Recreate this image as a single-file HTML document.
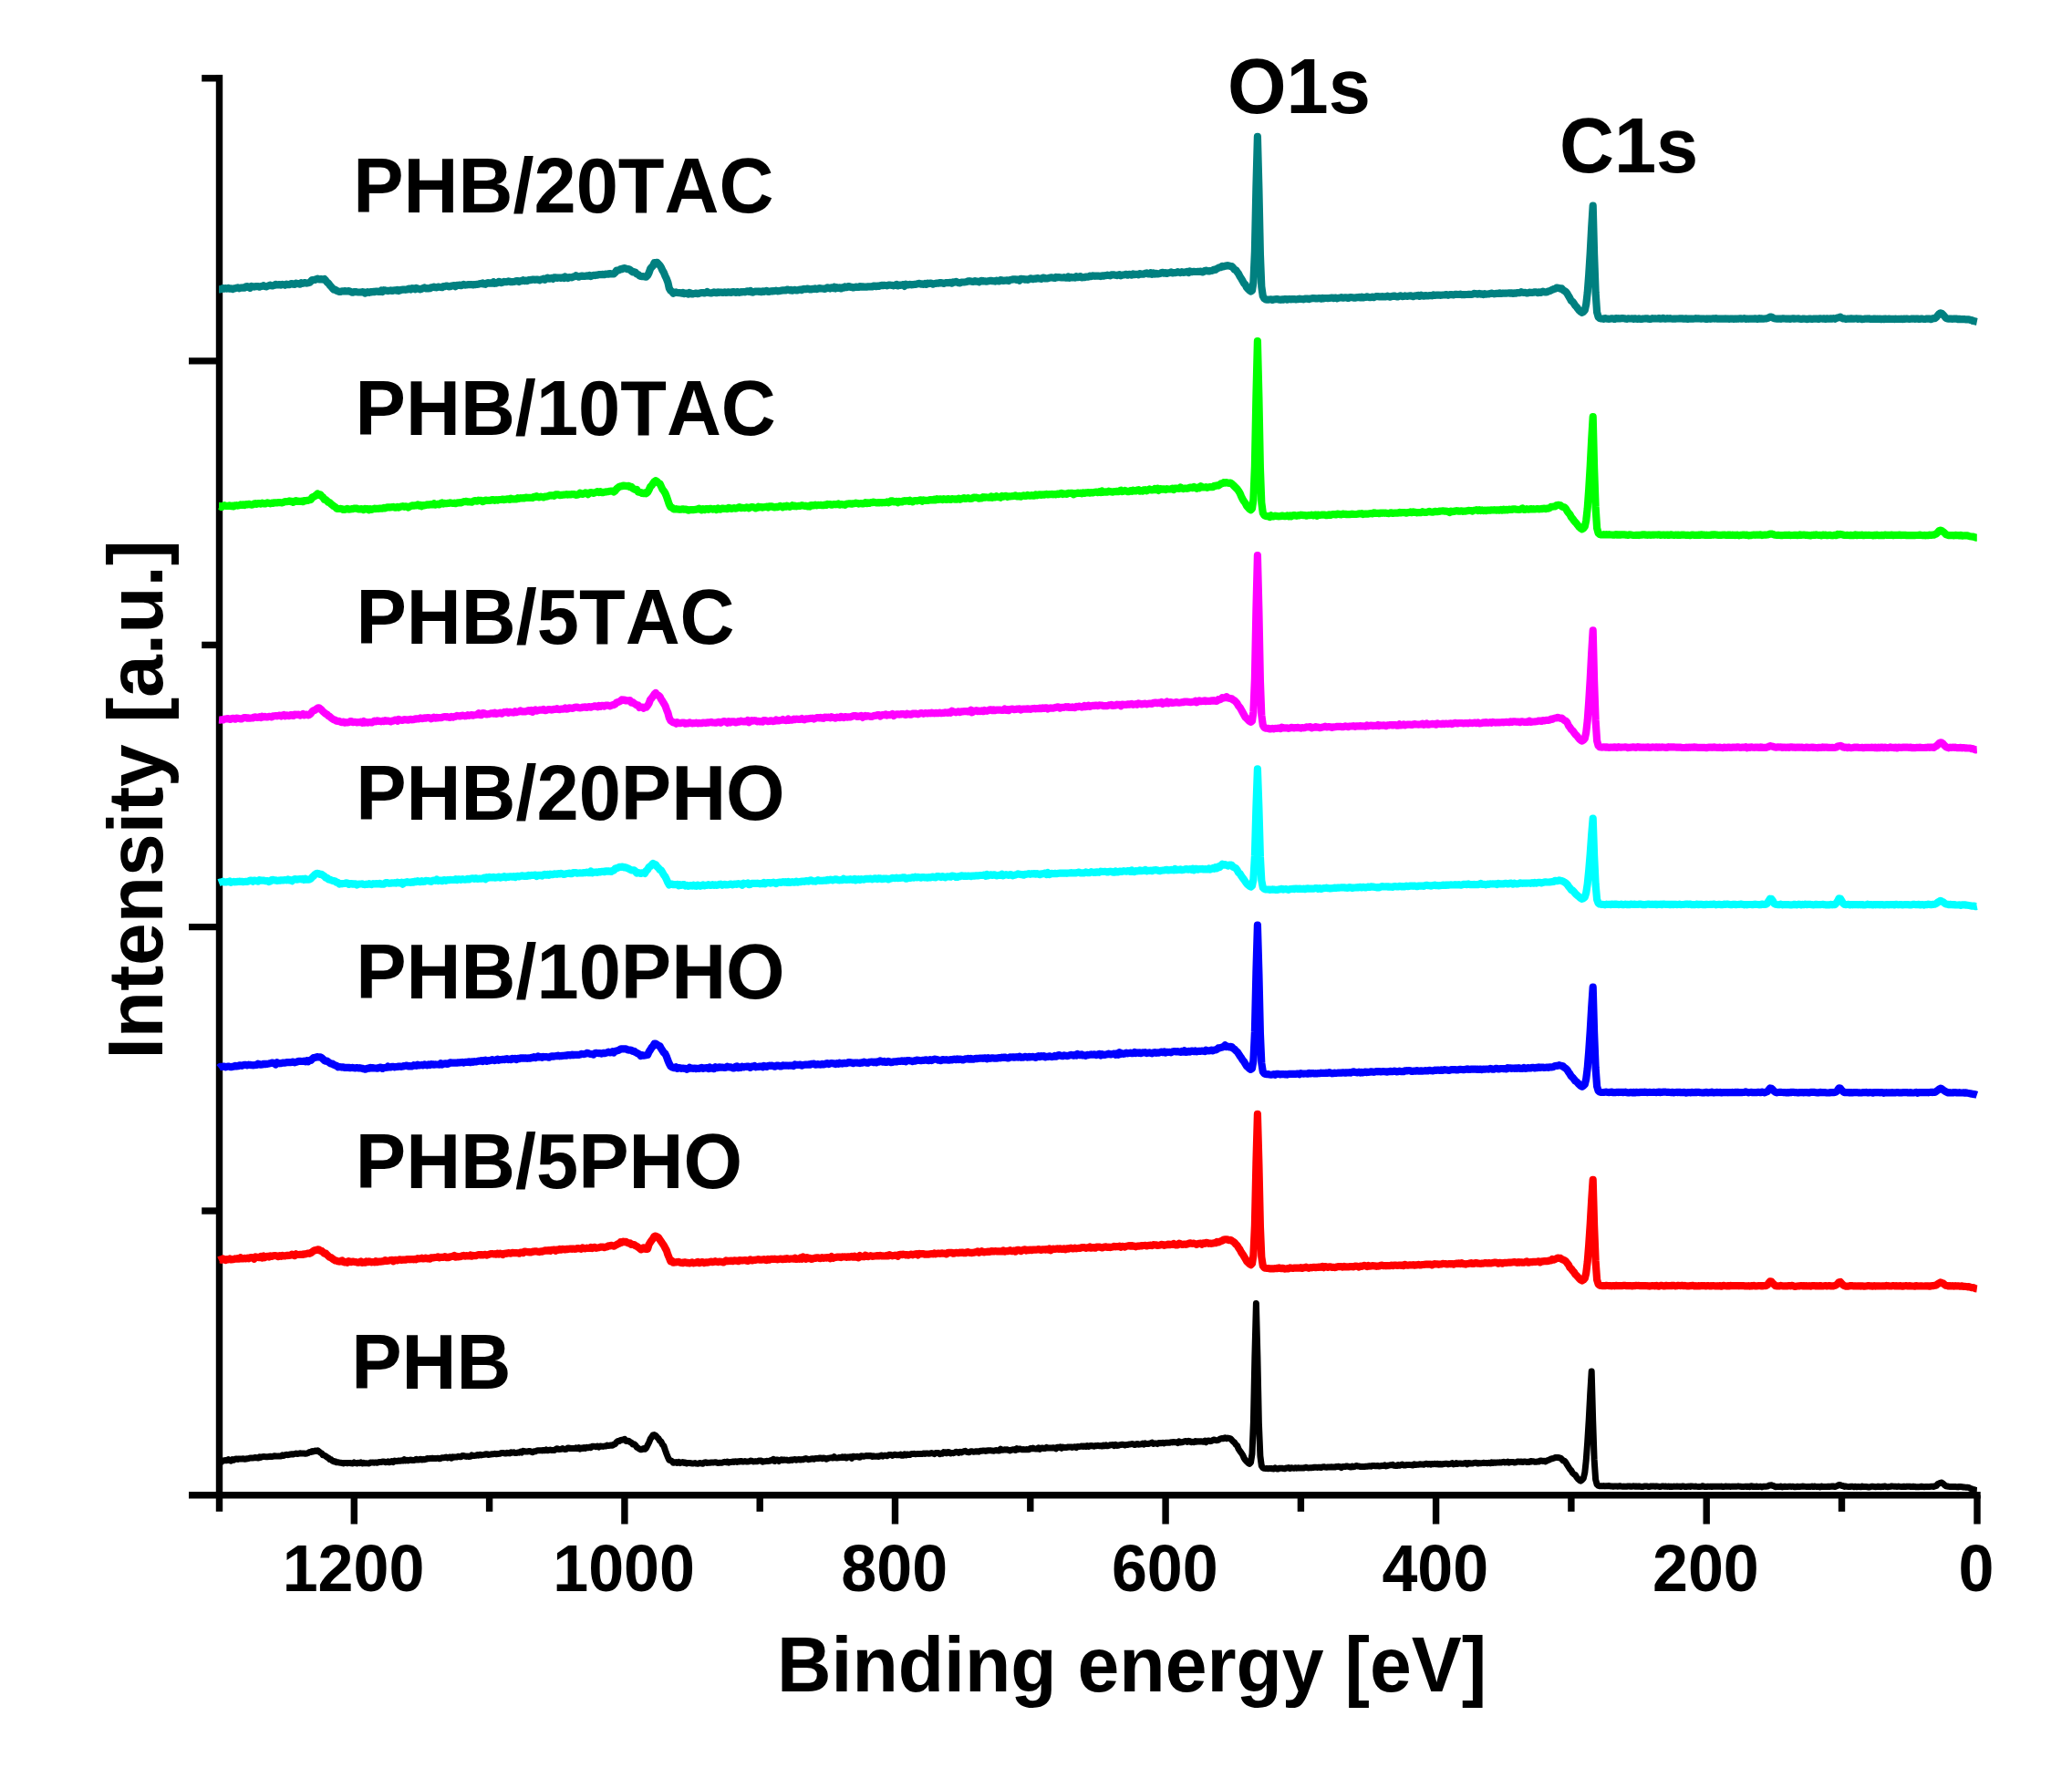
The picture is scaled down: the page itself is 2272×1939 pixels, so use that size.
<!DOCTYPE html>
<html lang="en"><head><meta charset="utf-8"><title>XPS survey spectra</title>
<style>
html,body{margin:0;padding:0;background:#fff;}
body{width:2272px;height:1939px;overflow:hidden;}
svg{display:block;}
text{font-family:"Liberation Sans",Arial,Helvetica,sans-serif;font-weight:bold;fill:#000;font-kerning:none;}
.lab{font-size:83px;}
.tick{font-size:70px;text-anchor:middle;}
.ax{stroke:#000;stroke-width:7.4;stroke-linecap:butt;fill:none;}
.cv{fill:none;stroke-width:8.2;stroke-linejoin:round;stroke-linecap:butt;}
</style></head>
<body>
<svg width="2272" height="1939" viewBox="0 0 2272 1939">
<rect width="2272" height="1939" fill="#fff"/>
<g class="ax">
<path d="M240.5 82.1V1657.8"/>
<path d="M207 1639.8H2171.7"/>
<path d="M221.2 85.8H240.5"/>
<path d="M207 395.9H240.5"/>
<path d="M221.2 707.4H240.5"/>
<path d="M207 1016.6H240.5"/>
<path d="M221.2 1328.0H240.5"/>
<path d="M2168.0 1639.8V1671.5"/>
<path d="M2019.5 1639.8V1657.8"/>
<path d="M1871.2 1639.8V1671.5"/>
<path d="M1722.9 1639.8V1657.8"/>
<path d="M1574.6 1639.8V1671.5"/>
<path d="M1426.4 1639.8V1657.8"/>
<path d="M1278.1 1639.8V1671.5"/>
<path d="M1129.8 1639.8V1657.8"/>
<path d="M981.5 1639.8V1671.5"/>
<path d="M833.2 1639.8V1657.8"/>
<path d="M684.9 1639.8V1671.5"/>
<path d="M536.6 1639.8V1657.8"/>
<path d="M388.3 1639.8V1671.5"/>
</g>
<path class="cv" stroke="#008080" d="M240.0 317.4L241.5 317.4L243.0 317.0L244.5 316.1L246.0 316.6L247.4 316.1L248.9 316.6L250.4 315.8L251.9 316.7L253.4 316.4L254.9 317.1L256.3 316.3L257.8 316.3L259.3 315.7L260.8 315.4L262.3 316.3L263.8 315.6L265.2 315.7L266.7 315.4L268.2 315.6L269.7 314.3L271.2 314.2L272.7 315.2L274.1 315.9L275.6 313.8L277.1 314.3L278.6 314.6L280.1 314.2L281.6 314.2L283.0 314.0L284.5 314.6L286.0 314.0L287.5 314.0L289.0 313.2L290.4 314.0L291.9 314.4L293.4 313.8L294.9 313.2L296.4 312.7L297.9 313.4L299.3 313.3L300.8 312.9L302.3 311.8L303.8 312.4L305.3 312.2L306.8 312.2L308.2 312.6L309.7 311.9L311.2 312.2L312.7 312.8L314.2 311.7L315.7 312.0L317.1 312.2L318.6 311.5L320.1 311.0L321.6 311.7L323.1 311.9L324.6 310.6L326.0 311.1L327.5 311.0L329.0 311.7L330.5 310.2L332.0 310.8L333.5 310.1L334.9 310.2L336.4 310.6L337.9 310.3L339.4 309.9L340.9 308.5L342.4 307.0L343.8 307.0L345.3 307.0L346.8 306.1L348.3 305.7L349.8 306.5L351.2 306.2L352.7 306.2L354.2 306.6L355.7 306.0L357.2 307.6L358.7 309.6L360.1 310.6L361.6 312.7L363.1 314.4L364.6 316.1L366.1 317.7L367.6 317.6L369.0 318.7L370.5 319.4L372.0 319.9L373.5 319.9L375.0 319.4L376.5 319.5L377.9 319.1L379.4 319.4L380.9 319.3L382.4 319.2L383.9 319.7L385.4 320.4L386.8 320.7L388.3 320.1L389.8 320.0L391.3 320.3L392.8 320.5L394.3 320.5L395.7 320.5L397.2 320.2L398.7 320.3L400.2 321.5L401.7 321.0L403.1 320.1L404.6 320.8L406.1 320.0L407.6 320.3L409.1 319.9L410.6 320.1L412.0 319.6L413.5 319.6L415.0 319.9L416.5 319.8L418.0 318.6L419.5 319.9L420.9 318.2L422.4 318.4L423.9 318.7L425.4 319.1L426.9 318.7L428.4 318.4L429.8 319.0L431.3 318.5L432.8 318.3L434.3 318.6L435.8 317.8L437.3 319.0L438.7 318.5L440.2 317.8L441.7 317.7L443.2 317.6L444.7 317.8L446.2 317.5L447.6 316.8L449.1 316.6L450.6 317.5L452.1 316.2L453.6 316.4L455.1 317.2L456.5 315.9L458.0 316.7L459.5 316.8L461.0 317.4L462.5 316.7L463.9 316.1L465.4 315.4L466.9 316.4L468.4 316.2L469.9 316.3L471.4 316.2L472.8 315.3L474.3 315.1L475.8 314.6L477.3 315.2L478.8 315.3L480.3 314.5L481.7 314.8L483.2 315.0L484.7 315.2L486.2 314.0L487.7 314.1L489.2 313.6L490.6 313.5L492.1 314.3L493.6 314.2L495.1 313.5L496.6 313.4L498.1 313.1L499.5 314.2L501.0 312.9L502.5 312.9L504.0 312.6L505.5 313.2L507.0 312.5L508.4 311.8L509.9 312.6L511.4 312.5L512.9 312.2L514.4 312.2L515.8 312.2L517.3 312.1L518.8 312.4L520.3 312.1L521.8 312.1L523.3 311.8L524.7 311.7L526.2 311.2L527.7 311.2L529.2 310.5L530.7 311.5L532.2 311.8L533.6 310.7L535.1 310.2L536.6 310.7L538.1 310.3L539.6 310.7L541.1 309.4L542.5 310.8L544.0 310.6L545.5 310.1L547.0 308.8L548.5 309.5L550.0 310.2L551.4 309.5L552.9 308.9L554.4 309.2L555.9 309.1L557.4 308.4L558.9 308.8L560.3 309.2L561.8 309.1L563.3 309.0L564.8 308.6L566.3 308.0L567.8 308.1L569.2 309.0L570.7 308.2L572.2 308.2L573.7 307.2L575.2 308.1L576.6 307.6L578.1 308.1L579.6 307.1L581.1 307.1L582.6 306.9L584.1 306.6L585.5 306.7L587.0 306.8L588.5 306.6L590.0 306.6L591.5 307.3L593.0 306.5L594.4 306.4L595.9 305.7L597.4 306.8L598.9 305.5L600.4 304.7L601.9 305.7L603.3 305.7L604.8 304.9L606.3 305.9L607.8 304.4L609.3 304.3L610.8 304.9L612.2 304.6L613.7 304.6L615.2 304.9L616.7 304.4L618.2 305.0L619.7 303.5L621.1 304.4L622.6 305.0L624.1 304.0L625.6 304.2L627.1 304.3L628.5 303.6L630.0 303.3L631.5 302.2L633.0 302.9L634.5 303.7L636.0 303.0L637.4 302.5L638.9 303.0L640.4 302.8L641.9 302.8L643.4 302.4L644.9 302.7L646.3 302.0L647.8 303.0L649.3 302.3L650.8 301.8L652.3 302.1L653.8 301.7L655.2 301.7L656.7 301.2L658.2 301.2L659.7 301.1L661.2 300.9L662.7 301.2L664.1 300.6L665.6 300.5L667.1 300.7L668.6 300.0L670.1 300.4L671.6 300.4L673.0 300.3L674.5 299.0L676.0 296.6L677.5 296.7L679.0 296.2L680.5 295.1L681.9 295.2L683.4 294.3L684.9 294.2L686.4 294.7L687.9 295.2L689.3 295.1L690.8 295.9L692.3 297.2L693.8 298.4L695.3 298.1L696.8 298.8L698.2 300.6L699.7 300.9L701.2 302.4L702.7 303.0L704.2 303.2L705.7 303.2L707.1 303.4L708.6 303.7L710.1 302.2L711.6 299.1L713.1 294.8L714.6 292.9L716.0 291.6L717.5 288.1L719.0 288.1L720.5 287.9L722.0 289.5L723.5 290.9L724.9 293.1L726.4 296.5L727.9 298.9L729.4 302.7L730.9 305.8L732.4 309.9L733.8 316.1L735.3 318.7L736.8 319.8L738.3 321.7L739.8 320.8L741.3 320.4L742.7 321.0L744.2 321.2L745.7 321.2L747.2 321.6L748.7 320.9L750.1 322.1L751.6 321.6L753.1 321.6L754.6 322.6L756.1 321.0L757.6 321.6L759.0 322.5L760.5 322.0L762.0 322.0L763.5 321.5L765.0 322.1L766.5 321.9L767.9 321.2L769.4 321.0L770.9 321.1L772.4 321.4L773.9 321.1L775.4 320.0L776.8 320.9L778.3 321.2L779.8 321.5L781.3 321.1L782.8 320.3L784.3 320.8L785.7 321.2L787.2 320.3L788.7 320.8L790.2 320.5L791.7 320.9L793.2 320.8L794.6 320.4L796.1 321.0L797.6 320.6L799.1 320.3L800.6 320.8L802.0 321.0L803.5 320.2L805.0 320.1L806.5 320.8L808.0 320.0L809.5 320.5L810.9 320.9L812.4 320.2L813.9 320.3L815.4 320.0L816.9 320.3L818.4 319.5L819.8 319.3L821.3 319.9L822.8 318.9L824.3 320.5L825.8 320.6L827.3 319.9L828.7 319.5L830.2 319.5L831.7 319.8L833.2 319.5L834.7 320.2L836.2 319.3L837.6 319.8L839.1 319.3L840.6 318.8L842.1 319.9L843.6 319.8L845.1 319.4L846.5 319.2L848.0 319.3L849.5 319.1L851.0 318.7L852.5 319.3L854.0 319.2L855.4 318.9L856.9 318.6L858.4 318.4L859.9 318.4L861.4 318.5L862.8 317.7L864.3 317.7L865.8 318.3L867.3 317.8L868.8 318.6L870.3 318.0L871.7 317.9L873.2 318.4L874.7 318.3L876.2 317.7L877.7 317.5L879.2 318.1L880.6 317.0L882.1 316.9L883.6 317.2L885.1 316.6L886.6 316.8L888.1 317.4L889.5 317.5L891.0 316.9L892.5 316.9L894.0 316.4L895.5 317.1L897.0 316.6L898.4 316.1L899.9 316.4L901.4 316.5L902.9 316.6L904.4 316.9L905.9 316.4L907.3 315.3L908.8 315.9L910.3 316.5L911.8 315.4L913.3 316.1L914.7 314.9L916.2 316.4L917.7 315.2L919.2 315.9L920.7 315.3L922.2 316.4L923.6 315.4L925.1 315.7L926.6 314.4L928.1 315.2L929.6 314.5L931.1 314.0L932.5 314.9L934.0 314.8L935.5 315.5L937.0 315.1L938.5 314.6L940.0 314.9L941.4 314.9L942.9 314.0L944.4 314.6L945.9 314.4L947.4 314.6L948.9 314.5L950.3 314.6L951.8 314.4L953.3 314.4L954.8 314.3L956.3 314.5L957.8 313.6L959.2 313.5L960.7 314.1L962.2 313.6L963.7 313.9L965.2 313.3L966.7 312.9L968.1 313.1L969.6 312.9L971.1 313.0L972.6 313.3L974.1 312.5L975.5 312.6L977.0 312.8L978.5 312.8L980.0 313.3L981.5 312.7L983.0 312.0L984.4 313.4L985.9 312.5L987.4 312.9L988.9 312.4L990.4 312.1L991.9 313.8L993.3 311.7L994.8 312.4L996.3 312.3L997.8 311.9L999.3 312.3L1000.8 312.2L1002.2 311.9L1003.7 311.9L1005.2 311.6L1006.7 311.1L1008.2 310.9L1009.7 311.7L1011.1 311.3L1012.6 311.8L1014.1 311.0L1015.6 311.8L1017.1 310.6L1018.6 311.2L1020.0 310.5L1021.5 310.8L1023.0 311.6L1024.5 311.0L1026.0 310.9L1027.4 310.6L1028.9 310.6L1030.4 310.0L1031.9 310.5L1033.4 310.3L1034.9 310.9L1036.3 310.4L1037.8 310.0L1039.3 310.1L1040.8 310.1L1042.3 309.8L1043.8 310.6L1045.2 309.4L1046.7 309.7L1048.2 308.9L1049.7 309.5L1051.2 310.2L1052.7 310.3L1054.1 309.6L1055.6 309.5L1057.1 309.5L1058.6 309.3L1060.1 309.0L1061.6 308.4L1063.0 308.2L1064.5 308.5L1066.0 308.8L1067.5 308.9L1069.0 308.1L1070.5 308.6L1071.9 308.7L1073.4 309.3L1074.9 308.5L1076.4 307.8L1077.9 308.5L1079.4 308.3L1080.8 308.6L1082.3 308.6L1083.8 308.2L1085.3 307.9L1086.8 307.9L1088.2 308.1L1089.7 308.3L1091.2 308.6L1092.7 307.7L1094.2 308.2L1095.7 308.4L1097.1 307.2L1098.6 307.3L1100.1 308.0L1101.6 307.6L1103.1 307.6L1104.6 307.3L1106.0 308.0L1107.5 307.0L1109.0 306.8L1110.5 306.3L1112.0 306.3L1113.5 306.3L1114.9 306.9L1116.4 306.5L1117.9 307.6L1119.4 305.8L1120.9 306.1L1122.4 306.2L1123.8 306.7L1125.3 306.4L1126.8 306.8L1128.3 306.3L1129.8 305.4L1131.3 305.6L1132.7 306.2L1134.2 305.6L1135.7 305.8L1137.2 305.0L1138.7 305.5L1140.2 305.5L1141.6 305.9L1143.1 305.0L1144.6 304.5L1146.1 305.5L1147.6 305.3L1149.0 305.3L1150.5 304.7L1152.0 304.4L1153.5 304.4L1155.0 304.8L1156.5 305.0L1157.9 303.9L1159.4 304.3L1160.9 304.1L1162.4 304.3L1163.9 304.5L1165.4 304.5L1166.8 304.2L1168.3 304.6L1169.8 304.7L1171.3 303.5L1172.8 304.8L1174.3 303.9L1175.7 304.5L1177.2 304.2L1178.7 304.6L1180.2 303.3L1181.7 304.2L1183.2 303.6L1184.6 303.1L1186.1 304.4L1187.6 304.2L1189.1 304.2L1190.6 303.5L1192.1 303.5L1193.5 303.6L1195.0 302.7L1196.5 303.2L1198.0 302.4L1199.5 302.5L1200.9 302.8L1202.4 302.6L1203.9 302.5L1205.4 302.8L1206.9 303.1L1208.4 302.4L1209.8 302.7L1211.3 302.3L1212.8 302.1L1214.3 301.7L1215.8 302.0L1217.3 302.3L1218.7 301.3L1220.2 301.4L1221.7 301.3L1223.2 301.8L1224.7 302.1L1226.2 301.6L1227.6 301.1L1229.1 302.3L1230.6 301.6L1232.1 301.5L1233.6 301.1L1235.1 300.8L1236.5 301.7L1238.0 300.8L1239.5 301.0L1241.0 301.7L1242.5 300.4L1244.0 301.1L1245.4 300.9L1246.9 300.9L1248.4 301.4L1249.9 300.1L1251.4 300.7L1252.9 300.6L1254.3 300.7L1255.8 299.7L1257.3 299.4L1258.8 300.5L1260.3 300.5L1261.7 299.3L1263.2 300.7L1264.7 299.5L1266.2 300.5L1267.7 299.8L1269.2 300.5L1270.6 300.2L1272.1 299.9L1273.6 299.0L1275.1 298.8L1276.6 299.7L1278.1 299.1L1279.5 299.9L1281.0 299.3L1282.5 299.1L1284.0 298.4L1285.5 299.5L1287.0 299.1L1288.4 299.2L1289.9 299.0L1291.4 298.2L1292.9 298.6L1294.4 299.1L1295.9 298.2L1297.3 298.9L1298.8 298.7L1300.3 298.3L1301.8 297.8L1303.3 299.0L1304.8 297.5L1306.2 298.1L1307.7 298.1L1309.2 297.8L1310.7 298.0L1312.2 298.0L1313.6 297.8L1315.1 297.8L1316.6 297.7L1318.1 298.5L1319.6 298.0L1321.1 297.0L1322.5 296.6L1324.0 297.2L1325.5 297.5L1327.0 297.0L1328.5 297.0L1330.0 296.4L1331.4 295.6L1332.9 295.8L1334.4 294.6L1335.9 293.9L1337.4 293.3L1338.9 293.1L1340.3 291.8L1341.8 292.3L1343.3 291.5L1344.8 291.7L1346.3 291.2L1347.8 291.5L1349.2 292.2L1350.7 292.2L1352.2 293.7L1353.7 295.6L1355.2 296.2L1356.7 298.3L1358.1 300.2L1359.6 303.3L1361.1 305.5L1362.6 308.1L1364.1 310.9L1365.6 312.2L1367.0 315.3L1368.5 316.9L1370.0 318.4L1371.5 319.5L1373.0 318.5L1374.4 309.5L1375.9 275.8L1377.4 205.7L1378.9 149.9L1380.4 207.2L1381.9 279.0L1383.3 314.3L1384.8 324.8L1386.3 327.4L1387.8 328.4L1389.3 328.6L1390.8 328.6L1392.2 328.5L1393.7 328.3L1395.2 328.9L1396.7 328.6L1398.2 328.3L1399.7 328.1L1401.1 328.2L1402.6 328.6L1404.1 328.8L1405.6 328.4L1407.1 328.6L1408.6 328.0L1410.0 328.1L1411.5 328.7L1413.0 328.2L1414.5 328.2L1416.0 328.3L1417.5 328.0L1418.9 328.0L1420.4 328.3L1421.9 328.3L1423.4 328.1L1424.9 327.7L1426.4 327.9L1427.8 328.0L1429.3 328.4L1430.8 327.6L1432.3 327.6L1433.8 327.7L1435.2 328.1L1436.7 327.5L1438.2 327.4L1439.7 327.0L1441.2 327.2L1442.7 327.3L1444.1 327.4L1445.6 327.2L1447.1 327.2L1448.6 327.7L1450.1 326.8L1451.6 327.3L1453.0 327.0L1454.5 327.0L1456.0 327.1L1457.5 327.0L1459.0 326.7L1460.5 326.5L1461.9 327.1L1463.4 326.9L1464.9 326.5L1466.4 327.3L1467.9 326.7L1469.4 326.5L1470.8 326.2L1472.3 326.7L1473.8 326.6L1475.3 326.3L1476.8 326.6L1478.3 327.0L1479.7 326.3L1481.2 326.1L1482.7 326.3L1484.2 326.6L1485.7 326.7L1487.1 326.3L1488.6 326.2L1490.1 325.9L1491.6 326.5L1493.1 325.6L1494.6 326.5L1496.0 326.1L1497.5 326.0L1499.0 325.4L1500.5 325.9L1502.0 326.1L1503.5 326.1L1504.9 325.5L1506.4 326.2L1507.9 325.4L1509.4 325.1L1510.9 325.2L1512.4 325.3L1513.8 325.5L1515.3 325.2L1516.8 325.3L1518.3 325.3L1519.8 325.4L1521.3 324.7L1522.7 325.1L1524.2 325.7L1525.7 325.1L1527.2 324.9L1528.7 324.5L1530.2 325.0L1531.6 325.4L1533.1 325.3L1534.6 324.6L1536.1 324.4L1537.6 325.1L1539.1 325.0L1540.5 324.4L1542.0 324.7L1543.5 324.9L1545.0 324.5L1546.5 324.3L1547.9 324.7L1549.4 325.2L1550.9 324.5L1552.4 324.4L1553.9 324.5L1555.4 323.8L1556.8 324.8L1558.3 323.7L1559.8 324.4L1561.3 324.6L1562.8 324.0L1564.3 324.5L1565.7 324.5L1567.2 324.1L1568.7 324.0L1570.2 324.3L1571.7 323.3L1573.2 323.9L1574.6 323.7L1576.1 323.7L1577.6 323.6L1579.1 323.8L1580.6 323.7L1582.1 323.5L1583.5 323.5L1585.0 323.2L1586.5 323.1L1588.0 323.8L1589.5 323.2L1591.0 323.2L1592.4 323.2L1593.9 323.4L1595.4 322.9L1596.9 322.8L1598.4 323.0L1599.8 323.0L1601.3 322.6L1602.8 323.1L1604.3 323.1L1605.8 323.2L1607.3 323.0L1608.7 323.0L1610.2 322.9L1611.7 322.9L1613.2 323.0L1614.7 322.8L1616.2 321.9L1617.6 322.0L1619.1 322.4L1620.6 322.6L1622.1 321.9L1623.6 322.6L1625.1 322.4L1626.5 323.1L1628.0 322.2L1629.5 322.6L1631.0 322.5L1632.5 322.4L1634.0 322.1L1635.4 321.6L1636.9 321.9L1638.4 322.3L1639.9 322.1L1641.4 321.8L1642.9 321.8L1644.3 321.3L1645.8 322.0L1647.3 321.7L1648.8 321.7L1650.3 321.5L1651.8 321.6L1653.2 321.5L1654.7 321.4L1656.2 321.6L1657.7 321.3L1659.2 322.0L1660.6 321.4L1662.1 321.7L1663.6 321.1L1665.1 321.1L1666.6 321.2L1668.1 320.2L1669.5 320.8L1671.0 321.0L1672.5 320.8L1674.0 321.3L1675.5 321.4L1677.0 320.7L1678.4 320.8L1679.9 320.9L1681.4 320.7L1682.9 320.3L1684.4 320.4L1685.9 321.1L1687.3 320.3L1688.8 321.0L1690.3 320.5L1691.8 319.7L1693.3 320.2L1694.8 320.5L1696.2 320.2L1697.7 319.5L1699.2 319.1L1700.7 318.5L1702.2 317.7L1703.7 317.1L1705.1 316.8L1706.6 315.7L1708.1 315.7L1709.6 316.0L1711.1 316.6L1712.5 316.4L1714.0 318.1L1715.5 319.1L1717.0 320.0L1718.5 322.0L1720.0 324.7L1721.4 327.0L1722.9 330.0L1724.4 330.8L1725.9 332.9L1727.4 335.2L1728.9 336.8L1730.3 338.7L1731.8 340.6L1733.3 342.0L1734.8 342.8L1736.3 341.9L1737.8 340.1L1739.2 333.9L1740.7 321.1L1742.2 301.2L1743.7 277.4L1745.2 249.5L1746.7 225.5L1748.1 279.1L1749.6 320.3L1751.1 342.4L1752.6 347.7L1754.1 349.1L1755.6 349.4L1757.0 349.5L1758.5 349.9L1760.0 349.1L1761.5 349.4L1763.0 349.7L1764.5 349.8L1765.9 349.6L1767.4 349.3L1768.9 349.6L1770.4 350.0L1771.9 349.0L1773.3 349.4L1774.8 349.2L1776.3 349.4L1777.8 349.2L1779.3 349.1L1780.8 349.3L1782.2 349.6L1783.7 349.8L1785.2 349.3L1786.7 349.5L1788.2 349.5L1789.7 349.4L1791.1 349.8L1792.6 349.3L1794.1 349.7L1795.6 349.8L1797.1 349.3L1798.6 349.8L1800.0 349.9L1801.5 349.6L1803.0 349.5L1804.5 349.3L1806.0 349.3L1807.5 349.7L1808.9 349.9L1810.4 349.9L1811.9 349.2L1813.4 349.5L1814.9 349.4L1816.4 349.5L1817.8 349.4L1819.3 349.0L1820.8 349.7L1822.3 349.5L1823.8 348.9L1825.3 349.7L1826.7 349.6L1828.2 349.2L1829.7 349.4L1831.2 349.2L1832.7 349.5L1834.1 349.7L1835.6 349.5L1837.1 349.6L1838.6 349.5L1840.1 349.5L1841.6 349.4L1843.0 349.4L1844.5 349.4L1846.0 349.6L1847.5 349.6L1849.0 349.4L1850.5 349.9L1851.9 349.6L1853.4 349.7L1854.9 349.6L1856.4 349.7L1857.9 349.5L1859.4 349.2L1860.8 349.5L1862.3 349.3L1863.8 349.5L1865.3 349.6L1866.8 349.5L1868.3 349.5L1869.7 349.7L1871.2 350.0L1872.7 349.5L1874.2 349.6L1875.7 349.8L1877.2 349.5L1878.6 349.3L1880.1 349.6L1881.6 349.2L1883.1 349.7L1884.6 349.6L1886.0 349.6L1887.5 349.7L1889.0 349.7L1890.5 349.7L1892.0 349.4L1893.5 349.7L1894.9 349.7L1896.4 349.8L1897.9 349.5L1899.4 349.5L1900.9 349.9L1902.4 349.6L1903.8 349.8L1905.3 349.5L1906.8 349.6L1908.3 349.3L1909.8 349.7L1911.3 349.5L1912.7 349.2L1914.2 349.9L1915.7 349.6L1917.2 349.8L1918.7 349.6L1920.2 349.7L1921.6 349.6L1923.1 349.6L1924.6 349.4L1926.1 349.5L1927.6 350.0L1929.1 349.2L1930.5 349.6L1932.0 349.4L1933.5 349.7L1935.0 349.5L1936.5 349.4L1938.0 349.1L1939.4 348.5L1940.9 347.7L1942.4 347.6L1943.9 348.4L1945.4 349.3L1946.8 349.5L1948.3 349.6L1949.8 349.6L1951.3 349.6L1952.8 349.8L1954.3 349.4L1955.7 349.4L1957.2 349.5L1958.7 349.7L1960.2 349.6L1961.7 349.7L1963.2 349.8L1964.6 349.5L1966.1 349.3L1967.6 349.7L1969.1 349.5L1970.6 349.5L1972.1 349.4L1973.5 349.8L1975.0 350.0L1976.5 349.7L1978.0 349.6L1979.5 349.8L1981.0 350.1L1982.4 349.9L1983.9 349.6L1985.4 349.7L1986.9 350.0L1988.4 349.6L1989.9 349.7L1991.3 349.6L1992.8 349.7L1994.3 350.0L1995.8 349.4L1997.3 349.5L1998.7 349.6L2000.2 349.4L2001.7 350.0L2003.2 349.4L2004.7 349.6L2006.2 349.6L2007.6 349.4L2009.1 349.6L2010.6 349.2L2012.1 349.8L2013.6 348.9L2015.1 348.5L2016.5 348.1L2018.0 347.6L2019.5 348.8L2021.0 349.4L2022.5 349.4L2024.0 349.9L2025.4 349.7L2026.9 349.7L2028.4 349.6L2029.9 349.4L2031.4 349.6L2032.9 349.6L2034.3 349.5L2035.8 349.4L2037.3 349.9L2038.8 349.5L2040.3 349.5L2041.8 350.1L2043.2 350.0L2044.7 349.6L2046.2 349.6L2047.7 349.7L2049.2 349.4L2050.7 349.9L2052.1 349.8L2053.6 349.9L2055.1 349.5L2056.6 350.0L2058.1 349.6L2059.5 350.0L2061.0 349.7L2062.5 350.2L2064.0 349.8L2065.5 350.1L2067.0 349.5L2068.4 349.9L2069.9 349.8L2071.4 349.7L2072.9 349.8L2074.4 349.9L2075.9 349.8L2077.3 350.1L2078.8 349.7L2080.3 350.0L2081.8 349.9L2083.3 349.9L2084.8 349.7L2086.2 350.1L2087.7 349.7L2089.2 349.8L2090.7 349.6L2092.2 349.8L2093.7 350.0L2095.1 349.8L2096.6 349.5L2098.1 349.5L2099.6 349.8L2101.1 349.7L2102.6 349.6L2104.0 349.9L2105.5 349.9L2107.0 349.5L2108.5 349.8L2110.0 350.0L2111.4 349.9L2112.9 349.5L2114.4 349.6L2115.9 349.6L2117.4 350.2L2118.9 349.7L2120.3 349.0L2121.8 349.1L2123.3 347.9L2124.8 345.9L2126.3 344.2L2127.8 343.3L2129.2 343.8L2130.7 345.2L2132.2 346.9L2133.7 348.9L2135.2 349.4L2136.7 349.6L2138.1 349.6L2139.6 349.7L2141.1 349.8L2142.6 349.6L2144.1 349.7L2145.6 349.6L2147.0 350.1L2148.5 349.9L2150.0 350.1L2151.5 350.0L2153.0 350.1L2154.5 350.2L2155.9 350.4L2157.4 350.4L2158.9 350.4L2160.4 350.9L2161.9 351.0L2163.4 352.0L2164.8 352.1L2166.3 352.6L2167.8 352.9"/>
<path class="cv" stroke="#00ff00" d="M240.0 555.0L241.5 555.0L243.0 556.1L244.5 554.8L246.0 554.2L247.4 554.9L248.9 554.8L250.4 554.9L251.9 554.3L253.4 555.1L254.9 554.6L256.3 555.4L257.8 554.4L259.3 554.2L260.8 554.6L262.3 554.3L263.8 553.4L265.2 554.0L266.7 553.3L268.2 554.0L269.7 553.1L271.2 553.4L272.7 552.8L274.1 553.2L275.6 553.6L277.1 553.4L278.6 552.5L280.1 552.1L281.6 552.9L283.0 552.2L284.5 552.1L286.0 552.6L287.5 551.7L289.0 552.5L290.4 552.5L291.9 552.0L293.4 551.4L294.9 551.7L296.4 552.4L297.9 551.7L299.3 552.0L300.8 551.4L302.3 551.3L303.8 551.3L305.3 551.2L306.8 551.1L308.2 551.3L309.7 551.4L311.2 550.7L312.7 550.2L314.2 550.2L315.7 550.0L317.1 549.4L318.6 550.2L320.1 549.8L321.6 550.9L323.1 549.7L324.6 549.2L326.0 550.0L327.5 549.7L329.0 550.0L330.5 549.6L332.0 550.2L333.5 549.0L334.9 549.3L336.4 548.9L337.9 548.8L339.4 548.2L340.9 547.9L342.4 545.4L343.8 544.9L345.3 544.0L346.8 543.0L348.3 541.5L349.8 542.8L351.2 542.4L352.7 544.3L354.2 545.4L355.7 547.9L357.2 548.0L358.7 549.4L360.1 550.9L361.6 551.3L363.1 552.9L364.6 554.0L366.1 555.2L367.6 556.0L369.0 557.5L370.5 558.0L372.0 558.0L373.5 557.9L375.0 558.3L376.5 559.0L377.9 558.9L379.4 558.4L380.9 557.9L382.4 558.7L383.9 558.5L385.4 558.2L386.8 558.2L388.3 557.7L389.8 557.6L391.3 557.7L392.8 558.5L394.3 558.5L395.7 558.1L397.2 558.3L398.7 559.1L400.2 557.9L401.7 558.3L403.1 558.0L404.6 559.3L406.1 558.1L407.6 558.8L409.1 558.4L410.6 557.7L412.0 558.1L413.5 557.8L415.0 557.9L416.5 557.6L418.0 557.7L419.5 557.6L420.9 556.9L422.4 557.4L423.9 556.6L425.4 556.3L426.9 556.6L428.4 556.3L429.8 556.2L431.3 555.9L432.8 556.7L434.3 556.6L435.8 555.8L437.3 556.6L438.7 555.9L440.2 555.5L441.7 555.2L443.2 555.8L444.7 555.4L446.2 555.5L447.6 556.6L449.1 555.6L450.6 555.0L452.1 554.4L453.6 554.6L455.1 554.4L456.5 554.3L458.0 553.4L459.5 554.5L461.0 553.8L462.5 555.2L463.9 554.0L465.4 554.4L466.9 554.0L468.4 553.4L469.9 553.7L471.4 553.3L472.8 553.2L474.3 553.3L475.8 552.3L477.3 553.7L478.8 553.2L480.3 552.8L481.7 553.4L483.2 552.2L484.7 551.4L486.2 552.6L487.7 551.9L489.2 552.2L490.6 551.9L492.1 551.9L493.6 551.4L495.1 551.8L496.6 552.0L498.1 551.7L499.5 552.2L501.0 551.6L502.5 551.4L504.0 551.2L505.5 551.3L507.0 550.8L508.4 550.2L509.9 550.2L511.4 549.8L512.9 550.4L514.4 550.4L515.8 550.5L517.3 550.7L518.8 549.8L520.3 549.0L521.8 549.5L523.3 549.7L524.7 548.7L526.2 548.9L527.7 548.9L529.2 550.2L530.7 549.7L532.2 548.7L533.6 548.7L535.1 548.9L536.6 548.9L538.1 548.7L539.6 548.0L541.1 548.0L542.5 548.9L544.0 548.2L545.5 548.6L547.0 548.0L548.5 548.0L550.0 547.9L551.4 547.5L552.9 548.1L554.4 547.8L555.9 547.3L557.4 547.3L558.9 547.9L560.3 546.6L561.8 547.3L563.3 547.3L564.8 547.4L566.3 547.3L567.8 546.1L569.2 546.8L570.7 546.1L572.2 546.5L573.7 546.1L575.2 546.4L576.6 545.5L578.1 545.8L579.6 545.9L581.1 545.8L582.6 545.8L584.1 546.1L585.5 544.8L587.0 545.1L588.5 544.2L590.0 545.1L591.5 545.5L593.0 544.7L594.4 545.1L595.9 545.4L597.4 544.5L598.9 544.6L600.4 544.5L601.9 543.7L603.3 543.3L604.8 543.6L606.3 543.3L607.8 543.8L609.3 542.4L610.8 542.4L612.2 542.4L613.7 543.2L615.2 542.9L616.7 542.8L618.2 542.6L619.7 542.5L621.1 542.2L622.6 542.6L624.1 542.3L625.6 542.4L627.1 542.1L628.5 542.1L630.0 542.0L631.5 542.8L633.0 542.7L634.5 542.1L636.0 540.7L637.4 541.7L638.9 541.9L640.4 541.4L641.9 540.4L643.4 540.8L644.9 542.1L646.3 540.7L647.8 540.0L649.3 540.4L650.8 540.9L652.3 540.4L653.8 539.7L655.2 539.1L656.7 540.1L658.2 539.1L659.7 540.2L661.2 540.2L662.7 539.7L664.1 539.4L665.6 539.3L667.1 539.1L668.6 538.8L670.1 538.6L671.6 538.5L673.0 539.5L674.5 538.4L676.0 536.2L677.5 535.0L679.0 533.9L680.5 533.4L681.9 533.2L683.4 532.5L684.9 532.8L686.4 532.9L687.9 533.2L689.3 532.8L690.8 534.2L692.3 533.9L693.8 535.5L695.3 536.4L696.8 537.2L698.2 536.9L699.7 539.5L701.2 539.9L702.7 540.0L704.2 541.0L705.7 541.1L707.1 540.3L708.6 541.2L710.1 539.9L711.6 537.2L713.1 533.9L714.6 532.4L716.0 530.3L717.5 528.3L719.0 527.1L720.5 528.1L722.0 529.7L723.5 530.4L724.9 533.3L726.4 536.7L727.9 538.5L729.4 540.9L730.9 544.5L732.4 549.1L733.8 553.2L735.3 556.2L736.8 556.7L738.3 558.0L739.8 558.5L741.3 558.1L742.7 558.5L744.2 558.6L745.7 558.8L747.2 558.6L748.7 558.3L750.1 558.7L751.6 558.6L753.1 558.8L754.6 559.6L756.1 559.4L757.6 559.0L759.0 559.1L760.5 559.1L762.0 559.0L763.5 558.6L765.0 558.5L766.5 557.7L767.9 558.6L769.4 559.4L770.9 558.1L772.4 559.1L773.9 558.0L775.4 558.1L776.8 558.8L778.3 557.8L779.8 557.9L781.3 558.6L782.8 558.0L784.3 558.4L785.7 559.1L787.2 557.4L788.7 558.4L790.2 558.6L791.7 557.7L793.2 557.6L794.6 558.0L796.1 557.9L797.6 558.2L799.1 556.9L800.6 557.4L802.0 557.9L803.5 557.6L805.0 557.1L806.5 557.6L808.0 557.5L809.5 556.7L810.9 556.2L812.4 557.1L813.9 556.9L815.4 557.0L816.9 557.1L818.4 556.4L819.8 556.5L821.3 557.3L822.8 556.4L824.3 556.1L825.8 556.1L827.3 556.8L828.7 557.4L830.2 556.9L831.7 555.7L833.2 556.3L834.7 556.0L836.2 556.6L837.6 556.3L839.1 556.0L840.6 555.7L842.1 556.6L843.6 555.3L845.1 555.7L846.5 555.3L848.0 556.2L849.5 556.4L851.0 555.9L852.5 556.1L854.0 555.6L855.4 554.9L856.9 555.5L858.4 556.3L859.9 555.2L861.4 555.7L862.8 554.6L864.3 555.5L865.8 555.8L867.3 555.3L868.8 554.2L870.3 555.1L871.7 554.6L873.2 555.3L874.7 555.0L876.2 554.8L877.7 554.9L879.2 554.2L880.6 554.5L882.1 554.9L883.6 554.7L885.1 555.3L886.6 554.8L888.1 555.5L889.5 554.0L891.0 554.2L892.5 554.3L894.0 553.6L895.5 554.3L897.0 553.9L898.4 554.0L899.9 553.9L901.4 554.1L902.9 554.2L904.4 553.6L905.9 554.0L907.3 552.9L908.8 553.2L910.3 553.0L911.8 553.7L913.3 553.4L914.7 553.0L916.2 553.3L917.7 553.1L919.2 552.5L920.7 553.6L922.2 553.0L923.6 553.3L925.1 553.4L926.6 553.8L928.1 552.8L929.6 552.5L931.1 552.3L932.5 552.4L934.0 552.7L935.5 552.3L937.0 552.1L938.5 551.6L940.0 552.0L941.4 552.6L942.9 552.3L944.4 552.1L945.9 552.5L947.4 552.2L948.9 551.2L950.3 552.1L951.8 551.3L953.3 551.9L954.8 551.1L956.3 551.2L957.8 550.5L959.2 551.0L960.7 551.4L962.2 551.2L963.7 551.5L965.2 551.0L966.7 551.3L968.1 551.2L969.6 551.0L971.1 551.1L972.6 550.4L974.1 551.3L975.5 550.9L977.0 549.3L978.5 549.4L980.0 550.5L981.5 550.5L983.0 549.8L984.4 551.2L985.9 549.8L987.4 550.3L988.9 550.5L990.4 549.5L991.9 549.1L993.3 549.6L994.8 549.2L996.3 549.9L997.8 548.8L999.3 549.8L1000.8 550.4L1002.2 549.2L1003.7 549.0L1005.2 549.4L1006.7 549.1L1008.2 548.6L1009.7 548.3L1011.1 549.7L1012.6 548.4L1014.1 548.8L1015.6 548.9L1017.1 548.9L1018.6 548.7L1020.0 548.0L1021.5 548.5L1023.0 548.5L1024.5 547.6L1026.0 548.4L1027.4 547.2L1028.9 548.0L1030.4 547.4L1031.9 547.4L1033.4 548.1L1034.9 547.1L1036.3 547.8L1037.8 548.0L1039.3 547.0L1040.8 547.4L1042.3 548.0L1043.8 547.1L1045.2 547.3L1046.7 547.6L1048.2 547.4L1049.7 547.7L1051.2 546.7L1052.7 547.8L1054.1 547.2L1055.6 546.7L1057.1 546.1L1058.6 547.0L1060.1 546.6L1061.6 546.2L1063.0 546.9L1064.5 546.8L1066.0 546.7L1067.5 545.7L1069.0 545.7L1070.5 545.5L1071.9 546.0L1073.4 546.6L1074.9 546.4L1076.4 546.4L1077.9 545.1L1079.4 545.7L1080.8 545.3L1082.3 545.5L1083.8 545.6L1085.3 545.6L1086.8 544.5L1088.2 545.8L1089.7 544.9L1091.2 545.4L1092.7 544.2L1094.2 545.1L1095.7 545.0L1097.1 545.7L1098.6 543.9L1100.1 544.6L1101.6 544.0L1103.1 543.9L1104.6 545.0L1106.0 544.4L1107.5 544.5L1109.0 544.3L1110.5 544.1L1112.0 544.0L1113.5 543.4L1114.9 544.4L1116.4 544.3L1117.9 543.8L1119.4 544.6L1120.9 543.8L1122.4 543.3L1123.8 543.8L1125.3 543.9L1126.8 542.9L1128.3 543.6L1129.8 543.7L1131.3 543.1L1132.7 543.6L1134.2 543.6L1135.7 542.4L1137.2 543.3L1138.7 542.6L1140.2 542.4L1141.6 542.9L1143.1 542.4L1144.6 542.7L1146.1 542.3L1147.6 541.9L1149.0 542.5L1150.5 542.2L1152.0 542.2L1153.5 541.9L1155.0 542.3L1156.5 542.0L1157.9 542.5L1159.4 541.7L1160.9 542.1L1162.4 541.4L1163.9 540.8L1165.4 542.0L1166.8 541.5L1168.3 541.6L1169.8 541.9L1171.3 540.8L1172.8 541.0L1174.3 540.8L1175.7 540.9L1177.2 542.3L1178.7 541.1L1180.2 541.1L1181.7 540.6L1183.2 540.9L1184.6 540.7L1186.1 541.4L1187.6 540.4L1189.1 541.0L1190.6 540.3L1192.1 540.4L1193.5 540.1L1195.0 540.6L1196.5 540.1L1198.0 540.5L1199.5 540.1L1200.9 539.8L1202.4 539.5L1203.9 540.1L1205.4 539.2L1206.9 540.0L1208.4 538.6L1209.8 539.8L1211.3 539.6L1212.8 539.4L1214.3 539.7L1215.8 538.7L1217.3 539.1L1218.7 539.4L1220.2 539.6L1221.7 539.1L1223.2 539.1L1224.7 538.9L1226.2 539.2L1227.6 538.4L1229.1 537.6L1230.6 539.1L1232.1 538.8L1233.6 537.9L1235.1 538.6L1236.5 539.1L1238.0 539.2L1239.5 538.2L1241.0 538.8L1242.5 537.6L1244.0 538.4L1245.4 538.4L1246.9 537.5L1248.4 537.2L1249.9 538.7L1251.4 538.2L1252.9 538.7L1254.3 537.4L1255.8 537.2L1257.3 538.3L1258.8 537.3L1260.3 536.5L1261.7 537.2L1263.2 537.5L1264.7 537.3L1266.2 536.0L1267.7 537.1L1269.2 535.9L1270.6 537.8L1272.1 536.1L1273.6 536.3L1275.1 536.7L1276.6 536.3L1278.1 537.0L1279.5 536.1L1281.0 536.5L1282.5 536.5L1284.0 536.4L1285.5 535.6L1287.0 536.9L1288.4 535.6L1289.9 535.5L1291.4 535.7L1292.9 535.9L1294.4 534.5L1295.9 535.5L1297.3 536.1L1298.8 535.6L1300.3 535.5L1301.8 535.8L1303.3 535.5L1304.8 534.6L1306.2 534.6L1307.7 535.1L1309.2 533.9L1310.7 534.9L1312.2 535.8L1313.6 534.6L1315.1 535.2L1316.6 533.2L1318.1 534.2L1319.6 534.4L1321.1 534.5L1322.5 534.0L1324.0 534.8L1325.5 534.2L1327.0 534.0L1328.5 534.1L1330.0 534.1L1331.4 532.9L1332.9 532.9L1334.4 532.3L1335.9 532.6L1337.4 531.6L1338.9 530.3L1340.3 530.3L1341.8 529.2L1343.3 529.7L1344.8 529.2L1346.3 529.7L1347.8 529.8L1349.2 529.5L1350.7 530.6L1352.2 532.0L1353.7 533.5L1355.2 535.0L1356.7 536.5L1358.1 538.4L1359.6 540.9L1361.1 544.4L1362.6 547.6L1364.1 549.9L1365.6 551.9L1367.0 554.8L1368.5 556.5L1370.0 558.1L1371.5 559.2L1373.0 557.8L1374.4 547.9L1375.9 511.1L1377.4 434.8L1378.9 374.1L1380.4 436.0L1381.9 513.5L1383.3 551.4L1384.8 562.6L1386.3 565.1L1387.8 565.9L1389.3 566.1L1390.8 566.1L1392.2 567.0L1393.7 565.3L1395.2 566.3L1396.7 566.5L1398.2 565.7L1399.7 565.9L1401.1 566.2L1402.6 566.3L1404.1 566.1L1405.6 565.5L1407.1 565.9L1408.6 566.1L1410.0 566.1L1411.5 565.3L1413.0 566.3L1414.5 565.5L1416.0 566.3L1417.5 565.2L1418.9 565.0L1420.4 565.5L1421.9 565.8L1423.4 565.2L1424.9 565.5L1426.4 564.7L1427.8 564.9L1429.3 565.1L1430.8 565.2L1432.3 565.7L1433.8 565.3L1435.2 565.1L1436.7 565.1L1438.2 564.7L1439.7 565.4L1441.2 564.8L1442.7 564.7L1444.1 565.8L1445.6 564.6L1447.1 565.0L1448.6 564.8L1450.1 564.5L1451.6 564.5L1453.0 564.8L1454.5 565.2L1456.0 564.9L1457.5 564.3L1459.0 564.9L1460.5 564.3L1461.9 564.1L1463.4 564.1L1464.9 564.5L1466.4 563.6L1467.9 563.8L1469.4 564.2L1470.8 564.3L1472.3 563.5L1473.8 563.9L1475.3 563.8L1476.8 564.2L1478.3 564.2L1479.7 564.2L1481.2 563.9L1482.7 563.7L1484.2 563.9L1485.7 564.0L1487.1 564.0L1488.6 563.8L1490.1 563.4L1491.6 563.5L1493.1 563.2L1494.6 564.2L1496.0 563.5L1497.5 563.7L1499.0 563.6L1500.5 563.6L1502.0 563.3L1503.5 563.0L1504.9 563.4L1506.4 562.3L1507.9 563.0L1509.4 562.8L1510.9 562.8L1512.4 563.2L1513.8 562.6L1515.3 562.8L1516.8 562.5L1518.3 562.8L1519.8 562.6L1521.3 563.0L1522.7 563.1L1524.2 562.6L1525.7 562.3L1527.2 563.0L1528.7 562.6L1530.2 562.7L1531.6 562.6L1533.1 562.6L1534.6 561.8L1536.1 562.4L1537.6 562.1L1539.1 562.2L1540.5 562.1L1542.0 562.7L1543.5 562.0L1545.0 562.1L1546.5 561.4L1547.9 562.2L1549.4 561.4L1550.9 562.0L1552.4 561.8L1553.9 562.3L1555.4 562.0L1556.8 562.2L1558.3 562.1L1559.8 561.2L1561.3 561.9L1562.8 561.9L1564.3 561.8L1565.7 561.4L1567.2 560.9L1568.7 561.5L1570.2 561.6L1571.7 561.6L1573.2 560.8L1574.6 561.2L1576.1 561.2L1577.6 561.0L1579.1 560.5L1580.6 560.5L1582.1 560.3L1583.5 560.6L1585.0 560.5L1586.5 560.9L1588.0 561.1L1589.5 562.0L1591.0 560.6L1592.4 561.1L1593.9 561.0L1595.4 560.5L1596.9 560.2L1598.4 560.3L1599.8 560.7L1601.3 560.6L1602.8 560.3L1604.3 560.8L1605.8 560.6L1607.3 560.6L1608.7 560.3L1610.2 559.8L1611.7 560.0L1613.2 560.1L1614.7 560.6L1616.2 559.7L1617.6 559.5L1619.1 559.2L1620.6 560.1L1622.1 559.2L1623.6 560.1L1625.1 559.4L1626.5 560.1L1628.0 559.6L1629.5 560.1L1631.0 559.6L1632.5 559.5L1634.0 559.6L1635.4 559.4L1636.9 559.5L1638.4 559.2L1639.9 559.4L1641.4 559.6L1642.9 559.3L1644.3 559.7L1645.8 558.9L1647.3 559.7L1648.8 558.7L1650.3 559.5L1651.8 558.9L1653.2 559.4L1654.7 558.7L1656.2 558.8L1657.7 559.0L1659.2 558.4L1660.6 558.3L1662.1 558.6L1663.6 558.8L1665.1 559.0L1666.6 559.0L1668.1 558.2L1669.5 557.4L1671.0 558.8L1672.5 558.9L1674.0 558.2L1675.5 558.6L1677.0 558.6L1678.4 558.0L1679.9 558.5L1681.4 558.1L1682.9 558.5L1684.4 558.3L1685.9 558.0L1687.3 558.4L1688.8 558.2L1690.3 558.2L1691.8 557.8L1693.3 557.7L1694.8 558.1L1696.2 557.6L1697.7 557.6L1699.2 557.1L1700.7 555.9L1702.2 555.7L1703.7 555.5L1705.1 555.4L1706.6 554.3L1708.1 553.9L1709.6 553.9L1711.1 554.3L1712.5 555.4L1714.0 556.2L1715.5 556.4L1717.0 557.9L1718.5 560.6L1720.0 562.7L1721.4 564.1L1722.9 567.1L1724.4 568.9L1725.9 571.0L1727.4 572.7L1728.9 574.4L1730.3 576.2L1731.8 578.1L1733.3 579.5L1734.8 580.3L1736.3 579.3L1737.8 577.5L1739.2 571.0L1740.7 557.5L1742.2 536.6L1743.7 511.6L1745.2 482.4L1746.7 457.2L1748.1 513.1L1749.6 556.0L1751.1 579.1L1752.6 584.7L1754.1 586.1L1755.6 586.4L1757.0 586.5L1758.5 586.2L1760.0 586.5L1761.5 586.2L1763.0 586.5L1764.5 586.2L1765.9 586.5L1767.4 586.5L1768.9 586.7L1770.4 586.7L1771.9 586.2L1773.3 586.7L1774.8 586.3L1776.3 586.7L1777.8 586.3L1779.3 586.4L1780.8 586.3L1782.2 586.6L1783.7 586.7L1785.2 586.9L1786.7 586.3L1788.2 586.5L1789.7 586.8L1791.1 587.0L1792.6 587.0L1794.1 586.9L1795.6 586.8L1797.1 587.1L1798.6 586.8L1800.0 586.6L1801.5 586.4L1803.0 586.4L1804.5 586.6L1806.0 586.8L1807.5 586.7L1808.9 586.7L1810.4 586.8L1811.9 586.6L1813.4 586.7L1814.9 586.5L1816.4 586.5L1817.8 586.6L1819.3 586.3L1820.8 586.8L1822.3 586.7L1823.8 586.5L1825.3 586.8L1826.7 586.7L1828.2 586.5L1829.7 587.0L1831.2 586.6L1832.7 586.4L1834.1 586.8L1835.6 587.0L1837.1 586.6L1838.6 586.8L1840.1 586.7L1841.6 586.8L1843.0 586.8L1844.5 586.5L1846.0 586.6L1847.5 586.8L1849.0 587.0L1850.5 586.8L1851.9 587.0L1853.4 587.2L1854.9 586.7L1856.4 586.7L1857.9 586.8L1859.4 586.8L1860.8 587.0L1862.3 586.6L1863.8 586.9L1865.3 586.3L1866.8 586.7L1868.3 586.6L1869.7 586.9L1871.2 586.7L1872.7 587.0L1874.2 586.9L1875.7 587.0L1877.2 586.4L1878.6 586.7L1880.1 586.3L1881.6 586.6L1883.1 586.7L1884.6 587.0L1886.0 586.8L1887.5 586.8L1889.0 586.7L1890.5 586.5L1892.0 586.8L1893.5 586.8L1894.9 587.0L1896.4 586.5L1897.9 586.9L1899.4 586.7L1900.9 586.8L1902.4 587.1L1903.8 586.8L1905.3 586.7L1906.8 587.3L1908.3 586.9L1909.8 586.8L1911.3 586.6L1912.7 586.7L1914.2 586.8L1915.7 586.7L1917.2 587.3L1918.7 587.2L1920.2 587.1L1921.6 586.8L1923.1 586.6L1924.6 586.8L1926.1 586.6L1927.6 586.6L1929.1 586.6L1930.5 586.4L1932.0 587.1L1933.5 586.8L1935.0 586.6L1936.5 586.6L1938.0 586.5L1939.4 586.1L1940.9 585.5L1942.4 585.5L1943.9 585.9L1945.4 586.5L1946.8 586.8L1948.3 587.0L1949.8 586.8L1951.3 587.0L1952.8 587.1L1954.3 587.1L1955.7 587.0L1957.2 586.8L1958.7 586.8L1960.2 586.9L1961.7 586.7L1963.2 587.1L1964.6 587.0L1966.1 587.0L1967.6 586.8L1969.1 586.8L1970.6 587.1L1972.1 587.0L1973.5 586.3L1975.0 586.8L1976.5 586.7L1978.0 586.5L1979.5 586.9L1981.0 586.8L1982.4 587.1L1983.9 587.1L1985.4 587.4L1986.9 586.9L1988.4 586.7L1989.9 587.0L1991.3 586.4L1992.8 586.8L1994.3 587.0L1995.8 586.8L1997.3 587.3L1998.7 586.5L2000.2 587.0L2001.7 586.6L2003.2 587.1L2004.7 587.1L2006.2 586.8L2007.6 587.1L2009.1 587.3L2010.6 587.1L2012.1 586.8L2013.6 587.2L2015.1 585.9L2016.5 586.4L2018.0 585.9L2019.5 586.2L2021.0 586.7L2022.5 586.9L2024.0 587.0L2025.4 586.9L2026.9 587.0L2028.4 587.1L2029.9 586.9L2031.4 587.2L2032.9 587.1L2034.3 586.4L2035.8 587.2L2037.3 586.8L2038.8 586.8L2040.3 586.8L2041.8 586.7L2043.2 587.2L2044.7 586.9L2046.2 586.9L2047.7 587.0L2049.2 586.8L2050.7 587.0L2052.1 587.0L2053.6 587.3L2055.1 586.8L2056.6 587.2L2058.1 586.7L2059.5 587.1L2061.0 587.0L2062.5 587.1L2064.0 586.9L2065.5 587.2L2067.0 586.6L2068.4 586.8L2069.9 586.9L2071.4 586.9L2072.9 586.9L2074.4 586.6L2075.9 587.1L2077.3 586.9L2078.8 586.8L2080.3 586.9L2081.8 586.7L2083.3 586.7L2084.8 587.1L2086.2 586.8L2087.7 586.8L2089.2 586.9L2090.7 587.1L2092.2 587.1L2093.7 587.1L2095.1 587.2L2096.6 587.0L2098.1 587.2L2099.6 587.1L2101.1 587.0L2102.6 587.0L2104.0 586.9L2105.5 586.6L2107.0 587.0L2108.5 587.2L2110.0 586.9L2111.4 587.3L2112.9 587.1L2114.4 587.2L2115.9 586.7L2117.4 587.0L2118.9 586.6L2120.3 586.7L2121.8 586.0L2123.3 585.4L2124.8 583.9L2126.3 582.1L2127.8 581.6L2129.2 582.1L2130.7 583.2L2132.2 584.4L2133.7 586.1L2135.2 586.6L2136.7 587.1L2138.1 587.1L2139.6 587.2L2141.1 587.2L2142.6 587.3L2144.1 586.9L2145.6 587.1L2147.0 587.1L2148.5 587.4L2150.0 586.9L2151.5 587.7L2153.0 587.5L2154.5 587.3L2155.9 587.4L2157.4 587.4L2158.9 587.9L2160.4 588.3L2161.9 588.5L2163.4 588.6L2164.8 588.9L2166.3 589.6L2167.8 589.6"/>
<path class="cv" stroke="#ff00ff" d="M240.0 789.5L241.5 789.6L243.0 789.3L244.5 789.5L246.0 788.5L247.4 788.5L248.9 788.2L250.4 788.2L251.9 789.0L253.4 788.5L254.9 787.9L256.3 787.9L257.8 788.7L259.3 787.5L260.8 787.7L262.3 788.1L263.8 788.4L265.2 788.3L266.7 787.4L268.2 787.0L269.7 787.0L271.2 787.6L272.7 787.4L274.1 787.7L275.6 787.5L277.1 787.5L278.6 786.5L280.1 786.4L281.6 786.8L283.0 786.9L284.5 786.2L286.0 787.1L287.5 785.7L289.0 786.3L290.4 785.8L291.9 786.3L293.4 786.3L294.9 785.8L296.4 786.1L297.9 786.4L299.3 785.4L300.8 785.3L302.3 785.1L303.8 785.3L305.3 784.9L306.8 784.5L308.2 785.5L309.7 784.6L311.2 784.0L312.7 785.2L314.2 784.3L315.7 785.0L317.1 785.2L318.6 784.1L320.1 784.0L321.6 784.9L323.1 783.5L324.6 783.7L326.0 783.8L327.5 783.7L329.0 784.6L330.5 783.8L332.0 783.0L333.5 784.4L334.9 783.9L336.4 783.5L337.9 784.3L339.4 783.8L340.9 782.4L342.4 780.3L343.8 779.2L345.3 778.9L346.8 777.6L348.3 776.6L349.8 776.3L351.2 777.4L352.7 778.7L354.2 780.4L355.7 781.6L357.2 782.9L358.7 783.7L360.1 785.1L361.6 785.9L363.1 787.3L364.6 788.3L366.1 789.3L367.6 789.7L369.0 790.8L370.5 791.0L372.0 790.9L373.5 791.8L375.0 792.2L376.5 791.7L377.9 792.7L379.4 792.1L380.9 792.5L382.4 792.3L383.9 791.2L385.4 791.2L386.8 792.2L388.3 791.8L389.8 791.8L391.3 792.3L392.8 792.2L394.3 792.2L395.7 791.7L397.2 792.8L398.7 791.2L400.2 792.6L401.7 791.9L403.1 792.6L404.6 792.1L406.1 792.1L407.6 792.5L409.1 791.5L410.6 790.7L412.0 791.3L413.5 790.4L415.0 791.0L416.5 790.9L418.0 791.3L419.5 790.7L420.9 791.1L422.4 790.1L423.9 790.8L425.4 790.5L426.9 790.9L428.4 791.4L429.8 790.6L431.3 790.6L432.8 789.7L434.3 789.7L435.8 790.7L437.3 789.0L438.7 789.6L440.2 789.8L441.7 789.9L443.2 789.1L444.7 789.3L446.2 789.4L447.6 789.7L449.1 789.0L450.6 788.8L452.1 789.3L453.6 789.1L455.1 788.3L456.5 788.6L458.0 788.3L459.5 788.3L461.0 787.4L462.5 788.1L463.9 787.9L465.4 787.3L466.9 787.7L468.4 787.2L469.9 787.2L471.4 787.3L472.8 788.3L474.3 787.7L475.8 786.6L477.3 787.6L478.8 786.8L480.3 787.4L481.7 787.0L483.2 787.2L484.7 786.9L486.2 786.2L487.7 786.0L489.2 786.3L490.6 786.2L492.1 786.5L493.6 787.0L495.1 785.9L496.6 786.6L498.1 785.8L499.5 785.8L501.0 784.9L502.5 785.3L504.0 785.5L505.5 785.0L507.0 784.6L508.4 784.9L509.9 785.3L511.4 785.1L512.9 784.2L514.4 784.9L515.8 784.2L517.3 784.0L518.8 784.7L520.3 784.2L521.8 784.0L523.3 783.8L524.7 782.3L526.2 784.0L527.7 784.2L529.2 782.2L530.7 782.1L532.2 782.9L533.6 783.5L535.1 783.1L536.6 783.1L538.1 782.4L539.6 782.2L541.1 782.7L542.5 781.8L544.0 782.9L545.5 782.6L547.0 782.1L548.5 781.7L550.0 782.7L551.4 781.8L552.9 780.9L554.4 781.2L555.9 780.6L557.4 781.8L558.9 780.8L560.3 781.2L561.8 781.3L563.3 781.6L564.8 780.2L566.3 781.1L567.8 780.5L569.2 780.5L570.7 779.4L572.2 780.4L573.7 780.4L575.2 780.3L576.6 780.3L578.1 779.6L579.6 779.1L581.1 780.0L582.6 779.0L584.1 780.7L585.5 779.3L587.0 778.4L588.5 779.6L590.0 779.1L591.5 778.7L593.0 778.7L594.4 778.7L595.9 778.0L597.4 779.1L598.9 779.1L600.4 778.4L601.9 778.0L603.3 778.3L604.8 778.6L606.3 778.2L607.8 777.8L609.3 777.9L610.8 777.1L612.2 778.0L613.7 778.2L615.2 777.7L616.7 777.7L618.2 777.4L619.7 776.5L621.1 777.6L622.6 777.4L624.1 776.3L625.6 776.5L627.1 776.9L628.5 776.7L630.0 775.8L631.5 775.7L633.0 775.6L634.5 776.2L636.0 776.3L637.4 776.2L638.9 775.6L640.4 775.7L641.9 775.3L643.4 775.9L644.9 775.3L646.3 775.1L647.8 775.7L649.3 775.0L650.8 774.7L652.3 774.3L653.8 774.7L655.2 775.3L656.7 774.0L658.2 774.9L659.7 773.8L661.2 773.8L662.7 774.6L664.1 773.5L665.6 773.7L667.1 773.6L668.6 774.3L670.1 773.8L671.6 773.2L673.0 773.1L674.5 772.4L676.0 770.6L677.5 770.0L679.0 769.6L680.5 768.7L681.9 767.3L683.4 767.9L684.9 767.5L686.4 768.5L687.9 768.3L689.3 768.3L690.8 768.2L692.3 770.6L693.8 770.1L695.3 771.4L696.8 772.3L698.2 773.3L699.7 773.3L701.2 776.0L702.7 775.4L704.2 775.6L705.7 776.7L707.1 775.7L708.6 775.7L710.1 773.8L711.6 771.4L713.1 767.2L714.6 765.6L716.0 763.8L717.5 761.5L719.0 760.0L720.5 762.2L722.0 762.7L723.5 763.9L724.9 766.8L726.4 768.9L727.9 771.6L729.4 773.9L730.9 778.2L732.4 781.9L733.8 787.2L735.3 790.3L736.8 791.3L738.3 792.4L739.8 792.4L741.3 793.6L742.7 792.2L744.2 792.9L745.7 793.2L747.2 792.8L748.7 792.5L750.1 792.5L751.6 793.7L753.1 793.1L754.6 793.4L756.1 792.4L757.6 793.0L759.0 793.4L760.5 793.1L762.0 793.1L763.5 792.7L765.0 793.4L766.5 792.9L767.9 793.2L769.4 793.1L770.9 792.5L772.4 792.7L773.9 792.8L775.4 792.3L776.8 792.6L778.3 792.2L779.8 791.9L781.3 792.5L782.8 792.5L784.3 792.7L785.7 792.6L787.2 791.9L788.7 791.9L790.2 792.7L791.7 791.8L793.2 791.2L794.6 791.2L796.1 791.6L797.6 792.7L799.1 791.2L800.6 792.4L802.0 791.4L803.5 791.6L805.0 791.3L806.5 792.4L808.0 792.2L809.5 791.2L810.9 791.7L812.4 790.7L813.9 791.2L815.4 791.4L816.9 791.1L818.4 791.5L819.8 790.1L821.3 792.2L822.8 791.0L824.3 790.2L825.8 790.6L827.3 790.2L828.7 790.4L830.2 791.3L831.7 790.8L833.2 791.3L834.7 791.2L836.2 791.6L837.6 790.2L839.1 790.1L840.6 790.6L842.1 791.1L843.6 791.0L845.1 790.3L846.5 790.5L848.0 791.1L849.5 790.8L851.0 789.5L852.5 790.5L854.0 790.4L855.4 790.1L856.9 789.8L858.4 789.0L859.9 789.8L861.4 790.1L862.8 789.9L864.3 788.5L865.8 789.8L867.3 789.6L868.8 789.6L870.3 788.7L871.7 789.1L873.2 788.6L874.7 788.8L876.2 788.8L877.7 788.8L879.2 788.0L880.6 789.0L882.1 789.4L883.6 788.4L885.1 788.4L886.6 788.2L888.1 787.9L889.5 787.9L891.0 787.7L892.5 788.6L894.0 787.9L895.5 787.2L897.0 787.2L898.4 787.3L899.9 786.8L901.4 787.6L902.9 787.8L904.4 786.5L905.9 786.7L907.3 786.8L908.8 786.7L910.3 787.4L911.8 786.2L913.3 786.9L914.7 787.1L916.2 787.7L917.7 786.7L919.2 786.8L920.7 787.1L922.2 785.8L923.6 786.3L925.1 787.0L926.6 786.0L928.1 786.4L929.6 786.6L931.1 786.3L932.5 786.4L934.0 785.9L935.5 785.2L937.0 785.2L938.5 785.1L940.0 786.0L941.4 785.6L942.9 785.4L944.4 784.9L945.9 786.8L947.4 785.6L948.9 784.8L950.3 785.6L951.8 785.2L953.3 785.6L954.8 785.9L956.3 785.8L957.8 785.1L959.2 784.9L960.7 784.7L962.2 784.1L963.7 784.2L965.2 785.6L966.7 784.4L968.1 784.0L969.6 784.1L971.1 783.3L972.6 784.6L974.1 783.9L975.5 784.2L977.0 783.8L978.5 782.9L980.0 784.9L981.5 783.8L983.0 783.4L984.4 783.3L985.9 783.6L987.4 783.5L988.9 783.0L990.4 783.0L991.9 783.6L993.3 784.0L994.8 782.7L996.3 783.3L997.8 783.6L999.3 783.7L1000.8 782.6L1002.2 782.5L1003.7 782.5L1005.2 783.0L1006.7 783.3L1008.2 782.7L1009.7 782.2L1011.1 782.2L1012.6 782.8L1014.1 782.2L1015.6 782.2L1017.1 782.4L1018.6 782.1L1020.0 782.3L1021.5 781.6L1023.0 782.1L1024.5 782.3L1026.0 781.9L1027.4 782.1L1028.9 782.2L1030.4 781.7L1031.9 782.2L1033.4 781.9L1034.9 781.9L1036.3 781.4L1037.8 781.5L1039.3 781.9L1040.8 781.1L1042.3 781.7L1043.8 779.7L1045.2 780.4L1046.7 780.7L1048.2 781.3L1049.7 780.7L1051.2 780.3L1052.7 781.1L1054.1 780.4L1055.6 780.3L1057.1 780.2L1058.6 780.1L1060.1 780.1L1061.6 780.5L1063.0 780.5L1064.5 778.8L1066.0 781.3L1067.5 779.6L1069.0 780.0L1070.5 779.2L1071.9 780.2L1073.4 779.6L1074.9 780.1L1076.4 779.4L1077.9 780.2L1079.4 779.0L1080.8 779.6L1082.3 779.8L1083.8 779.2L1085.3 778.3L1086.8 778.3L1088.2 779.2L1089.7 778.3L1091.2 779.2L1092.7 778.7L1094.2 778.7L1095.7 778.6L1097.1 778.7L1098.6 778.9L1100.1 778.9L1101.6 777.6L1103.1 778.9L1104.6 778.1L1106.0 779.1L1107.5 778.0L1109.0 777.7L1110.5 777.7L1112.0 778.2L1113.5 778.0L1114.9 777.6L1116.4 777.5L1117.9 777.4L1119.4 778.5L1120.9 777.8L1122.4 777.5L1123.8 777.6L1125.3 777.6L1126.8 777.4L1128.3 777.6L1129.8 777.8L1131.3 777.3L1132.7 777.2L1134.2 776.9L1135.7 777.4L1137.2 777.0L1138.7 777.2L1140.2 776.6L1141.6 777.2L1143.1 776.4L1144.6 777.0L1146.1 776.3L1147.6 776.4L1149.0 777.5L1150.5 776.7L1152.0 776.4L1153.5 776.7L1155.0 776.7L1156.5 776.2L1157.9 775.8L1159.4 775.3L1160.9 775.6L1162.4 776.7L1163.9 775.9L1165.4 775.9L1166.8 775.8L1168.3 775.2L1169.8 775.6L1171.3 775.0L1172.8 775.9L1174.3 776.0L1175.7 775.4L1177.2 776.0L1178.7 776.1L1180.2 774.9L1181.7 775.2L1183.2 774.6L1184.6 774.9L1186.1 775.6L1187.6 775.2L1189.1 774.0L1190.6 775.1L1192.1 774.7L1193.5 773.7L1195.0 774.9L1196.5 774.3L1198.0 773.8L1199.5 774.1L1200.9 773.7L1202.4 773.7L1203.9 774.2L1205.4 773.4L1206.9 773.5L1208.4 773.6L1209.8 774.1L1211.3 774.1L1212.8 774.2L1214.3 774.1L1215.8 773.4L1217.3 773.3L1218.7 772.8L1220.2 774.0L1221.7 773.7L1223.2 773.7L1224.7 772.7L1226.2 773.1L1227.6 772.8L1229.1 774.1L1230.6 772.5L1232.1 772.7L1233.6 772.9L1235.1 772.8L1236.5 772.3L1238.0 772.7L1239.5 772.3L1241.0 771.9L1242.5 772.8L1244.0 772.5L1245.4 772.1L1246.9 772.8L1248.4 771.4L1249.9 771.7L1251.4 772.5L1252.9 772.1L1254.3 771.9L1255.8 771.6L1257.3 772.3L1258.8 771.8L1260.3 771.7L1261.7 771.7L1263.2 772.0L1264.7 770.9L1266.2 771.0L1267.7 770.5L1269.2 771.2L1270.6 770.7L1272.1 771.2L1273.6 770.0L1275.1 771.9L1276.6 770.6L1278.1 771.2L1279.5 769.7L1281.0 771.3L1282.5 770.5L1284.0 770.0L1285.5 770.9L1287.0 770.7L1288.4 770.4L1289.9 770.1L1291.4 770.4L1292.9 770.7L1294.4 770.5L1295.9 770.2L1297.3 770.2L1298.8 769.5L1300.3 769.6L1301.8 769.7L1303.3 769.8L1304.8 770.1L1306.2 770.1L1307.7 769.8L1309.2 769.6L1310.7 768.8L1312.2 770.3L1313.6 769.4L1315.1 768.3L1316.6 769.2L1318.1 768.9L1319.6 768.9L1321.1 768.3L1322.5 769.1L1324.0 768.8L1325.5 768.9L1327.0 768.9L1328.5 768.3L1330.0 768.7L1331.4 768.2L1332.9 768.8L1334.4 768.8L1335.9 767.2L1337.4 767.4L1338.9 766.6L1340.3 765.2L1341.8 765.5L1343.3 765.1L1344.8 764.1L1346.3 765.5L1347.8 765.7L1349.2 766.1L1350.7 766.3L1352.2 767.6L1353.7 768.4L1355.2 769.9L1356.7 771.7L1358.1 774.2L1359.6 775.9L1361.1 778.5L1362.6 781.3L1364.1 784.0L1365.6 786.7L1367.0 787.9L1368.5 789.5L1370.0 790.9L1371.5 791.9L1373.0 790.6L1374.4 780.7L1375.9 744.4L1377.4 669.0L1378.9 609.0L1380.4 670.1L1381.9 746.8L1383.3 784.2L1384.8 795.3L1386.3 797.8L1387.8 798.6L1389.3 798.8L1390.8 798.8L1392.2 799.4L1393.7 799.3L1395.2 798.9L1396.7 799.4L1398.2 798.9L1399.7 799.0L1401.1 798.7L1402.6 798.7L1404.1 799.2L1405.6 797.7L1407.1 798.5L1408.6 798.3L1410.0 798.5L1411.5 798.3L1413.0 798.8L1414.5 798.5L1416.0 797.9L1417.5 798.1L1418.9 798.4L1420.4 798.1L1421.9 798.1L1423.4 797.9L1424.9 798.2L1426.4 798.6L1427.8 798.1L1429.3 798.3L1430.8 798.1L1432.3 797.4L1433.8 797.5L1435.2 797.3L1436.7 797.2L1438.2 798.4L1439.7 797.8L1441.2 797.7L1442.7 797.1L1444.1 797.7L1445.6 797.6L1447.1 798.2L1448.6 797.9L1450.1 797.6L1451.6 797.3L1453.0 796.7L1454.5 797.5L1456.0 797.2L1457.5 797.2L1459.0 797.3L1460.5 797.8L1461.9 797.3L1463.4 797.3L1464.9 797.1L1466.4 796.8L1467.9 796.8L1469.4 796.8L1470.8 797.1L1472.3 797.2L1473.8 796.9L1475.3 796.4L1476.8 796.7L1478.3 797.2L1479.7 796.6L1481.2 796.5L1482.7 796.4L1484.2 796.2L1485.7 796.9L1487.1 796.4L1488.6 796.3L1490.1 796.3L1491.6 796.2L1493.1 796.3L1494.6 796.4L1496.0 796.5L1497.5 796.7L1499.0 795.4L1500.5 796.3L1502.0 795.7L1503.5 795.5L1504.9 796.1L1506.4 795.9L1507.9 795.9L1509.4 795.8L1510.9 795.0L1512.4 796.1L1513.8 795.4L1515.3 795.7L1516.8 795.4L1518.3 795.6L1519.8 796.2L1521.3 795.3L1522.7 795.4L1524.2 795.1L1525.7 795.0L1527.2 795.5L1528.7 795.2L1530.2 795.1L1531.6 795.6L1533.1 795.7L1534.6 794.3L1536.1 795.3L1537.6 795.2L1539.1 794.4L1540.5 795.4L1542.0 794.8L1543.5 794.7L1545.0 794.7L1546.5 794.7L1547.9 795.0L1549.4 794.5L1550.9 794.1L1552.4 794.4L1553.9 794.5L1555.4 794.6L1556.8 794.5L1558.3 794.5L1559.8 793.6L1561.3 794.8L1562.8 794.4L1564.3 793.4L1565.7 794.6L1567.2 794.6L1568.7 794.3L1570.2 793.8L1571.7 794.2L1573.2 793.9L1574.6 794.7L1576.1 793.5L1577.6 794.0L1579.1 794.0L1580.6 794.2L1582.1 793.5L1583.5 794.2L1585.0 793.7L1586.5 793.7L1588.0 793.9L1589.5 793.5L1591.0 793.3L1592.4 794.1L1593.9 793.4L1595.4 792.9L1596.9 793.1L1598.4 793.5L1599.8 793.0L1601.3 793.0L1602.8 793.0L1604.3 793.4L1605.8 793.2L1607.3 793.1L1608.7 793.2L1610.2 793.3L1611.7 792.7L1613.2 793.0L1614.7 793.1L1616.2 792.8L1617.6 792.5L1619.1 793.1L1620.6 792.4L1622.1 793.4L1623.6 793.2L1625.1 792.9L1626.5 792.4L1628.0 792.7L1629.5 792.1L1631.0 792.7L1632.5 792.6L1634.0 792.2L1635.4 792.8L1636.9 791.9L1638.4 792.3L1639.9 792.6L1641.4 792.3L1642.9 792.4L1644.3 792.4L1645.8 792.2L1647.3 792.0L1648.8 792.3L1650.3 792.0L1651.8 791.8L1653.2 792.0L1654.7 792.2L1656.2 791.3L1657.7 792.0L1659.2 791.3L1660.6 791.3L1662.1 791.6L1663.6 791.6L1665.1 791.6L1666.6 792.2L1668.1 791.3L1669.5 791.4L1671.0 791.8L1672.5 791.8L1674.0 791.7L1675.5 792.0L1677.0 790.7L1678.4 791.9L1679.9 791.6L1681.4 791.5L1682.9 791.4L1684.4 791.2L1685.9 790.9L1687.3 790.5L1688.8 790.6L1690.3 791.0L1691.8 790.1L1693.3 790.4L1694.8 790.1L1696.2 789.8L1697.7 789.9L1699.2 789.6L1700.7 788.6L1702.2 788.8L1703.7 788.0L1705.1 787.5L1706.6 787.5L1708.1 786.8L1709.6 787.4L1711.1 787.8L1712.5 787.6L1714.0 788.9L1715.5 790.1L1717.0 790.8L1718.5 792.5L1720.0 796.0L1721.4 797.6L1722.9 800.0L1724.4 801.3L1725.9 803.3L1727.4 805.4L1728.9 806.8L1730.3 808.6L1731.8 810.4L1733.3 811.8L1734.8 812.6L1736.3 811.6L1737.8 809.8L1739.2 803.4L1740.7 790.2L1742.2 769.6L1743.7 745.0L1745.2 716.2L1746.7 691.4L1748.1 746.8L1749.6 789.4L1751.1 812.3L1752.6 817.8L1754.1 819.2L1755.6 819.5L1757.0 819.6L1758.5 819.3L1760.0 819.6L1761.5 819.4L1763.0 819.6L1764.5 819.9L1765.9 819.6L1767.4 819.6L1768.9 819.6L1770.4 819.4L1771.9 819.6L1773.3 820.0L1774.8 819.2L1776.3 819.6L1777.8 819.6L1779.3 819.5L1780.8 819.5L1782.2 819.3L1783.7 819.5L1785.2 820.1L1786.7 819.8L1788.2 819.7L1789.7 819.4L1791.1 819.4L1792.6 819.6L1794.1 819.9L1795.6 819.2L1797.1 819.3L1798.6 819.7L1800.0 819.7L1801.5 819.7L1803.0 819.7L1804.5 819.5L1806.0 819.6L1807.5 819.3L1808.9 820.0L1810.4 819.8L1811.9 819.4L1813.4 819.5L1814.9 819.6L1816.4 819.4L1817.8 819.8L1819.3 819.4L1820.8 819.7L1822.3 819.4L1823.8 819.5L1825.3 819.7L1826.7 819.8L1828.2 820.0L1829.7 819.2L1831.2 819.4L1832.7 819.4L1834.1 819.4L1835.6 819.4L1837.1 819.5L1838.6 819.7L1840.1 819.6L1841.6 819.6L1843.0 819.6L1844.5 820.0L1846.0 820.0L1847.5 820.0L1849.0 819.7L1850.5 820.0L1851.9 819.6L1853.4 819.8L1854.9 819.6L1856.4 819.6L1857.9 819.4L1859.4 819.6L1860.8 819.7L1862.3 820.0L1863.8 819.8L1865.3 819.8L1866.8 819.9L1868.3 819.8L1869.7 819.9L1871.2 820.2L1872.7 819.8L1874.2 819.6L1875.7 819.5L1877.2 819.8L1878.6 819.6L1880.1 819.4L1881.6 819.7L1883.1 819.9L1884.6 819.9L1886.0 819.6L1887.5 820.0L1889.0 820.1L1890.5 819.6L1892.0 819.9L1893.5 819.8L1894.9 819.7L1896.4 819.6L1897.9 820.0L1899.4 819.7L1900.9 819.7L1902.4 819.6L1903.8 819.7L1905.3 819.3L1906.8 819.6L1908.3 819.9L1909.8 819.7L1911.3 819.6L1912.7 819.6L1914.2 819.2L1915.7 820.3L1917.2 819.6L1918.7 819.9L1920.2 819.3L1921.6 819.6L1923.1 819.8L1924.6 819.7L1926.1 819.6L1927.6 819.7L1929.1 820.0L1930.5 819.3L1932.0 820.0L1933.5 819.8L1935.0 819.9L1936.5 819.8L1938.0 819.3L1939.4 818.8L1940.9 818.1L1942.4 818.4L1943.9 818.8L1945.4 819.2L1946.8 819.6L1948.3 819.6L1949.8 819.3L1951.3 819.5L1952.8 819.3L1954.3 819.9L1955.7 819.6L1957.2 819.7L1958.7 819.8L1960.2 819.6L1961.7 819.9L1963.2 819.3L1964.6 819.4L1966.1 819.6L1967.6 819.7L1969.1 819.8L1970.6 819.6L1972.1 819.6L1973.5 819.5L1975.0 819.7L1976.5 819.7L1978.0 820.0L1979.5 819.9L1981.0 819.5L1982.4 819.8L1983.9 819.9L1985.4 819.7L1986.9 819.5L1988.4 820.0L1989.9 819.9L1991.3 820.0L1992.8 820.1L1994.3 819.9L1995.8 819.8L1997.3 819.9L1998.7 819.4L2000.2 819.8L2001.7 819.6L2003.2 819.6L2004.7 819.9L2006.2 819.9L2007.6 820.0L2009.1 819.8L2010.6 820.0L2012.1 819.9L2013.6 819.5L2015.1 818.5L2016.5 818.2L2018.0 817.9L2019.5 818.4L2021.0 819.5L2022.5 819.8L2024.0 819.5L2025.4 820.2L2026.9 819.5L2028.4 819.9L2029.9 820.2L2031.4 820.0L2032.9 819.7L2034.3 819.7L2035.8 819.6L2037.3 819.7L2038.8 820.0L2040.3 820.0L2041.8 819.8L2043.2 820.2L2044.7 819.9L2046.2 819.8L2047.7 819.9L2049.2 819.9L2050.7 820.0L2052.1 819.7L2053.6 819.8L2055.1 820.1L2056.6 819.6L2058.1 820.3L2059.5 819.7L2061.0 820.2L2062.5 819.5L2064.0 819.6L2065.5 820.2L2067.0 819.5L2068.4 820.1L2069.9 820.1L2071.4 819.9L2072.9 819.4L2074.4 819.9L2075.9 819.9L2077.3 820.1L2078.8 819.5L2080.3 820.4L2081.8 819.6L2083.3 819.8L2084.8 820.0L2086.2 819.6L2087.7 819.7L2089.2 819.6L2090.7 819.6L2092.2 819.7L2093.7 819.9L2095.1 819.5L2096.6 820.2L2098.1 819.9L2099.6 820.2L2101.1 819.9L2102.6 819.8L2104.0 819.8L2105.5 819.7L2107.0 819.9L2108.5 820.0L2110.0 820.0L2111.4 819.9L2112.9 819.9L2114.4 819.5L2115.9 819.9L2117.4 819.5L2118.9 819.5L2120.3 819.9L2121.8 819.0L2123.3 818.2L2124.8 816.8L2126.3 815.2L2127.8 814.4L2129.2 814.6L2130.7 815.8L2132.2 817.6L2133.7 819.0L2135.2 819.7L2136.7 820.3L2138.1 819.7L2139.6 820.0L2141.1 819.6L2142.6 819.8L2144.1 819.7L2145.6 820.1L2147.0 820.1L2148.5 820.1L2150.0 819.9L2151.5 820.3L2153.0 820.0L2154.5 820.3L2155.9 820.3L2157.4 820.5L2158.9 820.5L2160.4 820.5L2161.9 821.1L2163.4 821.2L2164.8 821.8L2166.3 822.3L2167.8 822.2"/>
<path class="cv" stroke="#00ffff" d="M240.0 968.1L241.5 967.5L243.0 967.3L244.5 966.7L246.0 967.4L247.4 967.5L248.9 967.1L250.4 967.1L251.9 966.5L253.4 967.8L254.9 967.2L256.3 966.9L257.8 967.3L259.3 967.1L260.8 966.9L262.3 966.7L263.8 966.8L265.2 966.9L266.7 967.1L268.2 967.0L269.7 966.8L271.2 966.9L272.7 966.4L274.1 965.7L275.6 965.7L277.1 966.7L278.6 965.5L280.1 965.8L281.6 966.2L283.0 966.6L284.5 965.1L286.0 965.5L287.5 965.6L289.0 965.6L290.4 965.9L291.9 966.2L293.4 966.0L294.9 967.0L296.4 966.4L297.9 965.0L299.3 964.9L300.8 965.4L302.3 965.3L303.8 965.9L305.3 965.7L306.8 965.7L308.2 965.3L309.7 965.4L311.2 965.3L312.7 965.0L314.2 965.3L315.7 964.4L317.1 965.4L318.6 965.2L320.1 966.2L321.6 964.8L323.1 964.0L324.6 964.4L326.0 964.6L327.5 964.2L329.0 964.0L330.5 964.3L332.0 963.8L333.5 964.9L334.9 963.7L336.4 964.6L337.9 964.7L339.4 964.4L340.9 963.6L342.4 961.9L343.8 960.8L345.3 959.1L346.8 958.1L348.3 957.9L349.8 958.3L351.2 959.0L352.7 958.9L354.2 960.1L355.7 961.0L357.2 962.6L358.7 962.8L360.1 964.4L361.6 964.6L363.1 965.2L364.6 965.9L366.1 966.1L367.6 966.4L369.0 967.7L370.5 967.9L372.0 969.5L373.5 969.0L375.0 969.3L376.5 969.0L377.9 968.9L379.4 968.4L380.9 968.6L382.4 969.9L383.9 969.0L385.4 969.1L386.8 969.7L388.3 969.3L389.8 969.4L391.3 970.5L392.8 969.8L394.3 969.5L395.7 969.5L397.2 969.4L398.7 970.0L400.2 970.1L401.7 969.7L403.1 969.9L404.6 969.2L406.1 969.7L407.6 970.1L409.1 969.2L410.6 969.5L412.0 969.2L413.5 969.2L415.0 969.5L416.5 968.8L418.0 969.7L419.5 969.7L420.9 969.6L422.4 968.5L423.9 968.0L425.4 968.5L426.9 968.8L428.4 968.6L429.8 968.4L431.3 968.5L432.8 968.2L434.3 968.6L435.8 967.6L437.3 968.3L438.7 968.3L440.2 967.7L441.7 969.6L443.2 967.9L444.7 967.8L446.2 967.1L447.6 967.7L449.1 967.6L450.6 967.9L452.1 967.1L453.6 967.7L455.1 966.6L456.5 967.1L458.0 966.2L459.5 966.9L461.0 967.2L462.5 966.1L463.9 967.0L465.4 966.8L466.9 965.8L468.4 966.0L469.9 966.1L471.4 966.5L472.8 966.8L474.3 965.8L475.8 965.6L477.3 965.8L478.8 964.6L480.3 966.0L481.7 965.6L483.2 965.5L484.7 966.2L486.2 965.3L487.7 965.0L489.2 965.8L490.6 965.0L492.1 965.2L493.6 964.9L495.1 965.0L496.6 965.0L498.1 965.0L499.5 964.2L501.0 965.2L502.5 964.4L504.0 964.3L505.5 964.8L507.0 964.1L508.4 964.5L509.9 964.7L511.4 964.5L512.9 963.8L514.4 964.4L515.8 963.8L517.3 963.4L518.8 963.3L520.3 963.8L521.8 963.2L523.3 964.0L524.7 963.7L526.2 963.5L527.7 963.7L529.2 963.5L530.7 962.7L532.2 964.1L533.6 962.2L535.1 962.9L536.6 961.9L538.1 962.5L539.6 962.4L541.1 961.9L542.5 962.6L544.0 962.4L545.5 962.2L547.0 961.7L548.5 962.7L550.0 961.9L551.4 962.2L552.9 961.2L554.4 962.4L555.9 961.5L557.4 962.0L558.9 961.3L560.3 961.4L561.8 961.6L563.3 961.2L564.8 962.1L566.3 961.0L567.8 960.9L569.2 961.4L570.7 960.9L572.2 960.4L573.7 960.6L575.2 961.0L576.6 960.6L578.1 961.0L579.6 959.9L581.1 960.4L582.6 959.9L584.1 960.0L585.5 959.8L587.0 959.6L588.5 961.0L590.0 959.9L591.5 960.1L593.0 959.8L594.4 960.5L595.9 959.3L597.4 958.8L598.9 959.6L600.4 958.8L601.9 959.8L603.3 958.7L604.8 958.9L606.3 959.2L607.8 958.4L609.3 958.6L610.8 958.8L612.2 958.0L613.7 958.5L615.2 957.8L616.7 958.3L618.2 959.0L619.7 958.8L621.1 958.0L622.6 958.0L624.1 957.6L625.6 958.2L627.1 958.1L628.5 957.1L630.0 957.2L631.5 957.0L633.0 957.6L634.5 957.5L636.0 957.4L637.4 957.5L638.9 957.4L640.4 957.1L641.9 957.2L643.4 956.7L644.9 957.2L646.3 957.2L647.8 955.7L649.3 957.3L650.8 956.5L652.3 956.7L653.8 956.4L655.2 956.9L656.7 956.2L658.2 956.3L659.7 955.8L661.2 955.9L662.7 956.1L664.1 955.3L665.6 955.6L667.1 955.4L668.6 955.6L670.1 955.9L671.6 955.0L673.0 954.6L674.5 952.7L676.0 952.2L677.5 951.8L679.0 950.9L680.5 951.0L681.9 950.6L683.4 950.8L684.9 951.5L686.4 951.3L687.9 952.1L689.3 952.6L690.8 953.6L692.3 954.3L693.8 954.4L695.3 954.4L696.8 955.7L698.2 957.6L699.7 957.2L701.2 957.3L702.7 958.0L704.2 957.4L705.7 957.2L707.1 957.9L708.6 955.0L710.1 953.8L711.6 951.0L713.1 950.1L714.6 948.5L716.0 946.9L717.5 947.9L719.0 948.3L720.5 950.6L722.0 951.7L723.5 953.9L724.9 954.4L726.4 956.9L727.9 959.6L729.4 961.4L730.9 964.6L732.4 968.0L733.8 970.4L735.3 969.5L736.8 969.6L738.3 970.2L739.8 970.1L741.3 970.2L742.7 969.9L744.2 971.3L745.7 970.1L747.2 970.9L748.7 970.2L750.1 970.2L751.6 971.6L753.1 970.9L754.6 971.9L756.1 971.5L757.6 971.0L759.0 971.7L760.5 970.7L762.0 971.6L763.5 971.8L765.0 970.6L766.5 971.2L767.9 971.8L769.4 971.2L770.9 970.4L772.4 971.4L773.9 970.9L775.4 970.9L776.8 970.2L778.3 970.9L779.8 970.8L781.3 970.1L782.8 970.8L784.3 970.3L785.7 970.8L787.2 970.7L788.7 969.9L790.2 969.7L791.7 970.8L793.2 970.4L794.6 969.8L796.1 970.5L797.6 970.3L799.1 970.2L800.6 969.7L802.0 969.6L803.5 970.4L805.0 969.7L806.5 969.6L808.0 969.9L809.5 969.1L810.9 969.5L812.4 969.5L813.9 970.7L815.4 968.6L816.9 969.3L818.4 969.0L819.8 968.5L821.3 970.1L822.8 969.9L824.3 968.9L825.8 968.9L827.3 968.9L828.7 968.9L830.2 968.7L831.7 968.9L833.2 969.3L834.7 968.9L836.2 969.1L837.6 968.0L839.1 969.3L840.6 968.2L842.1 968.0L843.6 968.0L845.1 968.6L846.5 968.3L848.0 967.7L849.5 968.1L851.0 969.1L852.5 968.1L854.0 967.8L855.4 967.5L856.9 968.0L858.4 967.2L859.9 967.6L861.4 967.0L862.8 967.8L864.3 967.0L865.8 968.0L867.3 967.7L868.8 967.2L870.3 967.7L871.7 967.7L873.2 966.6L874.7 967.6L876.2 967.1L877.7 967.2L879.2 966.5L880.6 966.5L882.1 966.9L883.6 966.2L885.1 966.2L886.6 966.6L888.1 965.6L889.5 965.4L891.0 966.4L892.5 966.3L894.0 966.6L895.5 966.0L897.0 965.2L898.4 965.9L899.9 965.8L901.4 965.9L902.9 965.7L904.4 965.7L905.9 965.7L907.3 964.9L908.8 965.4L910.3 964.7L911.8 964.8L913.3 965.4L914.7 964.7L916.2 964.3L917.7 964.6L919.2 965.2L920.7 965.3L922.2 965.0L923.6 965.2L925.1 963.8L926.6 964.6L928.1 965.0L929.6 964.5L931.1 964.8L932.5 964.2L934.0 964.5L935.5 965.0L937.0 964.0L938.5 965.4L940.0 964.4L941.4 964.2L942.9 965.1L944.4 964.1L945.9 964.5L947.4 964.6L948.9 963.8L950.3 963.9L951.8 963.9L953.3 963.8L954.8 963.6L956.3 964.3L957.8 963.9L959.2 963.3L960.7 963.6L962.2 964.1L963.7 963.2L965.2 963.4L966.7 964.2L968.1 964.0L969.6 963.5L971.1 963.7L972.6 963.6L974.1 964.4L975.5 963.8L977.0 963.5L978.5 962.9L980.0 963.0L981.5 963.1L983.0 962.7L984.4 963.1L985.9 963.0L987.4 962.8L988.9 962.7L990.4 962.3L991.9 962.3L993.3 963.7L994.8 963.4L996.3 962.9L997.8 962.9L999.3 962.7L1000.8 962.2L1002.2 962.6L1003.7 961.7L1005.2 962.4L1006.7 961.9L1008.2 962.2L1009.7 962.7L1011.1 962.1L1012.6 962.1L1014.1 962.4L1015.6 962.3L1017.1 962.7L1018.6 962.2L1020.0 962.5L1021.5 961.8L1023.0 961.6L1024.5 962.2L1026.0 962.3L1027.4 961.2L1028.9 961.1L1030.4 961.4L1031.9 962.1L1033.4 961.2L1034.9 961.7L1036.3 962.4L1037.8 961.6L1039.3 961.4L1040.8 961.5L1042.3 961.7L1043.8 960.5L1045.2 960.8L1046.7 961.1L1048.2 962.0L1049.7 962.0L1051.2 961.0L1052.7 961.2L1054.1 960.4L1055.6 960.6L1057.1 960.9L1058.6 960.6L1060.1 961.0L1061.6 960.6L1063.0 960.8L1064.5 961.1L1066.0 960.5L1067.5 960.7L1069.0 960.6L1070.5 960.3L1071.9 960.5L1073.4 960.2L1074.9 960.0L1076.4 960.0L1077.9 959.9L1079.4 959.5L1080.8 960.7L1082.3 959.1L1083.8 960.3L1085.3 959.7L1086.8 959.3L1088.2 959.9L1089.7 959.3L1091.2 959.6L1092.7 960.4L1094.2 960.1L1095.7 959.8L1097.1 960.0L1098.6 958.8L1100.1 960.3L1101.6 959.6L1103.1 959.2L1104.6 959.5L1106.0 959.9L1107.5 959.1L1109.0 959.3L1110.5 960.3L1112.0 959.9L1113.5 959.5L1114.9 959.0L1116.4 958.4L1117.9 958.7L1119.4 959.1L1120.9 959.1L1122.4 959.7L1123.8 958.8L1125.3 958.8L1126.8 958.5L1128.3 958.1L1129.8 958.8L1131.3 958.2L1132.7 958.4L1134.2 958.0L1135.7 958.6L1137.2 958.1L1138.7 958.6L1140.2 959.2L1141.6 958.3L1143.1 958.4L1144.6 957.9L1146.1 957.5L1147.6 959.0L1149.0 957.2L1150.5 959.0L1152.0 958.5L1153.5 957.9L1155.0 958.2L1156.5 957.9L1157.9 958.1L1159.4 958.1L1160.9 957.8L1162.4 957.6L1163.9 957.6L1165.4 957.6L1166.8 957.6L1168.3 957.6L1169.8 957.8L1171.3 957.5L1172.8 957.4L1174.3 957.2L1175.7 957.3L1177.2 957.3L1178.7 957.3L1180.2 957.3L1181.7 956.9L1183.2 956.5L1184.6 957.5L1186.1 957.3L1187.6 957.3L1189.1 957.3L1190.6 956.4L1192.1 957.2L1193.5 957.2L1195.0 957.1L1196.5 956.2L1198.0 956.6L1199.5 956.9L1200.9 957.0L1202.4 956.3L1203.9 956.6L1205.4 956.8L1206.9 955.7L1208.4 955.9L1209.8 956.0L1211.3 955.8L1212.8 956.1L1214.3 956.5L1215.8 956.0L1217.3 955.7L1218.7 955.9L1220.2 956.7L1221.7 956.7L1223.2 955.5L1224.7 956.5L1226.2 956.4L1227.6 955.6L1229.1 955.7L1230.6 955.9L1232.1 955.2L1233.6 955.5L1235.1 955.6L1236.5 955.1L1238.0 955.3L1239.5 955.9L1241.0 954.5L1242.5 956.0L1244.0 956.1L1245.4 955.2L1246.9 955.3L1248.4 955.2L1249.9 954.3L1251.4 955.2L1252.9 954.8L1254.3 954.9L1255.8 953.9L1257.3 955.3L1258.8 954.8L1260.3 955.0L1261.7 954.6L1263.2 955.2L1264.7 954.3L1266.2 954.3L1267.7 954.0L1269.2 954.6L1270.6 954.9L1272.1 955.2L1273.6 954.7L1275.1 954.5L1276.6 954.4L1278.1 954.0L1279.5 953.8L1281.0 954.5L1282.5 954.2L1284.0 953.9L1285.5 954.0L1287.0 954.4L1288.4 953.0L1289.9 954.2L1291.4 953.9L1292.9 953.8L1294.4 953.3L1295.9 954.2L1297.3 954.0L1298.8 953.6L1300.3 953.0L1301.8 953.4L1303.3 953.6L1304.8 953.2L1306.2 953.8L1307.7 952.8L1309.2 954.3L1310.7 952.9L1312.2 952.9L1313.6 953.7L1315.1 953.2L1316.6 953.2L1318.1 952.9L1319.6 953.5L1321.1 953.1L1322.5 953.4L1324.0 953.4L1325.5 952.5L1327.0 953.5L1328.5 952.8L1330.0 952.0L1331.4 952.8L1332.9 951.2L1334.4 952.3L1335.9 950.4L1337.4 951.1L1338.9 949.0L1340.3 947.7L1341.8 948.7L1343.3 948.1L1344.8 948.7L1346.3 949.6L1347.8 948.5L1349.2 948.5L1350.7 949.0L1352.2 950.9L1353.7 951.4L1355.2 952.3L1356.7 954.4L1358.1 957.1L1359.6 958.1L1361.1 960.7L1362.6 962.8L1364.1 964.8L1365.6 967.0L1367.0 969.0L1368.5 970.4L1370.0 971.7L1371.5 972.6L1373.0 971.5L1374.4 964.4L1375.9 938.7L1377.4 885.6L1378.9 843.4L1380.4 886.1L1381.9 939.7L1383.3 965.8L1384.8 973.4L1386.3 974.9L1387.8 975.4L1389.3 975.5L1390.8 975.5L1392.2 975.8L1393.7 975.7L1395.2 975.4L1396.7 975.5L1398.2 975.9L1399.7 975.9L1401.1 975.8L1402.6 975.4L1404.1 975.2L1405.6 974.8L1407.1 975.6L1408.6 975.3L1410.0 975.1L1411.5 975.4L1413.0 975.9L1414.5 975.1L1416.0 975.0L1417.5 974.8L1418.9 975.1L1420.4 974.5L1421.9 974.6L1423.4 975.0L1424.9 974.6L1426.4 974.9L1427.8 975.0L1429.3 974.7L1430.8 975.2L1432.3 974.5L1433.8 974.4L1435.2 974.6L1436.7 974.5L1438.2 974.7L1439.7 974.7L1441.2 974.4L1442.7 974.0L1444.1 974.0L1445.6 974.9L1447.1 974.2L1448.6 975.0L1450.1 974.4L1451.6 974.1L1453.0 974.0L1454.5 973.7L1456.0 974.1L1457.5 974.3L1459.0 974.3L1460.5 974.2L1461.9 974.0L1463.4 973.6L1464.9 974.0L1466.4 973.6L1467.9 973.7L1469.4 973.5L1470.8 973.4L1472.3 973.4L1473.8 973.4L1475.3 973.6L1476.8 973.8L1478.3 973.7L1479.7 973.2L1481.2 973.3L1482.7 973.9L1484.2 973.6L1485.7 973.5L1487.1 973.4L1488.6 973.5L1490.1 973.0L1491.6 972.8L1493.1 973.4L1494.6 972.9L1496.0 973.1L1497.5 973.5L1499.0 972.9L1500.5 972.6L1502.0 973.0L1503.5 972.4L1504.9 972.6L1506.4 972.7L1507.9 973.0L1509.4 973.3L1510.9 973.2L1512.4 973.3L1513.8 972.6L1515.3 972.2L1516.8 972.3L1518.3 972.5L1519.8 972.4L1521.3 972.3L1522.7 972.7L1524.2 972.5L1525.7 972.7L1527.2 972.8L1528.7 972.0L1530.2 972.0L1531.6 972.5L1533.1 972.5L1534.6 971.9L1536.1 972.0L1537.6 972.5L1539.1 972.3L1540.5 972.5L1542.0 971.7L1543.5 972.1L1545.0 971.9L1546.5 971.6L1547.9 971.6L1549.4 971.8L1550.9 971.5L1552.4 971.9L1553.9 972.2L1555.4 971.5L1556.8 971.6L1558.3 971.7L1559.8 971.7L1561.3 971.8L1562.8 971.0L1564.3 970.8L1565.7 971.1L1567.2 971.3L1568.7 971.6L1570.2 971.4L1571.7 971.0L1573.2 970.6L1574.6 971.2L1576.1 971.2L1577.6 971.3L1579.1 971.2L1580.6 971.0L1582.1 970.6L1583.5 970.9L1585.0 971.0L1586.5 970.5L1588.0 970.8L1589.5 970.5L1591.0 970.4L1592.4 970.5L1593.9 970.5L1595.4 970.2L1596.9 970.4L1598.4 970.4L1599.8 970.2L1601.3 970.6L1602.8 970.6L1604.3 969.9L1605.8 969.8L1607.3 969.9L1608.7 970.1L1610.2 969.4L1611.7 970.1L1613.2 970.1L1614.7 970.2L1616.2 969.9L1617.6 970.2L1619.1 970.1L1620.6 970.2L1622.1 969.6L1623.6 968.9L1625.1 970.0L1626.5 969.8L1628.0 969.8L1629.5 970.3L1631.0 969.6L1632.5 969.9L1634.0 969.4L1635.4 969.5L1636.9 969.4L1638.4 969.5L1639.9 969.3L1641.4 970.0L1642.9 968.9L1644.3 969.3L1645.8 969.3L1647.3 969.4L1648.8 969.4L1650.3 968.8L1651.8 968.9L1653.2 969.5L1654.7 969.2L1656.2 968.5L1657.7 969.0L1659.2 969.7L1660.6 968.7L1662.1 969.1L1663.6 969.5L1665.1 969.3L1666.6 968.4L1668.1 968.6L1669.5 968.8L1671.0 968.6L1672.5 968.6L1674.0 968.7L1675.5 968.5L1677.0 968.5L1678.4 968.8L1679.9 968.2L1681.4 968.7L1682.9 967.8L1684.4 968.6L1685.9 968.1L1687.3 967.9L1688.8 967.8L1690.3 968.4L1691.8 967.9L1693.3 967.6L1694.8 967.3L1696.2 967.5L1697.7 967.5L1699.2 967.4L1700.7 967.2L1702.2 966.9L1703.7 967.0L1705.1 965.8L1706.6 966.2L1708.1 966.2L1709.6 965.4L1711.1 965.8L1712.5 966.1L1714.0 966.6L1715.5 967.6L1717.0 968.5L1718.5 969.9L1720.0 972.1L1721.4 973.8L1722.9 976.0L1724.4 976.5L1725.9 978.1L1727.4 980.0L1728.9 981.4L1730.3 982.6L1731.8 983.8L1733.3 985.1L1734.8 985.9L1736.3 985.2L1737.8 983.9L1739.2 979.3L1740.7 969.6L1742.2 954.6L1743.7 936.6L1745.2 915.6L1746.7 897.5L1748.1 938.3L1749.6 969.7L1751.1 986.5L1752.6 990.5L1754.1 991.5L1755.6 991.8L1757.0 991.9L1758.5 992.0L1760.0 992.3L1761.5 991.7L1763.0 992.0L1764.5 991.8L1765.9 992.1L1767.4 991.6L1768.9 991.9L1770.4 992.0L1771.9 991.5L1773.3 991.7L1774.8 992.1L1776.3 992.0L1777.8 991.6L1779.3 992.1L1780.8 992.1L1782.2 991.7L1783.7 992.1L1785.2 991.9L1786.7 992.2L1788.2 991.6L1789.7 991.8L1791.1 991.8L1792.6 991.7L1794.1 991.9L1795.6 992.0L1797.1 991.7L1798.6 991.6L1800.0 991.9L1801.5 992.1L1803.0 992.1L1804.5 992.2L1806.0 991.7L1807.5 991.5L1808.9 991.8L1810.4 991.9L1811.9 991.7L1813.4 991.9L1814.9 991.7L1816.4 992.2L1817.8 991.8L1819.3 991.9L1820.8 991.7L1822.3 992.2L1823.8 991.6L1825.3 991.7L1826.7 991.9L1828.2 991.9L1829.7 991.8L1831.2 992.2L1832.7 991.8L1834.1 992.1L1835.6 991.9L1837.1 991.8L1838.6 992.1L1840.1 992.0L1841.6 991.7L1843.0 992.1L1844.5 992.0L1846.0 992.0L1847.5 991.8L1849.0 991.6L1850.5 991.7L1851.9 991.8L1853.4 991.6L1854.9 992.2L1856.4 992.2L1857.9 992.2L1859.4 991.9L1860.8 991.6L1862.3 992.1L1863.8 991.9L1865.3 991.8L1866.8 992.1L1868.3 992.0L1869.7 992.2L1871.2 991.8L1872.7 992.0L1874.2 992.0L1875.7 991.8L1877.2 991.9L1878.6 991.7L1880.1 991.7L1881.6 992.3L1883.1 992.0L1884.6 991.9L1886.0 991.9L1887.5 992.2L1889.0 992.1L1890.5 991.7L1892.0 991.8L1893.5 991.7L1894.9 991.6L1896.4 992.0L1897.9 992.2L1899.4 992.1L1900.9 991.8L1902.4 991.9L1903.8 992.1L1905.3 992.0L1906.8 991.9L1908.3 991.7L1909.8 991.7L1911.3 992.0L1912.7 992.3L1914.2 992.0L1915.7 992.3L1917.2 992.0L1918.7 992.0L1920.2 992.0L1921.6 992.2L1923.1 991.9L1924.6 991.7L1926.1 991.9L1927.6 992.0L1929.1 992.3L1930.5 992.1L1932.0 991.5L1933.5 991.9L1935.0 991.9L1936.5 991.7L1938.0 990.6L1939.4 988.1L1940.9 985.7L1942.4 985.9L1943.9 988.0L1945.4 990.9L1946.8 991.7L1948.3 992.0L1949.8 992.2L1951.3 992.2L1952.8 991.7L1954.3 992.3L1955.7 992.2L1957.2 992.0L1958.7 992.1L1960.2 992.1L1961.7 992.2L1963.2 992.4L1964.6 992.3L1966.1 992.2L1967.6 991.8L1969.1 992.2L1970.6 992.3L1972.1 991.7L1973.5 991.9L1975.0 992.4L1976.5 991.9L1978.0 992.2L1979.5 991.7L1981.0 992.1L1982.4 991.9L1983.9 991.9L1985.4 991.9L1986.9 992.2L1988.4 992.3L1989.9 992.2L1991.3 991.8L1992.8 992.2L1994.3 992.2L1995.8 992.2L1997.3 992.0L1998.7 991.9L2000.2 992.1L2001.7 992.3L2003.2 992.4L2004.7 992.4L2006.2 992.3L2007.6 991.9L2009.1 992.3L2010.6 992.0L2012.1 992.1L2013.6 990.3L2015.1 988.3L2016.5 985.4L2018.0 985.5L2019.5 988.1L2021.0 990.7L2022.5 992.0L2024.0 992.1L2025.4 992.0L2026.9 991.9L2028.4 992.4L2029.9 992.1L2031.4 992.3L2032.9 992.0L2034.3 992.1L2035.8 992.1L2037.3 992.3L2038.8 992.1L2040.3 992.3L2041.8 992.1L2043.2 992.4L2044.7 992.5L2046.2 992.3L2047.7 991.7L2049.2 992.1L2050.7 992.2L2052.1 992.1L2053.6 992.4L2055.1 992.1L2056.6 992.3L2058.1 992.0L2059.5 992.0L2061.0 992.3L2062.5 992.2L2064.0 992.1L2065.5 992.4L2067.0 992.3L2068.4 992.2L2069.9 992.2L2071.4 992.3L2072.9 992.1L2074.4 992.2L2075.9 992.1L2077.3 992.4L2078.8 991.8L2080.3 992.1L2081.8 992.3L2083.3 992.1L2084.8 992.1L2086.2 992.4L2087.7 992.2L2089.2 992.2L2090.7 992.2L2092.2 992.1L2093.7 992.4L2095.1 992.5L2096.6 992.1L2098.1 991.9L2099.6 991.9L2101.1 992.2L2102.6 992.1L2104.0 991.9L2105.5 992.5L2107.0 992.1L2108.5 992.1L2110.0 992.6L2111.4 992.0L2112.9 992.2L2114.4 991.7L2115.9 991.9L2117.4 992.2L2118.9 991.9L2120.3 991.8L2121.8 991.6L2123.3 990.9L2124.8 989.6L2126.3 988.7L2127.8 987.8L2129.2 988.6L2130.7 989.2L2132.2 990.6L2133.7 991.5L2135.2 991.7L2136.7 992.2L2138.1 991.9L2139.6 992.1L2141.1 992.3L2142.6 992.0L2144.1 992.5L2145.6 992.5L2147.0 992.5L2148.5 992.4L2150.0 992.9L2151.5 992.4L2153.0 992.3L2154.5 992.4L2155.9 992.6L2157.4 992.8L2158.9 993.0L2160.4 993.2L2161.9 993.6L2163.4 993.7L2164.8 993.6L2166.3 994.2L2167.8 993.9"/>
<path class="cv" stroke="#0000ff" d="M240.0 1171.1L241.5 1169.9L243.0 1170.0L244.5 1169.6L246.0 1169.5L247.4 1170.4L248.9 1169.7L250.4 1169.5L251.9 1169.9L253.4 1170.2L254.9 1169.8L256.3 1169.6L257.8 1168.8L259.3 1169.5L260.8 1169.3L262.3 1168.3L263.8 1168.4L265.2 1168.8L266.7 1168.0L268.2 1167.9L269.7 1167.9L271.2 1168.4L272.7 1167.7L274.1 1167.9L275.6 1168.1L277.1 1168.3L278.6 1168.2L280.1 1167.9L281.6 1167.8L283.0 1166.6L284.5 1167.3L286.0 1167.7L287.5 1167.5L289.0 1166.8L290.4 1167.2L291.9 1166.8L293.4 1166.8L294.9 1166.5L296.4 1166.1L297.9 1165.7L299.3 1165.7L300.8 1166.0L302.3 1167.4L303.8 1165.2L305.3 1166.1L306.8 1166.3L308.2 1166.1L309.7 1165.7L311.2 1165.7L312.7 1165.6L314.2 1165.2L315.7 1165.1L317.1 1165.1L318.6 1165.1L320.1 1165.0L321.6 1164.5L323.1 1165.3L324.6 1164.9L326.0 1164.4L327.5 1163.8L329.0 1163.8L330.5 1164.0L332.0 1164.0L333.5 1163.6L334.9 1164.3L336.4 1163.2L337.9 1164.3L339.4 1162.9L340.9 1163.0L342.4 1161.3L343.8 1160.1L345.3 1160.0L346.8 1159.4L348.3 1159.1L349.8 1159.5L351.2 1159.4L352.7 1160.0L354.2 1161.6L355.7 1163.0L357.2 1163.7L358.7 1163.6L360.1 1164.7L361.6 1165.8L363.1 1166.6L364.6 1166.5L366.1 1167.8L367.6 1168.4L369.0 1168.7L370.5 1170.3L372.0 1170.0L373.5 1170.3L375.0 1170.6L376.5 1170.3L377.9 1170.8L379.4 1170.9L380.9 1170.9L382.4 1170.8L383.9 1171.2L385.4 1171.0L386.8 1170.9L388.3 1171.2L389.8 1171.4L391.3 1171.0L392.8 1171.4L394.3 1171.2L395.7 1171.5L397.2 1171.8L398.7 1172.2L400.2 1172.7L401.7 1172.3L403.1 1171.6L404.6 1171.7L406.1 1170.8L407.6 1171.4L409.1 1171.1L410.6 1171.5L412.0 1171.5L413.5 1171.7L415.0 1171.3L416.5 1170.5L418.0 1170.8L419.5 1171.9L420.9 1171.1L422.4 1171.0L423.9 1170.8L425.4 1169.5L426.9 1170.3L428.4 1170.3L429.8 1169.8L431.3 1169.9L432.8 1170.4L434.3 1170.0L435.8 1169.9L437.3 1169.6L438.7 1169.7L440.2 1169.8L441.7 1169.5L443.2 1169.0L444.7 1169.0L446.2 1168.5L447.6 1169.5L449.1 1169.0L450.6 1169.4L452.1 1169.3L453.6 1168.2L455.1 1168.6L456.5 1168.8L458.0 1167.6L459.5 1168.4L461.0 1168.2L462.5 1167.9L463.9 1168.3L465.4 1167.4L466.9 1167.9L468.4 1168.3L469.9 1167.4L471.4 1168.1L472.8 1167.2L474.3 1167.3L475.8 1167.7L477.3 1167.4L478.8 1167.5L480.3 1167.5L481.7 1167.6L483.2 1166.3L484.7 1167.5L486.2 1166.5L487.7 1166.7L489.2 1166.3L490.6 1167.0L492.1 1166.4L493.6 1165.3L495.1 1165.6L496.6 1165.7L498.1 1165.7L499.5 1165.7L501.0 1165.7L502.5 1165.3L504.0 1165.3L505.5 1165.2L507.0 1164.9L508.4 1165.6L509.9 1164.9L511.4 1164.9L512.9 1165.0L514.4 1164.4L515.8 1165.2L517.3 1164.4L518.8 1164.8L520.3 1164.1L521.8 1164.5L523.3 1164.1L524.7 1163.6L526.2 1163.6L527.7 1163.1L529.2 1164.0L530.7 1163.0L532.2 1162.7L533.6 1163.8L535.1 1163.0L536.6 1163.3L538.1 1163.0L539.6 1162.2L541.1 1162.7L542.5 1163.2L544.0 1162.4L545.5 1161.6L547.0 1162.8L548.5 1162.2L550.0 1162.2L551.4 1161.8L552.9 1162.1L554.4 1161.5L555.9 1161.1L557.4 1162.1L558.9 1161.7L560.3 1162.2L561.8 1160.9L563.3 1161.4L564.8 1160.8L566.3 1162.0L567.8 1160.8L569.2 1161.2L570.7 1160.3L572.2 1160.6L573.7 1160.4L575.2 1160.6L576.6 1160.4L578.1 1160.8L579.6 1160.4L581.1 1160.7L582.6 1159.8L584.1 1160.1L585.5 1159.1L587.0 1160.1L588.5 1159.5L590.0 1158.5L591.5 1159.5L593.0 1159.0L594.4 1159.9L595.9 1158.9L597.4 1159.2L598.9 1159.1L600.4 1159.3L601.9 1159.7L603.3 1158.8L604.8 1158.3L606.3 1158.7L607.8 1158.4L609.3 1158.2L610.8 1158.2L612.2 1157.6L613.7 1158.3L615.2 1158.1L616.7 1157.9L618.2 1157.7L619.7 1157.5L621.1 1157.7L622.6 1157.1L624.1 1157.1L625.6 1157.4L627.1 1156.7L628.5 1157.2L630.0 1156.8L631.5 1156.8L633.0 1156.8L634.5 1156.9L636.0 1156.6L637.4 1155.9L638.9 1156.0L640.4 1156.1L641.9 1155.8L643.4 1154.9L644.9 1155.1L646.3 1155.6L647.8 1156.0L649.3 1156.1L650.8 1156.6L652.3 1155.1L653.8 1154.9L655.2 1155.0L656.7 1155.1L658.2 1155.1L659.7 1155.6L661.2 1154.8L662.7 1155.2L664.1 1154.8L665.6 1154.3L667.1 1153.7L668.6 1154.4L670.1 1154.2L671.6 1153.3L673.0 1154.5L674.5 1152.9L676.0 1152.5L677.5 1152.1L679.0 1151.5L680.5 1150.6L681.9 1150.3L683.4 1150.3L684.9 1150.4L686.4 1150.4L687.9 1151.2L689.3 1151.6L690.8 1151.6L692.3 1151.8L693.8 1152.9L695.3 1152.8L696.8 1154.0L698.2 1154.8L699.7 1155.5L701.2 1156.3L702.7 1158.1L704.2 1157.2L705.7 1157.7L707.1 1157.5L708.6 1157.1L710.1 1157.0L711.6 1153.6L713.1 1151.4L714.6 1148.9L716.0 1147.4L717.5 1144.7L719.0 1144.6L720.5 1145.6L722.0 1146.7L723.5 1147.1L724.9 1149.9L726.4 1152.1L727.9 1154.4L729.4 1155.7L730.9 1158.8L732.4 1163.1L733.8 1166.5L735.3 1169.2L736.8 1170.4L738.3 1170.9L739.8 1171.2L741.3 1170.2L742.7 1171.8L744.2 1171.0L745.7 1171.3L747.2 1171.8L748.7 1171.5L750.1 1171.8L751.6 1171.9L753.1 1172.8L754.6 1172.1L756.1 1170.8L757.6 1171.7L759.0 1171.7L760.5 1171.8L762.0 1171.5L763.5 1172.1L765.0 1171.8L766.5 1171.9L767.9 1171.3L769.4 1170.8L770.9 1171.9L772.4 1171.4L773.9 1171.2L775.4 1171.2L776.8 1172.0L778.3 1170.5L779.8 1171.6L781.3 1171.3L782.8 1172.1L784.3 1170.3L785.7 1171.2L787.2 1171.0L788.7 1170.4L790.2 1170.6L791.7 1170.5L793.2 1170.7L794.6 1170.9L796.1 1170.7L797.6 1169.7L799.1 1170.3L800.6 1170.3L802.0 1170.5L803.5 1171.3L805.0 1171.3L806.5 1170.0L808.0 1169.5L809.5 1171.1L810.9 1170.3L812.4 1170.9L813.9 1169.7L815.4 1170.3L816.9 1169.8L818.4 1169.9L819.8 1169.5L821.3 1170.0L822.8 1170.9L824.3 1169.7L825.8 1169.7L827.3 1169.0L828.7 1170.3L830.2 1170.0L831.7 1169.9L833.2 1169.6L834.7 1169.7L836.2 1170.3L837.6 1168.9L839.1 1169.4L840.6 1169.9L842.1 1169.0L843.6 1168.7L845.1 1168.8L846.5 1168.7L848.0 1169.1L849.5 1169.7L851.0 1169.0L852.5 1168.5L854.0 1168.8L855.4 1169.3L856.9 1169.4L858.4 1168.4L859.9 1168.5L861.4 1168.7L862.8 1168.6L864.3 1168.8L865.8 1168.6L867.3 1168.7L868.8 1168.5L870.3 1169.0L871.7 1167.5L873.2 1167.9L874.7 1167.8L876.2 1167.9L877.7 1167.5L879.2 1168.6L880.6 1168.1L882.1 1167.8L883.6 1167.5L885.1 1167.7L886.6 1167.4L888.1 1167.7L889.5 1166.8L891.0 1166.8L892.5 1166.7L894.0 1167.7L895.5 1167.4L897.0 1167.1L898.4 1167.5L899.9 1167.6L901.4 1166.8L902.9 1167.4L904.4 1167.2L905.9 1166.3L907.3 1166.2L908.8 1167.0L910.3 1166.3L911.8 1166.1L913.3 1166.3L914.7 1166.4L916.2 1167.1L917.7 1166.2L919.2 1166.9L920.7 1165.7L922.2 1166.3L923.6 1166.6L925.1 1165.9L926.6 1165.9L928.1 1166.2L929.6 1165.5L931.1 1165.0L932.5 1165.3L934.0 1165.6L935.5 1166.1L937.0 1165.5L938.5 1165.5L940.0 1165.6L941.4 1165.8L942.9 1166.1L944.4 1165.3L945.9 1165.6L947.4 1164.7L948.9 1165.1L950.3 1165.6L951.8 1165.8L953.3 1164.9L954.8 1164.7L956.3 1164.7L957.8 1165.2L959.2 1164.7L960.7 1165.4L962.2 1164.3L963.7 1164.6L965.2 1163.3L966.7 1164.1L968.1 1164.7L969.6 1164.0L971.1 1164.9L972.6 1164.9L974.1 1163.8L975.5 1164.5L977.0 1165.1L978.5 1164.9L980.0 1164.3L981.5 1164.3L983.0 1164.5L984.4 1163.8L985.9 1163.9L987.4 1163.8L988.9 1163.3L990.4 1163.9L991.9 1163.3L993.3 1164.2L994.8 1163.1L996.3 1163.0L997.8 1163.4L999.3 1163.5L1000.8 1164.1L1002.2 1163.4L1003.7 1163.6L1005.2 1162.5L1006.7 1162.7L1008.2 1163.0L1009.7 1163.2L1011.1 1162.9L1012.6 1162.9L1014.1 1162.6L1015.6 1162.4L1017.1 1163.0L1018.6 1163.2L1020.0 1162.2L1021.5 1163.0L1023.0 1162.3L1024.5 1161.6L1026.0 1161.8L1027.4 1162.0L1028.9 1162.6L1030.4 1162.8L1031.9 1163.2L1033.4 1162.2L1034.9 1162.2L1036.3 1162.4L1037.8 1162.2L1039.3 1162.6L1040.8 1162.7L1042.3 1162.1L1043.8 1162.4L1045.2 1161.8L1046.7 1161.7L1048.2 1162.2L1049.7 1161.3L1051.2 1162.1L1052.7 1161.7L1054.1 1161.8L1055.6 1162.5L1057.1 1162.0L1058.6 1161.4L1060.1 1161.3L1061.6 1160.8L1063.0 1161.7L1064.5 1160.8L1066.0 1161.7L1067.5 1161.6L1069.0 1161.1L1070.5 1160.9L1071.9 1161.1L1073.4 1160.8L1074.9 1160.5L1076.4 1160.5L1077.9 1160.8L1079.4 1160.4L1080.8 1160.3L1082.3 1161.3L1083.8 1160.2L1085.3 1160.8L1086.8 1160.6L1088.2 1160.3L1089.7 1160.6L1091.2 1160.5L1092.7 1160.6L1094.2 1160.4L1095.7 1160.1L1097.1 1160.3L1098.6 1159.6L1100.1 1160.0L1101.6 1159.5L1103.1 1160.0L1104.6 1160.4L1106.0 1160.5L1107.5 1159.4L1109.0 1159.5L1110.5 1159.3L1112.0 1159.7L1113.5 1159.4L1114.9 1159.2L1116.4 1159.6L1117.9 1158.7L1119.4 1159.8L1120.9 1159.6L1122.4 1159.6L1123.8 1158.9L1125.3 1159.1L1126.8 1159.6L1128.3 1158.8L1129.8 1159.4L1131.3 1159.0L1132.7 1158.9L1134.2 1159.4L1135.7 1159.9L1137.2 1158.8L1138.7 1158.1L1140.2 1159.0L1141.6 1158.2L1143.1 1158.7L1144.6 1158.2L1146.1 1159.4L1147.6 1158.8L1149.0 1158.8L1150.5 1158.3L1152.0 1158.7L1153.5 1159.1L1155.0 1158.8L1156.5 1157.9L1157.9 1158.7L1159.4 1158.0L1160.9 1157.0L1162.4 1157.4L1163.9 1158.1L1165.4 1158.1L1166.8 1157.3L1168.3 1157.8L1169.8 1158.1L1171.3 1157.9L1172.8 1157.4L1174.3 1156.9L1175.7 1157.0L1177.2 1157.6L1178.7 1156.8L1180.2 1157.5L1181.7 1156.0L1183.2 1156.8L1184.6 1157.2L1186.1 1156.5L1187.6 1157.5L1189.1 1157.3L1190.6 1157.8L1192.1 1156.9L1193.5 1157.1L1195.0 1156.8L1196.5 1156.4L1198.0 1156.7L1199.5 1156.4L1200.9 1156.5L1202.4 1157.1L1203.9 1156.4L1205.4 1155.9L1206.9 1157.4L1208.4 1156.1L1209.8 1156.9L1211.3 1156.9L1212.8 1156.6L1214.3 1156.1L1215.8 1155.6L1217.3 1156.3L1218.7 1156.3L1220.2 1155.9L1221.7 1155.6L1223.2 1156.7L1224.7 1155.5L1226.2 1156.7L1227.6 1154.3L1229.1 1156.0L1230.6 1155.4L1232.1 1155.9L1233.6 1155.5L1235.1 1154.6L1236.5 1155.3L1238.0 1155.0L1239.5 1154.6L1241.0 1155.1L1242.5 1155.1L1244.0 1154.0L1245.4 1155.1L1246.9 1154.4L1248.4 1154.8L1249.9 1154.3L1251.4 1155.1L1252.9 1154.4L1254.3 1154.5L1255.8 1154.2L1257.3 1155.1L1258.8 1154.8L1260.3 1154.4L1261.7 1154.9L1263.2 1155.3L1264.7 1154.5L1266.2 1154.1L1267.7 1154.8L1269.2 1154.4L1270.6 1154.7L1272.1 1154.2L1273.6 1153.5L1275.1 1154.1L1276.6 1153.3L1278.1 1154.5L1279.5 1153.8L1281.0 1154.0L1282.5 1153.9L1284.0 1154.3L1285.5 1153.5L1287.0 1153.1L1288.4 1153.1L1289.9 1153.5L1291.4 1153.1L1292.9 1153.5L1294.4 1153.9L1295.9 1153.0L1297.3 1153.7L1298.8 1152.3L1300.3 1154.0L1301.8 1153.8L1303.3 1152.8L1304.8 1153.5L1306.2 1152.6L1307.7 1152.7L1309.2 1153.2L1310.7 1152.5L1312.2 1153.3L1313.6 1152.9L1315.1 1152.7L1316.6 1152.9L1318.1 1152.5L1319.6 1152.7L1321.1 1153.1L1322.5 1151.7L1324.0 1152.4L1325.5 1152.4L1327.0 1152.2L1328.5 1151.6L1330.0 1152.4L1331.4 1151.5L1332.9 1151.5L1334.4 1150.8L1335.9 1149.4L1337.4 1149.3L1338.9 1148.9L1340.3 1148.5L1341.8 1147.9L1343.3 1146.4L1344.8 1148.0L1346.3 1147.6L1347.8 1148.4L1349.2 1147.9L1350.7 1148.0L1352.2 1149.8L1353.7 1150.7L1355.2 1152.4L1356.7 1153.6L1358.1 1155.7L1359.6 1158.1L1361.1 1160.2L1362.6 1162.6L1364.1 1164.3L1365.6 1166.8L1367.0 1169.2L1368.5 1170.6L1370.0 1172.0L1371.5 1172.9L1373.0 1171.7L1374.4 1163.1L1375.9 1131.7L1377.4 1066.5L1378.9 1014.6L1380.4 1067.4L1381.9 1133.5L1383.3 1165.8L1384.8 1175.3L1386.3 1177.4L1387.8 1178.0L1389.3 1178.2L1390.8 1178.2L1392.2 1178.5L1393.7 1178.7L1395.2 1178.5L1396.7 1178.1L1398.2 1178.8L1399.7 1177.8L1401.1 1177.8L1402.6 1178.1L1404.1 1178.4L1405.6 1178.0L1407.1 1178.1L1408.6 1178.3L1410.0 1178.2L1411.5 1178.6L1413.0 1177.9L1414.5 1177.9L1416.0 1177.9L1417.5 1177.9L1418.9 1177.9L1420.4 1178.0L1421.9 1177.6L1423.4 1177.6L1424.9 1178.3L1426.4 1177.2L1427.8 1177.5L1429.3 1177.6L1430.8 1177.5L1432.3 1177.5L1433.8 1177.7L1435.2 1176.9L1436.7 1177.5L1438.2 1177.0L1439.7 1177.1L1441.2 1177.4L1442.7 1177.2L1444.1 1177.4L1445.6 1177.1L1447.1 1177.2L1448.6 1176.7L1450.1 1176.9L1451.6 1176.9L1453.0 1176.9L1454.5 1176.6L1456.0 1177.0L1457.5 1176.2L1459.0 1176.7L1460.5 1177.3L1461.9 1177.1L1463.4 1176.6L1464.9 1177.0L1466.4 1176.8L1467.9 1176.5L1469.4 1176.7L1470.8 1176.6L1472.3 1176.4L1473.8 1176.4L1475.3 1176.7L1476.8 1176.3L1478.3 1176.5L1479.7 1176.2L1481.2 1176.6L1482.7 1175.9L1484.2 1175.3L1485.7 1176.0L1487.1 1176.1L1488.6 1176.4L1490.1 1175.7L1491.6 1176.5L1493.1 1175.8L1494.6 1176.3L1496.0 1176.0L1497.5 1175.5L1499.0 1176.1L1500.5 1175.8L1502.0 1175.7L1503.5 1175.3L1504.9 1175.6L1506.4 1175.8L1507.9 1175.4L1509.4 1175.1L1510.9 1175.3L1512.4 1175.0L1513.8 1175.5L1515.3 1175.2L1516.8 1175.0L1518.3 1175.2L1519.8 1175.4L1521.3 1175.6L1522.7 1175.3L1524.2 1174.8L1525.7 1175.2L1527.2 1175.1L1528.7 1174.7L1530.2 1174.8L1531.6 1175.3L1533.1 1175.2L1534.6 1174.7L1536.1 1175.1L1537.6 1175.2L1539.1 1175.2L1540.5 1174.4L1542.0 1174.2L1543.5 1174.3L1545.0 1174.1L1546.5 1174.3L1547.9 1174.9L1549.4 1174.8L1550.9 1174.5L1552.4 1174.7L1553.9 1174.1L1555.4 1174.6L1556.8 1174.6L1558.3 1174.4L1559.8 1174.6L1561.3 1174.5L1562.8 1174.2L1564.3 1174.3L1565.7 1174.4L1567.2 1173.8L1568.7 1174.1L1570.2 1174.3L1571.7 1174.4L1573.2 1173.6L1574.6 1173.9L1576.1 1173.6L1577.6 1173.7L1579.1 1174.0L1580.6 1173.3L1582.1 1173.8L1583.5 1173.1L1585.0 1173.4L1586.5 1173.5L1588.0 1173.8L1589.5 1173.9L1591.0 1173.2L1592.4 1173.2L1593.9 1173.2L1595.4 1173.1L1596.9 1173.4L1598.4 1173.4L1599.8 1173.1L1601.3 1172.8L1602.8 1173.0L1604.3 1173.1L1605.8 1173.1L1607.3 1172.7L1608.7 1172.4L1610.2 1173.0L1611.7 1172.8L1613.2 1172.7L1614.7 1172.6L1616.2 1172.6L1617.6 1172.5L1619.1 1172.9L1620.6 1172.6L1622.1 1173.0L1623.6 1172.5L1625.1 1173.1L1626.5 1172.5L1628.0 1172.7L1629.5 1172.5L1631.0 1172.5L1632.5 1172.6L1634.0 1171.9L1635.4 1172.3L1636.9 1172.7L1638.4 1172.6L1639.9 1171.9L1641.4 1171.8L1642.9 1172.3L1644.3 1172.3L1645.8 1172.0L1647.3 1172.0L1648.8 1172.1L1650.3 1172.1L1651.8 1172.4L1653.2 1171.2L1654.7 1171.6L1656.2 1171.3L1657.7 1171.9L1659.2 1171.5L1660.6 1171.8L1662.1 1171.3L1663.6 1171.8L1665.1 1171.2L1666.6 1172.0L1668.1 1171.8L1669.5 1171.9L1671.0 1170.9L1672.5 1171.8L1674.0 1171.7L1675.5 1171.2L1677.0 1171.3L1678.4 1171.4L1679.9 1170.8L1681.4 1170.9L1682.9 1171.5L1684.4 1170.9L1685.9 1171.1L1687.3 1170.4L1688.8 1170.9L1690.3 1170.6L1691.8 1170.6L1693.3 1170.9L1694.8 1170.7L1696.2 1170.5L1697.7 1170.8L1699.2 1170.3L1700.7 1170.5L1702.2 1170.2L1703.7 1169.9L1705.1 1169.0L1706.6 1168.9L1708.1 1168.9L1709.6 1168.2L1711.1 1168.6L1712.5 1169.0L1714.0 1169.5L1715.5 1170.9L1717.0 1171.9L1718.5 1173.4L1720.0 1175.9L1721.4 1177.8L1722.9 1180.3L1724.4 1181.7L1725.9 1183.5L1727.4 1185.6L1728.9 1186.5L1730.3 1188.0L1731.8 1189.5L1733.3 1190.9L1734.8 1191.7L1736.3 1190.8L1737.8 1189.2L1739.2 1183.5L1740.7 1171.6L1742.2 1153.0L1743.7 1130.8L1745.2 1104.9L1746.7 1082.6L1748.1 1132.5L1749.6 1170.8L1751.1 1191.4L1752.6 1196.4L1754.1 1197.6L1755.6 1197.9L1757.0 1198.0L1758.5 1198.0L1760.0 1197.8L1761.5 1197.6L1763.0 1198.0L1764.5 1198.1L1765.9 1197.8L1767.4 1197.6L1768.9 1198.2L1770.4 1198.0L1771.9 1198.1L1773.3 1197.8L1774.8 1198.1L1776.3 1197.8L1777.8 1197.8L1779.3 1198.1L1780.8 1197.9L1782.2 1197.7L1783.7 1198.2L1785.2 1198.3L1786.7 1198.3L1788.2 1197.9L1789.7 1198.3L1791.1 1197.8L1792.6 1198.5L1794.1 1197.8L1795.6 1198.2L1797.1 1198.1L1798.6 1197.9L1800.0 1197.9L1801.5 1197.9L1803.0 1197.7L1804.5 1197.8L1806.0 1198.1L1807.5 1198.0L1808.9 1197.9L1810.4 1198.0L1811.9 1198.0L1813.4 1197.9L1814.9 1198.0L1816.4 1198.1L1817.8 1197.7L1819.3 1197.5L1820.8 1198.1L1822.3 1197.8L1823.8 1197.7L1825.3 1197.7L1826.7 1197.7L1828.2 1197.9L1829.7 1197.9L1831.2 1198.0L1832.7 1198.2L1834.1 1197.8L1835.6 1198.3L1837.1 1198.0L1838.6 1197.9L1840.1 1198.1L1841.6 1197.8L1843.0 1198.2L1844.5 1198.2L1846.0 1197.9L1847.5 1198.1L1849.0 1198.6L1850.5 1198.2L1851.9 1198.1L1853.4 1198.3L1854.9 1197.8L1856.4 1198.2L1857.9 1198.1L1859.4 1197.9L1860.8 1198.1L1862.3 1197.8L1863.8 1198.1L1865.3 1198.3L1866.8 1198.5L1868.3 1198.4L1869.7 1198.1L1871.2 1197.9L1872.7 1198.5L1874.2 1198.1L1875.7 1198.2L1877.2 1197.6L1878.6 1198.3L1880.1 1198.3L1881.6 1198.1L1883.1 1197.9L1884.6 1198.2L1886.0 1197.9L1887.5 1198.4L1889.0 1198.2L1890.5 1198.1L1892.0 1198.0L1893.5 1198.1L1894.9 1198.3L1896.4 1198.1L1897.9 1198.2L1899.4 1197.9L1900.9 1198.2L1902.4 1197.9L1903.8 1198.1L1905.3 1197.9L1906.8 1198.1L1908.3 1198.1L1909.8 1198.2L1911.3 1198.0L1912.7 1198.0L1914.2 1197.4L1915.7 1197.9L1917.2 1198.3L1918.7 1198.0L1920.2 1197.9L1921.6 1198.1L1923.1 1198.2L1924.6 1198.2L1926.1 1198.1L1927.6 1197.9L1929.1 1197.9L1930.5 1198.2L1932.0 1197.6L1933.5 1197.9L1935.0 1198.4L1936.5 1197.6L1938.0 1197.1L1939.4 1195.4L1940.9 1193.4L1942.4 1193.7L1943.9 1195.1L1945.4 1196.8L1946.8 1197.9L1948.3 1198.3L1949.8 1198.0L1951.3 1197.9L1952.8 1197.9L1954.3 1198.0L1955.7 1198.1L1957.2 1198.2L1958.7 1198.3L1960.2 1198.2L1961.7 1198.3L1963.2 1197.9L1964.6 1198.1L1966.1 1197.8L1967.6 1198.1L1969.1 1198.1L1970.6 1198.3L1972.1 1198.4L1973.5 1198.1L1975.0 1198.2L1976.5 1198.2L1978.0 1198.3L1979.5 1198.0L1981.0 1198.0L1982.4 1198.4L1983.9 1198.4L1985.4 1197.8L1986.9 1197.9L1988.4 1197.9L1989.9 1197.9L1991.3 1198.2L1992.8 1198.4L1994.3 1198.3L1995.8 1197.9L1997.3 1198.1L1998.7 1198.2L2000.2 1198.2L2001.7 1198.2L2003.2 1198.5L2004.7 1198.5L2006.2 1198.4L2007.6 1198.1L2009.1 1198.2L2010.6 1198.1L2012.1 1197.9L2013.6 1197.4L2015.1 1195.4L2016.5 1193.4L2018.0 1193.6L2019.5 1195.6L2021.0 1197.1L2022.5 1198.2L2024.0 1198.2L2025.4 1198.1L2026.9 1198.0L2028.4 1198.5L2029.9 1198.2L2031.4 1198.3L2032.9 1198.2L2034.3 1198.1L2035.8 1198.1L2037.3 1198.3L2038.8 1198.3L2040.3 1198.5L2041.8 1198.4L2043.2 1198.0L2044.7 1198.2L2046.2 1197.9L2047.7 1198.3L2049.2 1198.4L2050.7 1198.0L2052.1 1198.2L2053.6 1198.7L2055.1 1198.1L2056.6 1198.0L2058.1 1198.1L2059.5 1198.1L2061.0 1198.3L2062.5 1198.2L2064.0 1198.1L2065.5 1198.8L2067.0 1198.4L2068.4 1198.2L2069.9 1198.4L2071.4 1198.3L2072.9 1198.5L2074.4 1198.1L2075.9 1198.4L2077.3 1198.3L2078.8 1198.4L2080.3 1198.0L2081.8 1198.3L2083.3 1198.3L2084.8 1198.5L2086.2 1198.2L2087.7 1198.2L2089.2 1198.1L2090.7 1198.1L2092.2 1198.4L2093.7 1198.4L2095.1 1198.1L2096.6 1198.5L2098.1 1198.5L2099.6 1198.3L2101.1 1197.9L2102.6 1198.8L2104.0 1198.1L2105.5 1198.2L2107.0 1198.1L2108.5 1198.0L2110.0 1198.1L2111.4 1198.0L2112.9 1198.1L2114.4 1198.3L2115.9 1198.0L2117.4 1197.8L2118.9 1198.1L2120.3 1197.8L2121.8 1197.8L2123.3 1196.8L2124.8 1195.7L2126.3 1194.6L2127.8 1193.7L2129.2 1194.2L2130.7 1195.3L2132.2 1196.3L2133.7 1197.3L2135.2 1198.0L2136.7 1198.5L2138.1 1198.2L2139.6 1198.5L2141.1 1198.5L2142.6 1198.0L2144.1 1198.1L2145.6 1198.4L2147.0 1198.5L2148.5 1198.2L2150.0 1198.5L2151.5 1198.5L2153.0 1198.4L2154.5 1198.6L2155.9 1198.4L2157.4 1198.8L2158.9 1199.0L2160.4 1199.4L2161.9 1199.6L2163.4 1199.9L2164.8 1200.1L2166.3 1200.3L2167.8 1200.8"/>
<path class="cv" stroke="#ff0000" d="M240.0 1382.1L241.5 1381.4L243.0 1381.8L244.5 1380.4L246.0 1381.1L247.4 1382.0L248.9 1381.0L250.4 1381.3L251.9 1380.5L253.4 1381.5L254.9 1381.2L256.3 1381.2L257.8 1380.4L259.3 1380.7L260.8 1380.0L262.3 1380.5L263.8 1379.3L265.2 1380.3L266.7 1380.3L268.2 1379.8L269.7 1380.4L271.2 1379.7L272.7 1380.4L274.1 1379.3L275.6 1379.1L277.1 1379.3L278.6 1380.7L280.1 1378.4L281.6 1378.9L283.0 1378.8L284.5 1379.2L286.0 1378.0L287.5 1379.5L289.0 1377.7L290.4 1379.2L291.9 1378.2L293.4 1377.8L294.9 1378.5L296.4 1377.3L297.9 1377.9L299.3 1377.3L300.8 1377.2L302.3 1377.1L303.8 1377.5L305.3 1378.2L306.8 1377.2L308.2 1377.9L309.7 1376.9L311.2 1377.4L312.7 1377.3L314.2 1376.8L315.7 1377.1L317.1 1376.8L318.6 1376.7L320.1 1375.7L321.6 1376.5L323.1 1377.1L324.6 1375.3L326.0 1376.0L327.5 1376.0L329.0 1375.9L330.5 1375.9L332.0 1376.0L333.5 1375.3L334.9 1375.4L336.4 1374.9L337.9 1374.5L339.4 1374.8L340.9 1374.1L342.4 1373.0L343.8 1371.9L345.3 1371.1L346.8 1371.1L348.3 1370.3L349.8 1370.5L351.2 1371.8L352.7 1371.8L354.2 1373.3L355.7 1374.7L357.2 1374.5L358.7 1376.3L360.1 1377.6L361.6 1378.9L363.1 1379.3L364.6 1380.5L366.1 1381.5L367.6 1382.4L369.0 1382.5L370.5 1383.3L372.0 1383.6L373.5 1383.2L375.0 1382.4L376.5 1384.0L377.9 1384.5L379.4 1383.8L380.9 1384.8L382.4 1383.2L383.9 1384.0L385.4 1384.2L386.8 1383.5L388.3 1383.9L389.8 1384.0L391.3 1384.4L392.8 1384.7L394.3 1384.1L395.7 1383.5L397.2 1384.8L398.7 1384.4L400.2 1384.7L401.7 1383.5L403.1 1384.2L404.6 1383.4L406.1 1383.8L407.6 1384.3L409.1 1384.0L410.6 1384.3L412.0 1383.2L413.5 1384.2L415.0 1383.5L416.5 1383.7L418.0 1383.6L419.5 1383.3L420.9 1383.2L422.4 1382.1L423.9 1383.0L425.4 1382.7L426.9 1382.4L428.4 1382.0L429.8 1381.9L431.3 1383.3L432.8 1382.1L434.3 1381.8L435.8 1382.3L437.3 1381.6L438.7 1381.4L440.2 1381.9L441.7 1381.6L443.2 1381.6L444.7 1381.7L446.2 1381.1L447.6 1381.1L449.1 1381.3L450.6 1381.0L452.1 1381.0L453.6 1381.3L455.1 1380.9L456.5 1381.3L458.0 1380.2L459.5 1380.5L461.0 1380.3L462.5 1379.7L463.9 1380.5L465.4 1380.2L466.9 1379.6L468.4 1380.4L469.9 1380.1L471.4 1380.7L472.8 1379.4L474.3 1379.3L475.8 1379.3L477.3 1379.0L478.8 1379.0L480.3 1378.4L481.7 1379.4L483.2 1378.9L484.7 1378.9L486.2 1378.8L487.7 1378.1L489.2 1379.1L490.6 1378.9L492.1 1379.1L493.6 1378.3L495.1 1378.1L496.6 1377.8L498.1 1376.9L499.5 1378.6L501.0 1377.8L502.5 1378.3L504.0 1378.2L505.5 1377.9L507.0 1377.2L508.4 1376.9L509.9 1377.7L511.4 1377.2L512.9 1377.3L514.4 1377.5L515.8 1376.5L517.3 1377.7L518.8 1376.9L520.3 1377.2L521.8 1377.1L523.3 1376.5L524.7 1376.0L526.2 1376.4L527.7 1376.0L529.2 1376.5L530.7 1376.1L532.2 1375.9L533.6 1376.6L535.1 1376.1L536.6 1375.6L538.1 1375.1L539.6 1375.0L541.1 1375.4L542.5 1375.2L544.0 1375.7L545.5 1374.7L547.0 1375.5L548.5 1374.6L550.0 1375.3L551.4 1376.0L552.9 1374.9L554.4 1375.0L555.9 1374.5L557.4 1374.1L558.9 1374.4L560.3 1374.6L561.8 1373.9L563.3 1374.1L564.8 1374.2L566.3 1374.0L567.8 1374.2L569.2 1374.7L570.7 1373.5L572.2 1373.5L573.7 1374.0L575.2 1372.5L576.6 1372.8L578.1 1373.1L579.6 1373.0L581.1 1373.5L582.6 1373.4L584.1 1372.7L585.5 1372.6L587.0 1372.3L588.5 1372.4L590.0 1372.7L591.5 1373.1L593.0 1372.4L594.4 1372.6L595.9 1372.1L597.4 1371.3L598.9 1371.4L600.4 1371.7L601.9 1371.2L603.3 1371.9L604.8 1370.8L606.3 1370.9L607.8 1370.5L609.3 1371.7L610.8 1370.5L612.2 1370.9L613.7 1369.9L615.2 1370.7L616.7 1369.9L618.2 1370.0L619.7 1370.5L621.1 1369.9L622.6 1370.1L624.1 1369.8L625.6 1369.5L627.1 1369.9L628.5 1369.5L630.0 1369.8L631.5 1369.7L633.0 1369.1L634.5 1369.2L636.0 1369.4L637.4 1369.8L638.9 1368.4L640.4 1369.2L641.9 1369.3L643.4 1368.7L644.9 1369.0L646.3 1368.9L647.8 1368.0L649.3 1369.0L650.8 1368.0L652.3 1367.8L653.8 1368.8L655.2 1368.5L656.7 1368.3L658.2 1367.7L659.7 1367.7L661.2 1367.5L662.7 1368.1L664.1 1367.6L665.6 1367.5L667.1 1366.4L668.6 1366.4L670.1 1365.8L671.6 1366.2L673.0 1366.7L674.5 1366.0L676.0 1365.2L677.5 1364.3L679.0 1363.9L680.5 1362.2L681.9 1362.8L683.4 1361.7L684.9 1362.1L686.4 1361.8L687.9 1362.9L689.3 1363.4L690.8 1363.3L692.3 1364.9L693.8 1364.9L695.3 1365.0L696.8 1366.2L698.2 1366.8L699.7 1367.9L701.2 1368.9L702.7 1370.3L704.2 1369.0L705.7 1368.4L707.1 1369.7L708.6 1369.9L710.1 1369.8L711.6 1364.8L713.1 1362.4L714.6 1360.2L716.0 1358.4L717.5 1355.9L719.0 1355.5L720.5 1356.3L722.0 1357.2L723.5 1359.5L724.9 1361.6L726.4 1363.8L727.9 1365.9L729.4 1368.7L730.9 1371.5L732.4 1376.2L733.8 1379.5L735.3 1383.2L736.8 1382.7L738.3 1384.7L739.8 1384.3L741.3 1384.3L742.7 1384.0L744.2 1383.9L745.7 1384.7L747.2 1384.9L748.7 1385.1L750.1 1384.3L751.6 1384.4L753.1 1385.1L754.6 1384.9L756.1 1385.4L757.6 1384.9L759.0 1384.4L760.5 1385.3L762.0 1385.0L763.5 1384.7L765.0 1383.9L766.5 1385.2L767.9 1384.8L769.4 1384.0L770.9 1384.3L772.4 1385.1L773.9 1384.4L775.4 1384.6L776.8 1384.4L778.3 1384.1L779.8 1383.5L781.3 1384.1L782.8 1383.9L784.3 1383.2L785.7 1383.8L787.2 1384.1L788.7 1383.6L790.2 1383.8L791.7 1384.1L793.2 1384.4L794.6 1383.6L796.1 1382.5L797.6 1383.2L799.1 1382.8L800.6 1383.1L802.0 1382.5L803.5 1383.1L805.0 1382.3L806.5 1382.7L808.0 1382.6L809.5 1383.2L810.9 1382.1L812.4 1382.3L813.9 1382.4L815.4 1382.2L816.9 1382.0L818.4 1382.5L819.8 1383.0L821.3 1382.0L822.8 1381.4L824.3 1382.5L825.8 1382.0L827.3 1381.8L828.7 1381.8L830.2 1381.4L831.7 1381.1L833.2 1381.6L834.7 1381.7L836.2 1381.5L837.6 1381.1L839.1 1381.7L840.6 1382.1L842.1 1380.9L843.6 1381.6L845.1 1380.8L846.5 1380.9L848.0 1380.9L849.5 1380.7L851.0 1381.0L852.5 1381.4L854.0 1381.0L855.4 1380.5L856.9 1380.9L858.4 1381.1L859.9 1380.6L861.4 1380.9L862.8 1380.1L864.3 1380.7L865.8 1380.8L867.3 1380.5L868.8 1380.5L870.3 1380.7L871.7 1379.8L873.2 1381.0L874.7 1380.6L876.2 1380.8L877.7 1379.5L879.2 1380.6L880.6 1378.5L882.1 1379.5L883.6 1380.7L885.1 1379.3L886.6 1380.1L888.1 1379.8L889.5 1380.9L891.0 1380.7L892.5 1379.9L894.0 1380.0L895.5 1379.3L897.0 1379.4L898.4 1379.9L899.9 1380.1L901.4 1379.2L902.9 1379.8L904.4 1379.3L905.9 1379.6L907.3 1379.1L908.8 1379.0L910.3 1380.1L911.8 1378.2L913.3 1379.9L914.7 1379.3L916.2 1379.0L917.7 1378.6L919.2 1378.6L920.7 1378.7L922.2 1379.1L923.6 1378.4L925.1 1378.5L926.6 1378.4L928.1 1378.8L929.6 1378.3L931.1 1378.7L932.5 1378.3L934.0 1377.8L935.5 1378.7L937.0 1377.6L938.5 1378.7L940.0 1378.8L941.4 1379.3L942.9 1377.1L944.4 1377.9L945.9 1378.1L947.4 1378.3L948.9 1376.7L950.3 1377.7L951.8 1378.1L953.3 1377.6L954.8 1377.2L956.3 1377.8L957.8 1377.7L959.2 1377.5L960.7 1377.4L962.2 1377.1L963.7 1377.4L965.2 1376.8L966.7 1377.3L968.1 1377.4L969.6 1377.5L971.1 1377.4L972.6 1376.8L974.1 1377.4L975.5 1376.2L977.0 1376.9L978.5 1377.3L980.0 1377.0L981.5 1376.7L983.0 1376.9L984.4 1377.7L985.9 1376.0L987.4 1375.8L988.9 1376.1L990.4 1375.6L991.9 1376.0L993.3 1376.5L994.8 1376.0L996.3 1376.6L997.8 1375.9L999.3 1375.6L1000.8 1376.3L1002.2 1375.5L1003.7 1375.7L1005.2 1375.1L1006.7 1376.4L1008.2 1374.9L1009.7 1375.2L1011.1 1375.1L1012.6 1375.1L1014.1 1375.7L1015.6 1375.6L1017.1 1375.5L1018.6 1375.6L1020.0 1375.2L1021.5 1375.0L1023.0 1375.3L1024.5 1374.4L1026.0 1375.3L1027.4 1374.7L1028.9 1374.5L1030.4 1374.9L1031.9 1374.6L1033.4 1374.4L1034.9 1374.7L1036.3 1374.8L1037.8 1375.4L1039.3 1374.1L1040.8 1373.8L1042.3 1373.8L1043.8 1373.9L1045.2 1374.7L1046.7 1374.4L1048.2 1373.8L1049.7 1374.1L1051.2 1374.1L1052.7 1373.5L1054.1 1374.0L1055.6 1373.5L1057.1 1374.2L1058.6 1374.2L1060.1 1373.3L1061.6 1373.2L1063.0 1373.9L1064.5 1373.9L1066.0 1374.1L1067.5 1373.8L1069.0 1373.3L1070.5 1373.2L1071.9 1372.4L1073.4 1373.8L1074.9 1373.1L1076.4 1372.2L1077.9 1373.2L1079.4 1373.3L1080.8 1373.0L1082.3 1372.9L1083.8 1372.6L1085.3 1373.0L1086.8 1372.2L1088.2 1372.2L1089.7 1372.5L1091.2 1372.1L1092.7 1372.3L1094.2 1372.4L1095.7 1372.3L1097.1 1372.5L1098.6 1372.5L1100.1 1371.4L1101.6 1372.6L1103.1 1372.0L1104.6 1372.2L1106.0 1371.8L1107.5 1371.2L1109.0 1372.2L1110.5 1371.9L1112.0 1371.6L1113.5 1372.6L1114.9 1371.1L1116.4 1370.8L1117.9 1371.2L1119.4 1372.1L1120.9 1371.3L1122.4 1370.5L1123.8 1370.4L1125.3 1371.5L1126.8 1370.8L1128.3 1371.1L1129.8 1370.6L1131.3 1371.1L1132.7 1370.6L1134.2 1370.5L1135.7 1370.7L1137.2 1370.4L1138.7 1370.1L1140.2 1370.4L1141.6 1371.0L1143.1 1370.4L1144.6 1370.3L1146.1 1370.6L1147.6 1370.0L1149.0 1370.7L1150.5 1369.6L1152.0 1371.2L1153.5 1370.0L1155.0 1369.6L1156.5 1370.0L1157.9 1369.8L1159.4 1369.4L1160.9 1369.8L1162.4 1369.3L1163.9 1369.9L1165.4 1369.8L1166.8 1369.3L1168.3 1370.3L1169.8 1369.3L1171.3 1369.7L1172.8 1369.0L1174.3 1368.7L1175.7 1369.3L1177.2 1369.4L1178.7 1368.6L1180.2 1369.3L1181.7 1369.0L1183.2 1368.9L1184.6 1368.8L1186.1 1368.0L1187.6 1368.1L1189.1 1368.2L1190.6 1368.9L1192.1 1368.3L1193.5 1368.4L1195.0 1367.5L1196.5 1368.7L1198.0 1368.0L1199.5 1368.4L1200.9 1368.7L1202.4 1367.5L1203.9 1367.5L1205.4 1367.6L1206.9 1367.9L1208.4 1368.5L1209.8 1367.8L1211.3 1367.6L1212.8 1367.4L1214.3 1367.9L1215.8 1367.7L1217.3 1368.1L1218.7 1367.7L1220.2 1367.5L1221.7 1366.9L1223.2 1367.3L1224.7 1367.0L1226.2 1367.1L1227.6 1366.7L1229.1 1367.8L1230.6 1366.9L1232.1 1367.0L1233.6 1367.6L1235.1 1366.7L1236.5 1366.5L1238.0 1366.1L1239.5 1366.6L1241.0 1366.0L1242.5 1366.7L1244.0 1366.6L1245.4 1367.3L1246.9 1366.6L1248.4 1366.7L1249.9 1366.4L1251.4 1366.5L1252.9 1366.0L1254.3 1366.0L1255.8 1365.9L1257.3 1366.5L1258.8 1366.1L1260.3 1365.8L1261.7 1365.7L1263.2 1366.1L1264.7 1365.2L1266.2 1365.3L1267.7 1365.4L1269.2 1366.0L1270.6 1365.8L1272.1 1365.5L1273.6 1364.9L1275.1 1365.0L1276.6 1365.8L1278.1 1365.4L1279.5 1365.2L1281.0 1364.5L1282.5 1365.2L1284.0 1364.8L1285.5 1364.9L1287.0 1363.9L1288.4 1365.0L1289.9 1365.5L1291.4 1365.4L1292.9 1363.6L1294.4 1364.1L1295.9 1364.8L1297.3 1364.9L1298.8 1364.5L1300.3 1364.9L1301.8 1364.5L1303.3 1363.9L1304.8 1363.3L1306.2 1363.7L1307.7 1363.8L1309.2 1363.6L1310.7 1364.3L1312.2 1364.9L1313.6 1364.2L1315.1 1363.7L1316.6 1363.5L1318.1 1364.7L1319.6 1363.4L1321.1 1363.9L1322.5 1362.8L1324.0 1363.0L1325.5 1363.8L1327.0 1363.6L1328.5 1363.9L1330.0 1363.5L1331.4 1363.2L1332.9 1363.2L1334.4 1362.0L1335.9 1362.5L1337.4 1361.8L1338.9 1361.1L1340.3 1360.6L1341.8 1359.5L1343.3 1359.4L1344.8 1359.3L1346.3 1359.6L1347.8 1360.2L1349.2 1359.9L1350.7 1360.7L1352.2 1361.8L1353.7 1362.7L1355.2 1364.7L1356.7 1366.0L1358.1 1368.4L1359.6 1370.5L1361.1 1373.5L1362.6 1375.6L1364.1 1377.9L1365.6 1380.6L1367.0 1383.1L1368.5 1384.7L1370.0 1386.2L1371.5 1387.2L1373.0 1385.8L1374.4 1376.7L1375.9 1343.9L1377.4 1275.9L1378.9 1221.9L1380.4 1276.6L1381.9 1345.1L1383.3 1378.6L1384.8 1388.3L1386.3 1390.3L1387.8 1390.8L1389.3 1391.0L1390.8 1391.0L1392.2 1391.4L1393.7 1391.3L1395.2 1391.4L1396.7 1391.3L1398.2 1391.2L1399.7 1390.9L1401.1 1391.1L1402.6 1390.4L1404.1 1391.2L1405.6 1390.9L1407.1 1390.8L1408.6 1391.6L1410.0 1391.5L1411.5 1391.2L1413.0 1391.3L1414.5 1390.4L1416.0 1390.8L1417.5 1391.0L1418.9 1390.6L1420.4 1390.5L1421.9 1390.6L1423.4 1390.7L1424.9 1390.6L1426.4 1390.2L1427.8 1391.0L1429.3 1390.4L1430.8 1390.2L1432.3 1389.7L1433.8 1390.4L1435.2 1390.8L1436.7 1390.1L1438.2 1390.3L1439.7 1389.9L1441.2 1389.9L1442.7 1390.1L1444.1 1389.9L1445.6 1390.0L1447.1 1389.5L1448.6 1389.8L1450.1 1388.9L1451.6 1390.2L1453.0 1389.0L1454.5 1389.4L1456.0 1389.9L1457.5 1389.4L1459.0 1389.4L1460.5 1389.9L1461.9 1389.8L1463.4 1390.1L1464.9 1390.0L1466.4 1389.2L1467.9 1389.0L1469.4 1389.2L1470.8 1389.0L1472.3 1389.6L1473.8 1388.9L1475.3 1389.4L1476.8 1389.4L1478.3 1389.5L1479.7 1389.2L1481.2 1389.1L1482.7 1389.2L1484.2 1389.3L1485.7 1388.5L1487.1 1388.7L1488.6 1388.8L1490.1 1389.6L1491.6 1388.6L1493.1 1388.8L1494.6 1388.3L1496.0 1387.8L1497.5 1388.3L1499.0 1389.0L1500.5 1388.0L1502.0 1388.6L1503.5 1388.5L1504.9 1388.1L1506.4 1388.3L1507.9 1388.4L1509.4 1388.8L1510.9 1388.6L1512.4 1388.4L1513.8 1387.8L1515.3 1387.7L1516.8 1388.2L1518.3 1388.1L1519.8 1388.3L1521.3 1388.0L1522.7 1388.2L1524.2 1388.2L1525.7 1387.7L1527.2 1388.1L1528.7 1387.5L1530.2 1387.6L1531.6 1387.8L1533.1 1387.8L1534.6 1387.5L1536.1 1387.9L1537.6 1387.5L1539.1 1388.1L1540.5 1386.9L1542.0 1387.5L1543.5 1387.7L1545.0 1387.4L1546.5 1387.4L1547.9 1387.5L1549.4 1387.2L1550.9 1387.7L1552.4 1387.3L1553.9 1387.3L1555.4 1386.9L1556.8 1387.4L1558.3 1387.4L1559.8 1387.0L1561.3 1386.9L1562.8 1386.7L1564.3 1386.7L1565.7 1386.6L1567.2 1386.5L1568.7 1386.6L1570.2 1387.4L1571.7 1386.6L1573.2 1386.1L1574.6 1386.5L1576.1 1386.4L1577.6 1386.8L1579.1 1386.5L1580.6 1386.4L1582.1 1385.9L1583.5 1386.0L1585.0 1386.1L1586.5 1386.4L1588.0 1386.4L1589.5 1386.0L1591.0 1386.3L1592.4 1386.1L1593.9 1386.6L1595.4 1386.0L1596.9 1385.6L1598.4 1385.9L1599.8 1385.4L1601.3 1386.1L1602.8 1385.1L1604.3 1386.1L1605.8 1386.2L1607.3 1386.6L1608.7 1386.0L1610.2 1385.9L1611.7 1385.5L1613.2 1385.1L1614.7 1386.0L1616.2 1385.9L1617.6 1385.1L1619.1 1385.1L1620.6 1385.7L1622.1 1385.7L1623.6 1385.9L1625.1 1385.6L1626.5 1385.6L1628.0 1385.2L1629.5 1385.1L1631.0 1385.5L1632.5 1385.1L1634.0 1385.4L1635.4 1385.4L1636.9 1385.0L1638.4 1384.6L1639.9 1384.7L1641.4 1384.8L1642.9 1385.7L1644.3 1384.9L1645.8 1385.1L1647.3 1385.6L1648.8 1385.0L1650.3 1384.8L1651.8 1385.0L1653.2 1384.8L1654.7 1384.6L1656.2 1384.7L1657.7 1384.5L1659.2 1384.3L1660.6 1384.1L1662.1 1384.4L1663.6 1384.8L1665.1 1384.1L1666.6 1384.6L1668.1 1384.3L1669.5 1384.7L1671.0 1384.6L1672.5 1384.1L1674.0 1383.3L1675.5 1384.6L1677.0 1384.6L1678.4 1384.0L1679.9 1384.1L1681.4 1383.9L1682.9 1383.9L1684.4 1383.8L1685.9 1383.6L1687.3 1383.3L1688.8 1384.4L1690.3 1383.6L1691.8 1383.3L1693.3 1383.2L1694.8 1383.2L1696.2 1383.2L1697.7 1383.0L1699.2 1382.3L1700.7 1382.4L1702.2 1380.9L1703.7 1381.6L1705.1 1381.1L1706.6 1380.4L1708.1 1379.5L1709.6 1379.7L1711.1 1379.9L1712.5 1381.0L1714.0 1381.6L1715.5 1382.3L1717.0 1383.4L1718.5 1385.4L1720.0 1387.3L1721.4 1390.2L1722.9 1391.5L1724.4 1393.6L1725.9 1395.1L1727.4 1397.7L1728.9 1399.0L1730.3 1400.6L1731.8 1402.3L1733.3 1403.7L1734.8 1404.5L1736.3 1403.6L1737.8 1402.0L1739.2 1396.2L1740.7 1384.1L1742.2 1365.2L1743.7 1342.7L1745.2 1316.5L1746.7 1293.8L1748.1 1344.1L1749.6 1382.7L1751.1 1403.5L1752.6 1408.4L1754.1 1409.7L1755.6 1410.0L1757.0 1410.1L1758.5 1410.2L1760.0 1410.1L1761.5 1409.9L1763.0 1410.0L1764.5 1410.1L1765.9 1410.2L1767.4 1410.3L1768.9 1410.1L1770.4 1410.3L1771.9 1409.9L1773.3 1410.1L1774.8 1410.0L1776.3 1410.2L1777.8 1410.1L1779.3 1410.1L1780.8 1409.8L1782.2 1409.9L1783.7 1410.2L1785.2 1410.1L1786.7 1410.0L1788.2 1410.1L1789.7 1410.4L1791.1 1410.1L1792.6 1410.1L1794.1 1409.9L1795.6 1410.0L1797.1 1409.9L1798.6 1410.2L1800.0 1410.0L1801.5 1410.1L1803.0 1410.1L1804.5 1410.0L1806.0 1410.2L1807.5 1410.3L1808.9 1410.6L1810.4 1410.3L1811.9 1410.0L1813.4 1410.2L1814.9 1410.3L1816.4 1409.9L1817.8 1410.4L1819.3 1410.6L1820.8 1409.9L1822.3 1409.9L1823.8 1410.3L1825.3 1410.4L1826.7 1409.8L1828.2 1410.2L1829.7 1410.0L1831.2 1410.2L1832.7 1409.9L1834.1 1410.1L1835.6 1409.8L1837.1 1410.3L1838.6 1410.2L1840.1 1409.8L1841.6 1410.0L1843.0 1410.1L1844.5 1409.8L1846.0 1410.2L1847.5 1409.9L1849.0 1410.2L1850.5 1410.5L1851.9 1410.3L1853.4 1410.2L1854.9 1410.1L1856.4 1409.8L1857.9 1410.4L1859.4 1410.2L1860.8 1410.4L1862.3 1410.2L1863.8 1410.3L1865.3 1410.2L1866.8 1410.2L1868.3 1410.0L1869.7 1410.3L1871.2 1410.3L1872.7 1410.0L1874.2 1410.4L1875.7 1410.2L1877.2 1410.3L1878.6 1410.1L1880.1 1410.3L1881.6 1410.4L1883.1 1410.2L1884.6 1410.4L1886.0 1410.1L1887.5 1410.7L1889.0 1410.1L1890.5 1409.9L1892.0 1410.2L1893.5 1410.4L1894.9 1410.1L1896.4 1410.4L1897.9 1409.9L1899.4 1410.2L1900.9 1410.1L1902.4 1410.2L1903.8 1410.1L1905.3 1410.1L1906.8 1410.3L1908.3 1410.0L1909.8 1410.1L1911.3 1410.0L1912.7 1410.3L1914.2 1410.3L1915.7 1410.4L1917.2 1410.2L1918.7 1410.6L1920.2 1410.2L1921.6 1410.3L1923.1 1409.9L1924.6 1410.4L1926.1 1410.4L1927.6 1410.2L1929.1 1410.2L1930.5 1410.0L1932.0 1410.5L1933.5 1410.0L1935.0 1410.2L1936.5 1410.2L1938.0 1409.2L1939.4 1407.1L1940.9 1405.3L1942.4 1405.6L1943.9 1407.5L1945.4 1408.7L1946.8 1410.2L1948.3 1410.3L1949.8 1410.3L1951.3 1410.4L1952.8 1409.9L1954.3 1410.2L1955.7 1410.5L1957.2 1410.4L1958.7 1410.4L1960.2 1410.3L1961.7 1410.0L1963.2 1410.3L1964.6 1409.9L1966.1 1410.1L1967.6 1410.8L1969.1 1410.8L1970.6 1410.5L1972.1 1410.4L1973.5 1410.3L1975.0 1410.0L1976.5 1410.3L1978.0 1410.2L1979.5 1410.3L1981.0 1410.2L1982.4 1410.4L1983.9 1410.2L1985.4 1410.6L1986.9 1410.1L1988.4 1410.2L1989.9 1410.1L1991.3 1410.5L1992.8 1410.2L1994.3 1410.4L1995.8 1410.0L1997.3 1410.5L1998.7 1410.5L2000.2 1410.3L2001.7 1410.1L2003.2 1410.4L2004.7 1410.2L2006.2 1410.1L2007.6 1410.4L2009.1 1410.4L2010.6 1410.3L2012.1 1409.9L2013.6 1409.1L2015.1 1407.9L2016.5 1406.2L2018.0 1405.9L2019.5 1407.6L2021.0 1409.3L2022.5 1410.1L2024.0 1410.6L2025.4 1410.6L2026.9 1410.6L2028.4 1410.2L2029.9 1410.2L2031.4 1410.2L2032.9 1410.5L2034.3 1410.3L2035.8 1410.5L2037.3 1410.3L2038.8 1410.3L2040.3 1410.6L2041.8 1410.3L2043.2 1410.6L2044.7 1410.6L2046.2 1410.5L2047.7 1410.2L2049.2 1410.2L2050.7 1410.3L2052.1 1410.4L2053.6 1410.6L2055.1 1410.2L2056.6 1410.6L2058.1 1410.3L2059.5 1410.3L2061.0 1410.4L2062.5 1410.5L2064.0 1410.3L2065.5 1410.4L2067.0 1410.5L2068.4 1409.9L2069.9 1410.2L2071.4 1410.3L2072.9 1410.5L2074.4 1410.4L2075.9 1410.0L2077.3 1410.4L2078.8 1410.2L2080.3 1410.3L2081.8 1410.5L2083.3 1410.1L2084.8 1410.4L2086.2 1410.6L2087.7 1410.4L2089.2 1410.2L2090.7 1410.2L2092.2 1410.5L2093.7 1410.2L2095.1 1410.3L2096.6 1410.5L2098.1 1410.5L2099.6 1410.7L2101.1 1410.1L2102.6 1410.4L2104.0 1410.5L2105.5 1410.4L2107.0 1410.3L2108.5 1410.5L2110.0 1410.5L2111.4 1410.3L2112.9 1410.3L2114.4 1410.4L2115.9 1410.7L2117.4 1410.3L2118.9 1410.2L2120.3 1410.1L2121.8 1409.8L2123.3 1409.3L2124.8 1408.1L2126.3 1407.3L2127.8 1406.3L2129.2 1407.0L2130.7 1407.4L2132.2 1408.8L2133.7 1409.8L2135.2 1410.1L2136.7 1410.5L2138.1 1410.1L2139.6 1410.5L2141.1 1410.2L2142.6 1410.6L2144.1 1410.2L2145.6 1410.5L2147.0 1410.3L2148.5 1410.6L2150.0 1410.7L2151.5 1410.3L2153.0 1410.8L2154.5 1410.9L2155.9 1411.0L2157.4 1411.3L2158.9 1411.2L2160.4 1411.7L2161.9 1412.2L2163.4 1412.0L2164.8 1412.6L2166.3 1413.3L2167.8 1413.5"/>
<path class="cv" stroke="#000000" style="stroke-width:7.0" d="M240.0 1602.0L241.5 1601.2L243.0 1603.1L244.5 1602.0L246.0 1601.8L247.4 1601.5L248.9 1601.7L250.4 1600.6L251.9 1601.7L253.4 1602.2L254.9 1600.6L256.3 1601.2L257.8 1600.3L259.3 1600.0L260.8 1600.4L262.3 1599.9L263.8 1599.9L265.2 1600.1L266.7 1599.8L268.2 1600.3L269.7 1600.0L271.2 1599.7L272.7 1599.5L274.1 1599.0L275.6 1599.0L277.1 1599.0L278.6 1598.8L280.1 1598.5L281.6 1598.9L283.0 1599.1L284.5 1597.8L286.0 1598.4L287.5 1597.7L289.0 1597.6L290.4 1597.6L291.9 1597.8L293.4 1597.7L294.9 1597.6L296.4 1597.3L297.9 1597.5L299.3 1597.3L300.8 1596.7L302.3 1597.0L303.8 1596.9L305.3 1597.1L306.8 1597.0L308.2 1597.0L309.7 1595.9L311.2 1596.5L312.7 1595.7L314.2 1595.3L315.7 1595.7L317.1 1595.3L318.6 1595.0L320.1 1594.7L321.6 1595.0L323.1 1594.5L324.6 1594.0L326.0 1594.5L327.5 1594.3L329.0 1593.8L330.5 1593.9L332.0 1594.0L333.5 1594.0L334.9 1594.3L336.4 1594.1L337.9 1593.5L339.4 1592.6L340.9 1592.5L342.4 1591.5L343.8 1591.9L345.3 1591.1L346.8 1591.6L348.3 1590.7L349.8 1591.9L351.2 1593.1L352.7 1593.8L354.2 1595.9L355.7 1596.1L357.2 1597.1L358.7 1598.3L360.1 1598.9L361.6 1600.5L363.1 1600.8L364.6 1602.2L366.1 1603.0L367.6 1602.8L369.0 1603.7L370.5 1603.7L372.0 1604.1L373.5 1604.3L375.0 1604.5L376.5 1604.9L377.9 1604.4L379.4 1604.4L380.9 1604.7L382.4 1604.4L383.9 1604.5L385.4 1604.9L386.8 1605.1L388.3 1603.9L389.8 1604.5L391.3 1604.9L392.8 1604.3L394.3 1604.7L395.7 1603.9L397.2 1605.0L398.7 1604.3L400.2 1604.8L401.7 1604.7L403.1 1604.9L404.6 1605.1L406.1 1603.9L407.6 1604.1L409.1 1604.1L410.6 1604.2L412.0 1603.9L413.5 1604.2L415.0 1603.7L416.5 1603.4L418.0 1603.6L419.5 1602.9L420.9 1602.9L422.4 1603.7L423.9 1603.5L425.4 1602.8L426.9 1603.8L428.4 1603.2L429.8 1602.5L431.3 1603.6L432.8 1602.1L434.3 1602.5L435.8 1602.4L437.3 1602.0L438.7 1602.3L440.2 1601.7L441.7 1602.1L443.2 1600.7L444.7 1601.9L446.2 1601.2L447.6 1602.0L449.1 1601.2L450.6 1601.1L452.1 1601.5L453.6 1601.6L455.1 1601.2L456.5 1600.3L458.0 1600.9L459.5 1601.0L461.0 1600.2L462.5 1601.0L463.9 1600.4L465.4 1600.7L466.9 1600.4L468.4 1599.5L469.9 1599.7L471.4 1599.6L472.8 1599.5L474.3 1599.3L475.8 1599.6L477.3 1599.4L478.8 1599.4L480.3 1599.2L481.7 1599.8L483.2 1599.5L484.7 1598.7L486.2 1598.7L487.7 1598.5L489.2 1598.1L490.6 1598.9L492.1 1598.4L493.6 1598.0L495.1 1599.2L496.6 1597.8L498.1 1598.2L499.5 1597.9L501.0 1597.9L502.5 1597.3L504.0 1597.7L505.5 1597.8L507.0 1596.6L508.4 1596.5L509.9 1597.0L511.4 1597.4L512.9 1597.1L514.4 1597.6L515.8 1597.4L517.3 1595.8L518.8 1596.5L520.3 1596.4L521.8 1596.3L523.3 1595.5L524.7 1596.2L526.2 1595.2L527.7 1595.9L529.2 1595.6L530.7 1595.4L532.2 1595.0L533.6 1594.7L535.1 1595.5L536.6 1595.2L538.1 1595.0L539.6 1594.7L541.1 1594.7L542.5 1594.3L544.0 1594.8L545.5 1594.5L547.0 1594.4L548.5 1594.2L550.0 1593.4L551.4 1593.4L552.9 1593.8L554.4 1594.1L555.9 1593.3L557.4 1593.7L558.9 1593.9L560.3 1592.7L561.8 1593.2L563.3 1592.8L564.8 1593.4L566.3 1593.5L567.8 1592.9L569.2 1593.2L570.7 1592.1L572.2 1593.1L573.7 1591.3L575.2 1591.7L576.6 1592.1L578.1 1592.0L579.6 1591.6L581.1 1591.6L582.6 1592.2L584.1 1592.8L585.5 1591.7L587.0 1591.8L588.5 1591.0L590.0 1590.8L591.5 1590.7L593.0 1590.7L594.4 1590.9L595.9 1590.5L597.4 1590.8L598.9 1589.9L600.4 1590.8L601.9 1590.4L603.3 1590.0L604.8 1590.5L606.3 1590.4L607.8 1590.4L609.3 1589.5L610.8 1588.7L612.2 1589.4L613.7 1589.4L615.2 1589.3L616.7 1588.6L618.2 1589.1L619.7 1589.5L621.1 1589.3L622.6 1588.1L624.1 1588.1L625.6 1588.5L627.1 1588.6L628.5 1588.4L630.0 1588.5L631.5 1587.8L633.0 1588.6L634.5 1587.7L636.0 1589.1L637.4 1588.1L638.9 1588.4L640.4 1587.5L641.9 1588.4L643.4 1587.3L644.9 1587.7L646.3 1587.1L647.8 1587.6L649.3 1586.3L650.8 1586.2L652.3 1586.4L653.8 1586.7L655.2 1586.0L656.7 1587.1L658.2 1585.9L659.7 1586.1L661.2 1586.4L662.7 1586.1L664.1 1586.1L665.6 1585.1L667.1 1585.6L668.6 1585.3L670.1 1585.0L671.6 1585.3L673.0 1584.2L674.5 1583.8L676.0 1581.7L677.5 1580.5L679.0 1580.5L680.5 1579.5L681.9 1579.3L683.4 1578.9L684.9 1578.4L686.4 1580.4L687.9 1580.3L689.3 1580.3L690.8 1581.5L692.3 1582.2L693.8 1583.9L695.3 1583.8L696.8 1585.0L698.2 1587.2L699.7 1588.1L701.2 1589.1L702.7 1589.8L704.2 1589.5L705.7 1588.5L707.1 1589.3L708.6 1588.0L710.1 1585.0L711.6 1582.0L713.1 1578.2L714.6 1576.2L716.0 1574.0L717.5 1573.6L719.0 1574.3L720.5 1576.2L722.0 1577.6L723.5 1580.1L724.9 1581.0L726.4 1584.2L727.9 1585.9L729.4 1590.4L730.9 1594.5L732.4 1598.3L733.8 1601.2L735.3 1601.8L736.8 1602.4L738.3 1604.3L739.8 1604.0L741.3 1603.6L742.7 1604.5L744.2 1603.4L745.7 1604.6L747.2 1604.0L748.7 1603.6L750.1 1604.4L751.6 1604.0L753.1 1605.0L754.6 1604.5L756.1 1604.4L757.6 1604.8L759.0 1604.9L760.5 1604.9L762.0 1604.6L763.5 1605.1L765.0 1605.3L766.5 1604.9L767.9 1604.4L769.4 1605.0L770.9 1605.2L772.4 1603.9L773.9 1603.8L775.4 1604.4L776.8 1604.3L778.3 1604.2L779.8 1604.0L781.3 1604.0L782.8 1603.9L784.3 1603.7L785.7 1604.0L787.2 1604.6L788.7 1604.3L790.2 1604.3L791.7 1604.2L793.2 1603.7L794.6 1603.3L796.1 1603.7L797.6 1603.1L799.1 1604.2L800.6 1603.4L802.0 1603.6L803.5 1602.9L805.0 1603.4L806.5 1602.7L808.0 1603.4L809.5 1602.8L810.9 1602.9L812.4 1602.4L813.9 1602.9L815.4 1603.0L816.9 1602.5L818.4 1603.0L819.8 1603.0L821.3 1602.8L822.8 1602.1L824.3 1602.2L825.8 1602.9L827.3 1602.8L828.7 1602.6L830.2 1602.8L831.7 1602.1L833.2 1602.1L834.7 1602.0L836.2 1603.2L837.6 1602.7L839.1 1602.7L840.6 1602.3L842.1 1602.4L843.6 1602.3L845.1 1601.5L846.5 1601.8L848.0 1600.4L849.5 1602.4L851.0 1601.0L852.5 1601.1L854.0 1602.5L855.4 1601.4L856.9 1600.8L858.4 1601.4L859.9 1600.9L861.4 1601.3L862.8 1601.1L864.3 1601.8L865.8 1601.7L867.3 1600.9L868.8 1601.4L870.3 1600.7L871.7 1600.6L873.2 1601.2L874.7 1600.7L876.2 1600.6L877.7 1601.0L879.2 1600.6L880.6 1600.8L882.1 1599.9L883.6 1599.6L885.1 1600.1L886.6 1600.7L888.1 1600.3L889.5 1600.0L891.0 1599.8L892.5 1600.3L894.0 1599.4L895.5 1599.5L897.0 1599.6L898.4 1599.1L899.9 1599.0L901.4 1599.7L902.9 1599.1L904.4 1599.2L905.9 1600.3L907.3 1599.6L908.8 1599.1L910.3 1598.9L911.8 1598.7L913.3 1599.1L914.7 1597.6L916.2 1598.9L917.7 1599.1L919.2 1598.9L920.7 1598.4L922.2 1598.6L923.6 1597.8L925.1 1598.4L926.6 1597.8L928.1 1599.0L929.6 1598.0L931.1 1597.9L932.5 1597.7L934.0 1599.2L935.5 1597.2L937.0 1597.6L938.5 1597.7L940.0 1597.2L941.4 1598.0L942.9 1598.3L944.4 1596.7L945.9 1596.9L947.4 1597.3L948.9 1596.8L950.3 1596.4L951.8 1596.8L953.3 1596.5L954.8 1596.4L956.3 1597.5L957.8 1596.8L959.2 1597.2L960.7 1597.2L962.2 1597.1L963.7 1597.5L965.2 1596.7L966.7 1596.1L968.1 1597.1L969.6 1596.2L971.1 1596.2L972.6 1596.8L974.1 1595.9L975.5 1595.4L977.0 1595.4L978.5 1596.4L980.0 1595.6L981.5 1595.2L983.0 1595.8L984.4 1595.8L985.9 1595.8L987.4 1595.0L988.9 1596.3L990.4 1596.2L991.9 1594.8L993.3 1595.9L994.8 1595.0L996.3 1595.4L997.8 1595.5L999.3 1594.6L1000.8 1594.6L1002.2 1594.3L1003.7 1594.8L1005.2 1594.6L1006.7 1594.5L1008.2 1594.5L1009.7 1594.6L1011.1 1594.6L1012.6 1594.0L1014.1 1594.4L1015.6 1594.0L1017.1 1594.1L1018.6 1594.2L1020.0 1594.1L1021.5 1593.5L1023.0 1594.0L1024.5 1594.6L1026.0 1593.5L1027.4 1593.5L1028.9 1593.4L1030.4 1594.7L1031.9 1594.1L1033.4 1594.3L1034.9 1592.6L1036.3 1592.8L1037.8 1593.7L1039.3 1592.5L1040.8 1592.8L1042.3 1594.0L1043.8 1593.4L1045.2 1593.7L1046.7 1593.2L1048.2 1592.3L1049.7 1592.4L1051.2 1593.4L1052.7 1592.3L1054.1 1592.9L1055.6 1592.3L1057.1 1591.7L1058.6 1591.3L1060.1 1592.3L1061.6 1592.7L1063.0 1592.7L1064.5 1591.7L1066.0 1591.7L1067.5 1592.2L1069.0 1592.0L1070.5 1591.7L1071.9 1591.8L1073.4 1592.2L1074.9 1591.2L1076.4 1591.2L1077.9 1591.1L1079.4 1591.1L1080.8 1591.4L1082.3 1591.0L1083.8 1590.7L1085.3 1590.8L1086.8 1590.8L1088.2 1591.1L1089.7 1591.2L1091.2 1590.7L1092.7 1590.6L1094.2 1590.9L1095.7 1591.0L1097.1 1589.2L1098.6 1590.2L1100.1 1590.2L1101.6 1589.8L1103.1 1590.1L1104.6 1589.7L1106.0 1590.5L1107.5 1591.0L1109.0 1590.2L1110.5 1589.8L1112.0 1589.7L1113.5 1590.5L1114.9 1588.6L1116.4 1589.7L1117.9 1588.9L1119.4 1589.4L1120.9 1589.7L1122.4 1589.6L1123.8 1589.8L1125.3 1589.6L1126.8 1589.7L1128.3 1589.7L1129.8 1588.5L1131.3 1588.8L1132.7 1588.1L1134.2 1588.8L1135.7 1589.0L1137.2 1588.9L1138.7 1587.8L1140.2 1589.3L1141.6 1588.1L1143.1 1587.9L1144.6 1588.6L1146.1 1588.5L1147.6 1587.4L1149.0 1588.1L1150.5 1588.0L1152.0 1587.9L1153.5 1588.0L1155.0 1587.8L1156.5 1587.9L1157.9 1588.8L1159.4 1587.2L1160.9 1587.5L1162.4 1586.9L1163.9 1588.3L1165.4 1587.1L1166.8 1587.4L1168.3 1587.5L1169.8 1587.4L1171.3 1587.0L1172.8 1586.9L1174.3 1586.9L1175.7 1587.4L1177.2 1587.1L1178.7 1586.7L1180.2 1587.7L1181.7 1586.4L1183.2 1586.6L1184.6 1586.4L1186.1 1586.0L1187.6 1586.4L1189.1 1585.9L1190.6 1586.5L1192.1 1585.5L1193.5 1586.5L1195.0 1585.8L1196.5 1585.5L1198.0 1585.8L1199.5 1586.2L1200.9 1585.6L1202.4 1585.7L1203.9 1585.3L1205.4 1585.8L1206.9 1585.6L1208.4 1586.1L1209.8 1585.1L1211.3 1585.7L1212.8 1584.8L1214.3 1585.8L1215.8 1585.4L1217.3 1584.8L1218.7 1584.6L1220.2 1584.4L1221.7 1585.7L1223.2 1584.4L1224.7 1585.4L1226.2 1585.3L1227.6 1584.7L1229.1 1584.6L1230.6 1584.2L1232.1 1584.4L1233.6 1585.0L1235.1 1584.5L1236.5 1584.5L1238.0 1583.9L1239.5 1583.9L1241.0 1583.6L1242.5 1583.7L1244.0 1584.6L1245.4 1584.1L1246.9 1583.4L1248.4 1584.2L1249.9 1584.1L1251.4 1583.9L1252.9 1583.1L1254.3 1584.1L1255.8 1582.9L1257.3 1583.5L1258.8 1583.6L1260.3 1583.1L1261.7 1582.9L1263.2 1582.1L1264.7 1583.5L1266.2 1583.0L1267.7 1583.0L1269.2 1583.6L1270.6 1582.5L1272.1 1582.5L1273.6 1582.8L1275.1 1582.3L1276.6 1582.9L1278.1 1582.2L1279.5 1582.2L1281.0 1582.2L1282.5 1582.3L1284.0 1581.7L1285.5 1581.9L1287.0 1581.5L1288.4 1581.8L1289.9 1581.7L1291.4 1582.6L1292.9 1580.8L1294.4 1581.9L1295.9 1581.8L1297.3 1581.4L1298.8 1580.8L1300.3 1580.4L1301.8 1581.4L1303.3 1580.3L1304.8 1580.7L1306.2 1581.8L1307.7 1581.2L1309.2 1581.7L1310.7 1580.6L1312.2 1581.2L1313.6 1580.8L1315.1 1581.0L1316.6 1580.7L1318.1 1581.0L1319.6 1581.2L1321.1 1580.2L1322.5 1581.7L1324.0 1580.3L1325.5 1580.0L1327.0 1580.7L1328.5 1580.3L1330.0 1579.3L1331.4 1578.9L1332.9 1579.6L1334.4 1579.7L1335.9 1579.3L1337.4 1578.3L1338.9 1577.7L1340.3 1577.5L1341.8 1577.7L1343.3 1576.7L1344.8 1577.7L1346.3 1577.1L1347.8 1577.4L1349.2 1577.8L1350.7 1579.3L1352.2 1580.9L1353.7 1582.1L1355.2 1584.4L1356.7 1585.7L1358.1 1589.1L1359.6 1591.4L1361.1 1593.4L1362.6 1595.6L1364.1 1599.0L1365.6 1601.3L1367.0 1602.9L1368.5 1604.4L1370.0 1605.4L1371.5 1604.0L1373.0 1594.4L1374.4 1559.5L1375.9 1487.1L1377.4 1429.5L1378.9 1488.0L1380.4 1561.2L1381.9 1597.0L1383.3 1607.5L1384.8 1609.8L1386.3 1610.4L1387.8 1610.6L1389.3 1610.6L1390.8 1610.7L1392.2 1610.4L1393.7 1610.5L1395.2 1610.8L1396.7 1610.9L1398.2 1609.8L1399.7 1610.8L1401.1 1611.1L1402.6 1610.3L1404.1 1610.2L1405.6 1610.2L1407.1 1610.6L1408.6 1610.8L1410.0 1610.1L1411.5 1610.1L1413.0 1609.6L1414.5 1610.5L1416.0 1609.8L1417.5 1610.1L1418.9 1610.3L1420.4 1609.7L1421.9 1610.2L1423.4 1609.8L1424.9 1610.1L1426.4 1609.9L1427.8 1610.0L1429.3 1610.0L1430.8 1609.6L1432.3 1609.3L1433.8 1609.8L1435.2 1609.9L1436.7 1609.7L1438.2 1609.7L1439.7 1609.6L1441.2 1609.3L1442.7 1609.2L1444.1 1609.4L1445.6 1609.3L1447.1 1609.3L1448.6 1609.6L1450.1 1608.9L1451.6 1608.7L1453.0 1609.1L1454.5 1609.2L1456.0 1609.0L1457.5 1609.1L1459.0 1609.1L1460.5 1608.8L1461.9 1609.1L1463.4 1609.1L1464.9 1608.6L1466.4 1608.6L1467.9 1608.3L1469.4 1608.7L1470.8 1609.6L1472.3 1608.6L1473.8 1608.5L1475.3 1608.4L1476.8 1607.9L1478.3 1608.3L1479.7 1608.8L1481.2 1609.0L1482.7 1608.1L1484.2 1608.7L1485.7 1608.3L1487.1 1607.5L1488.6 1607.9L1490.1 1607.9L1491.6 1608.5L1493.1 1608.4L1494.6 1608.4L1496.0 1608.6L1497.5 1608.3L1499.0 1608.2L1500.5 1608.0L1502.0 1607.8L1503.5 1608.2L1504.9 1607.4L1506.4 1607.4L1507.9 1607.7L1509.4 1607.8L1510.9 1607.5L1512.4 1608.1L1513.8 1607.9L1515.3 1607.4L1516.8 1607.6L1518.3 1606.8L1519.8 1607.9L1521.3 1607.5L1522.7 1607.2L1524.2 1606.7L1525.7 1606.8L1527.2 1606.3L1528.7 1607.3L1530.2 1607.4L1531.6 1607.5L1533.1 1606.5L1534.6 1607.3L1536.1 1606.6L1537.6 1606.1L1539.1 1607.0L1540.5 1607.1L1542.0 1606.6L1543.5 1606.6L1545.0 1606.4L1546.5 1606.6L1547.9 1606.8L1549.4 1607.0L1550.9 1605.8L1552.4 1606.5L1553.9 1606.3L1555.4 1606.2L1556.8 1605.7L1558.3 1606.0L1559.8 1606.0L1561.3 1606.2L1562.8 1605.6L1564.3 1605.2L1565.7 1606.0L1567.2 1605.5L1568.7 1606.2L1570.2 1605.6L1571.7 1605.7L1573.2 1605.2L1574.6 1605.8L1576.1 1605.2L1577.6 1606.1L1579.1 1605.6L1580.6 1606.0L1582.1 1605.7L1583.5 1605.4L1585.0 1605.3L1586.5 1605.2L1588.0 1605.9L1589.5 1605.6L1591.0 1605.4L1592.4 1604.6L1593.9 1605.9L1595.4 1605.6L1596.9 1604.5L1598.4 1605.4L1599.8 1605.0L1601.3 1605.0L1602.8 1605.3L1604.3 1605.3L1605.8 1604.7L1607.3 1604.6L1608.7 1605.8L1610.2 1604.5L1611.7 1604.7L1613.2 1605.0L1614.7 1605.0L1616.2 1604.4L1617.6 1604.3L1619.1 1604.3L1620.6 1605.1L1622.1 1604.6L1623.6 1604.8L1625.1 1604.6L1626.5 1604.3L1628.0 1604.5L1629.5 1604.4L1631.0 1604.7L1632.5 1604.3L1634.0 1604.8L1635.4 1603.8L1636.9 1604.4L1638.4 1603.9L1639.9 1604.2L1641.4 1604.0L1642.9 1604.1L1644.3 1603.8L1645.8 1604.1L1647.3 1603.7L1648.8 1603.3L1650.3 1603.9L1651.8 1603.7L1653.2 1603.1L1654.7 1604.2L1656.2 1603.5L1657.7 1603.5L1659.2 1603.4L1660.6 1604.0L1662.1 1603.8L1663.6 1603.1L1665.1 1603.0L1666.6 1603.2L1668.1 1603.0L1669.5 1603.5L1671.0 1603.1L1672.5 1603.0L1674.0 1603.5L1675.5 1603.3L1677.0 1603.5L1678.4 1602.5L1679.9 1602.9L1681.4 1602.7L1682.9 1603.3L1684.4 1603.2L1685.9 1603.0L1687.3 1603.0L1688.8 1602.0L1690.3 1602.0L1691.8 1602.5L1693.3 1602.3L1694.8 1602.9L1696.2 1602.0L1697.7 1601.3L1699.2 1600.9L1700.7 1599.9L1702.2 1599.7L1703.7 1599.2L1705.1 1598.6L1706.6 1598.5L1708.1 1598.5L1709.6 1598.8L1711.1 1599.1L1712.5 1600.2L1714.0 1602.0L1715.5 1602.2L1717.0 1604.2L1718.5 1606.6L1720.0 1609.0L1721.4 1611.3L1722.9 1612.8L1724.4 1615.4L1725.9 1616.9L1727.4 1617.7L1728.9 1620.1L1730.3 1621.9L1731.8 1623.3L1733.3 1624.1L1734.8 1623.1L1736.3 1621.3L1737.8 1615.0L1739.2 1601.9L1740.7 1581.5L1742.2 1557.1L1743.7 1528.6L1745.2 1504.0L1746.7 1558.4L1748.1 1600.2L1749.6 1622.6L1751.1 1628.0L1752.6 1629.4L1754.1 1629.7L1755.6 1629.8L1757.0 1629.8L1758.5 1629.6L1760.0 1629.9L1761.5 1629.7L1763.0 1629.8L1764.5 1629.5L1765.9 1629.9L1767.4 1629.9L1768.9 1630.2L1770.4 1630.0L1771.9 1629.9L1773.3 1630.2L1774.8 1630.0L1776.3 1629.8L1777.8 1630.1L1779.3 1630.3L1780.8 1630.1L1782.2 1630.3L1783.7 1630.2L1785.2 1629.9L1786.7 1630.0L1788.2 1630.3L1789.7 1630.2L1791.1 1629.8L1792.6 1630.2L1794.1 1630.0L1795.6 1630.2L1797.1 1630.0L1798.6 1630.3L1800.0 1630.5L1801.5 1630.6L1803.0 1630.0L1804.5 1630.0L1806.0 1629.9L1807.5 1630.5L1808.9 1630.4L1810.4 1630.0L1811.9 1630.0L1813.4 1630.1L1814.9 1630.2L1816.4 1629.9L1817.8 1630.1L1819.3 1630.4L1820.8 1630.5L1822.3 1630.0L1823.8 1630.1L1825.3 1630.2L1826.7 1630.1L1828.2 1630.4L1829.7 1630.1L1831.2 1630.5L1832.7 1630.3L1834.1 1630.4L1835.6 1630.1L1837.1 1630.3L1838.6 1630.1L1840.1 1630.2L1841.6 1630.3L1843.0 1630.5L1844.5 1630.1L1846.0 1630.0L1847.5 1630.6L1849.0 1630.5L1850.5 1630.3L1851.9 1630.1L1853.4 1630.4L1854.9 1629.9L1856.4 1630.1L1857.9 1630.3L1859.4 1630.1L1860.8 1630.4L1862.3 1630.6L1863.8 1630.6L1865.3 1630.4L1866.8 1629.8L1868.3 1630.1L1869.7 1630.6L1871.2 1630.5L1872.7 1630.2L1874.2 1630.4L1875.7 1630.2L1877.2 1630.5L1878.6 1630.2L1880.1 1630.2L1881.6 1630.3L1883.1 1630.3L1884.6 1630.3L1886.0 1630.3L1887.5 1630.1L1889.0 1630.5L1890.5 1630.4L1892.0 1630.1L1893.5 1630.2L1894.9 1630.2L1896.4 1630.3L1897.9 1630.4L1899.4 1630.2L1900.9 1630.3L1902.4 1630.3L1903.8 1630.3L1905.3 1630.1L1906.8 1630.1L1908.3 1630.3L1909.8 1630.5L1911.3 1630.4L1912.7 1630.4L1914.2 1630.2L1915.7 1630.5L1917.2 1630.2L1918.7 1630.7L1920.2 1629.7L1921.6 1630.4L1923.1 1630.3L1924.6 1630.6L1926.1 1630.1L1927.6 1630.5L1929.1 1630.4L1930.5 1630.2L1932.0 1630.9L1933.5 1630.2L1935.0 1630.3L1936.5 1630.2L1938.0 1630.1L1939.4 1629.4L1940.9 1628.9L1942.4 1628.8L1943.9 1629.4L1945.4 1629.9L1946.8 1630.7L1948.3 1630.4L1949.8 1630.4L1951.3 1630.6L1952.8 1630.1L1954.3 1630.9L1955.7 1630.5L1957.2 1630.3L1958.7 1630.6L1960.2 1630.4L1961.7 1630.3L1963.2 1630.3L1964.6 1630.4L1966.1 1630.2L1967.6 1630.8L1969.1 1630.7L1970.6 1630.3L1972.1 1630.5L1973.5 1630.4L1975.0 1630.3L1976.5 1630.1L1978.0 1630.2L1979.5 1630.4L1981.0 1630.6L1982.4 1630.4L1983.9 1630.5L1985.4 1630.4L1986.9 1630.1L1988.4 1630.6L1989.9 1630.1L1991.3 1630.5L1992.8 1630.4L1994.3 1630.4L1995.8 1630.9L1997.3 1630.1L1998.7 1630.6L2000.2 1630.4L2001.7 1630.5L2003.2 1630.5L2004.7 1630.3L2006.2 1630.5L2007.6 1630.2L2009.1 1630.0L2010.6 1630.1L2012.1 1630.6L2013.6 1629.9L2015.1 1629.3L2016.5 1628.4L2018.0 1628.7L2019.5 1629.5L2021.0 1629.6L2022.5 1630.4L2024.0 1630.0L2025.4 1630.4L2026.9 1630.6L2028.4 1630.6L2029.9 1630.2L2031.4 1630.3L2032.9 1630.8L2034.3 1630.2L2035.8 1630.7L2037.3 1630.5L2038.8 1630.6L2040.3 1630.8L2041.8 1630.0L2043.2 1630.5L2044.7 1630.5L2046.2 1630.5L2047.7 1630.7L2049.2 1631.0L2050.7 1630.8L2052.1 1630.3L2053.6 1630.3L2055.1 1630.4L2056.6 1630.7L2058.1 1630.6L2059.5 1630.2L2061.0 1630.6L2062.5 1630.7L2064.0 1630.3L2065.5 1630.4L2067.0 1630.0L2068.4 1630.6L2069.9 1630.7L2071.4 1630.6L2072.9 1630.4L2074.4 1629.9L2075.9 1630.1L2077.3 1630.3L2078.8 1630.3L2080.3 1630.4L2081.8 1630.1L2083.3 1630.4L2084.8 1630.6L2086.2 1630.5L2087.7 1630.3L2089.2 1630.6L2090.7 1630.3L2092.2 1630.2L2093.7 1630.2L2095.1 1630.5L2096.6 1630.5L2098.1 1630.3L2099.6 1630.4L2101.1 1630.8L2102.6 1630.7L2104.0 1630.7L2105.5 1630.5L2107.0 1630.2L2108.5 1630.6L2110.0 1630.7L2111.4 1630.6L2112.9 1630.6L2114.4 1630.6L2115.9 1630.4L2117.4 1630.3L2118.9 1630.3L2120.3 1630.4L2121.8 1629.9L2123.3 1629.4L2124.8 1627.6L2126.3 1627.0L2127.8 1626.2L2129.2 1626.1L2130.7 1627.1L2132.2 1628.6L2133.7 1629.7L2135.2 1630.0L2136.7 1630.3L2138.1 1630.4L2139.6 1630.5L2141.1 1630.6L2142.6 1630.5L2144.1 1630.6L2145.6 1630.7L2147.0 1630.9L2148.5 1630.5L2150.0 1630.6L2151.5 1630.7L2153.0 1631.1L2154.5 1631.1L2155.9 1631.3L2157.4 1631.3L2158.9 1631.4L2160.4 1632.4L2161.9 1632.8L2163.4 1633.3L2164.8 1633.6L2166.3 1634.3L2167.8 1634.4"/>
<text class="tick" transform="translate(2167.0 1744.5) scale(1 1.026)">0</text>
<text class="tick" transform="translate(1870.4 1744.5) scale(1 1.026)">200</text>
<text class="tick" transform="translate(1573.8 1744.5) scale(1 1.026)">400</text>
<text class="tick" transform="translate(1277.3 1744.5) scale(1 1.026)">600</text>
<text class="tick" transform="translate(980.7 1744.5) scale(1 1.026)">800</text>
<text class="tick" transform="translate(684.1 1744.5) scale(1 1.026)">1000</text>
<text class="tick" transform="translate(387.5 1744.5) scale(1 1.026)">1200</text>
<text class="lab" transform="translate(387.2 232.7) scale(1 1.026)">PHB/20TAC</text>
<text class="lab" transform="translate(389.6 476.5) scale(1 1.026)">PHB/10TAC</text>
<text class="lab" transform="translate(390.5 706.0) scale(1 1.026)">PHB/5TAC</text>
<text class="lab" transform="translate(390.2 899.4) scale(1 1.026)">PHB/20PHO</text>
<text class="lab" transform="translate(390.2 1095.2) scale(1 1.026)">PHB/10PHO</text>
<text class="lab" transform="translate(389.8 1303.0) scale(1 1.026)">PHB/5PHO</text>
<text class="lab" transform="translate(385.2 1523.0) scale(1 1.026)">PHB</text>
<text class="lab" transform="translate(1346 124.3) scale(1 1.026)">O1s</text>
<text class="lab" transform="translate(1710 189.3) scale(1 1.026)">C1s</text>
<text class="lab" style="font-size:82.4px" transform="translate(852 1854.6) scale(1 1.026)">Binding energy [eV]</text>
<text class="lab" style="font-size:84px" transform="translate(177.8 1161.5) rotate(-90) scale(1 1.026)">Intensity [a.u.]</text>
</svg>
</body></html>
